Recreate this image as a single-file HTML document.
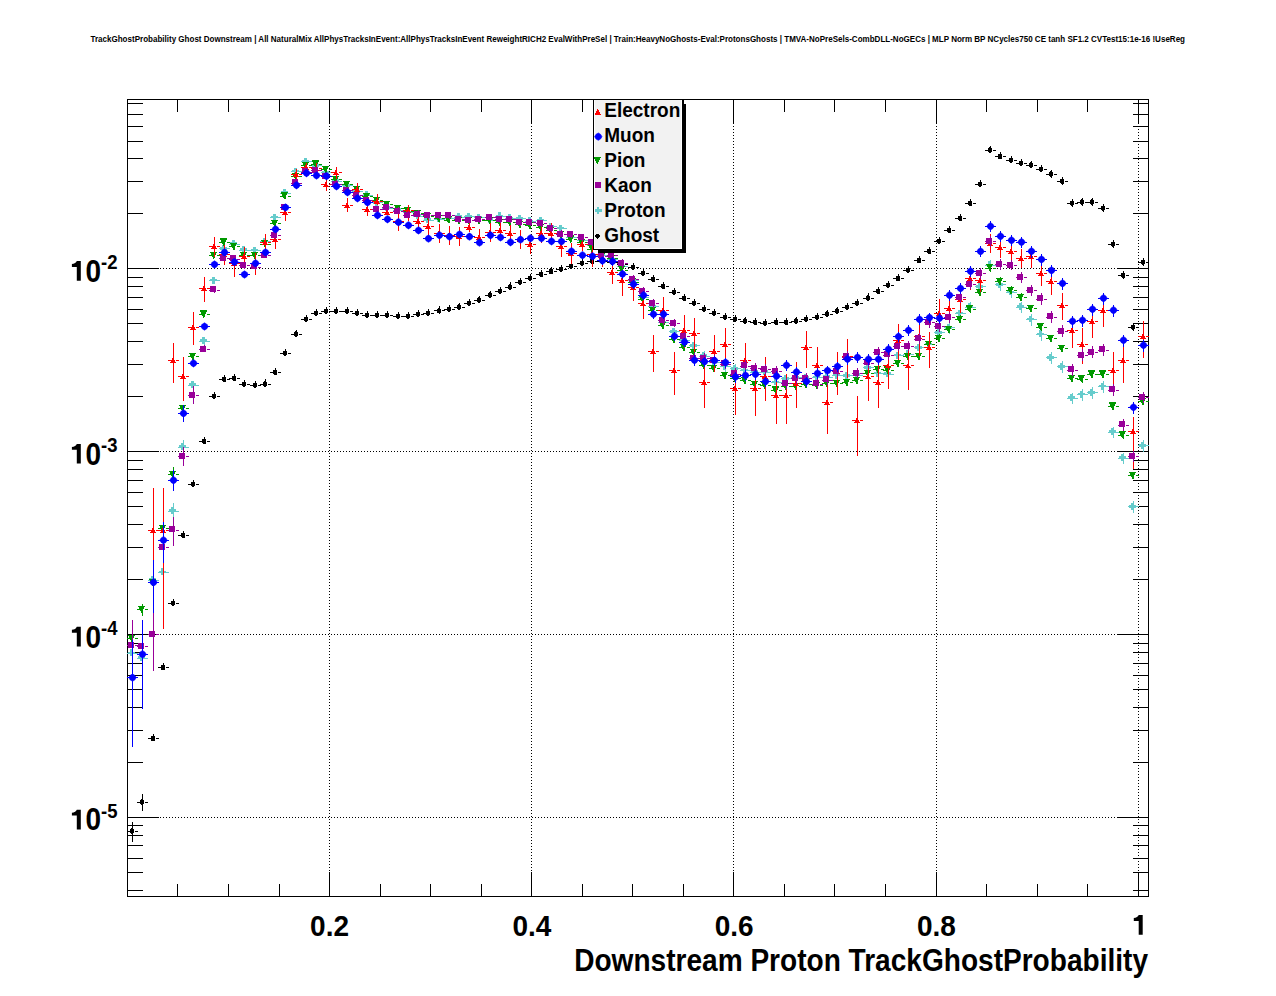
<!DOCTYPE html>
<html><head><meta charset="utf-8"><title>TrackGhostProbability</title>
<style>
html,body{margin:0;padding:0;background:#fff;overflow:hidden;width:1276px;height:996px;}
svg{display:block;}
text{font-family:"Liberation Sans",sans-serif;font-weight:bold;fill:#000;}
.lg{font-size:19px;}
.xl{font-size:28px;}
.yl{font-size:28px;}
.ys{font-size:18.5px;}
.at{font-size:28.5px;}
.tt{font-size:8.6px;}
</style></head>
<body>
<svg width="1276" height="996" viewBox="0 0 1276 996">
<rect x="0" y="0" width="1276" height="996" fill="#fff"/>
<line x1="329.5" y1="99" x2="329.5" y2="896" stroke="#000" stroke-width="1" stroke-dasharray="1,2" shape-rendering="crispEdges"/>
<line x1="531.5" y1="99" x2="531.5" y2="896" stroke="#000" stroke-width="1" stroke-dasharray="1,2" shape-rendering="crispEdges"/>
<line x1="733.5" y1="99" x2="733.5" y2="896" stroke="#000" stroke-width="1" stroke-dasharray="1,2" shape-rendering="crispEdges"/>
<line x1="936.5" y1="99" x2="936.5" y2="896" stroke="#000" stroke-width="1" stroke-dasharray="1,2" shape-rendering="crispEdges"/>
<line x1="1138.5" y1="99" x2="1138.5" y2="896" stroke="#000" stroke-width="1" stroke-dasharray="1,2" shape-rendering="crispEdges"/>
<line x1="127" y1="268.5" x2="1148" y2="268.5" stroke="#000" stroke-width="1" stroke-dasharray="1,2" shape-rendering="crispEdges"/>
<line x1="127" y1="451.5" x2="1148" y2="451.5" stroke="#000" stroke-width="1" stroke-dasharray="1,2" shape-rendering="crispEdges"/>
<line x1="127" y1="634.5" x2="1148" y2="634.5" stroke="#000" stroke-width="1" stroke-dasharray="1,2" shape-rendering="crispEdges"/>
<line x1="127" y1="817.5" x2="1148" y2="817.5" stroke="#000" stroke-width="1" stroke-dasharray="1,2" shape-rendering="crispEdges"/>
<rect x="177" y="884.00" width="1" height="13.00" fill="#000"/>
<rect x="177" y="99.00" width="1" height="13.00" fill="#000"/>
<rect x="228" y="884.00" width="1" height="13.00" fill="#000"/>
<rect x="228" y="99.00" width="1" height="13.00" fill="#000"/>
<rect x="279" y="884.00" width="1" height="13.00" fill="#000"/>
<rect x="279" y="99.00" width="1" height="13.00" fill="#000"/>
<rect x="329" y="872.00" width="1" height="25.00" fill="#000"/>
<rect x="329" y="99.00" width="1" height="25.00" fill="#000"/>
<rect x="380" y="884.00" width="1" height="13.00" fill="#000"/>
<rect x="380" y="99.00" width="1" height="13.00" fill="#000"/>
<rect x="430" y="884.00" width="1" height="13.00" fill="#000"/>
<rect x="430" y="99.00" width="1" height="13.00" fill="#000"/>
<rect x="481" y="884.00" width="1" height="13.00" fill="#000"/>
<rect x="481" y="99.00" width="1" height="13.00" fill="#000"/>
<rect x="531" y="872.00" width="1" height="25.00" fill="#000"/>
<rect x="531" y="99.00" width="1" height="25.00" fill="#000"/>
<rect x="582" y="884.00" width="1" height="13.00" fill="#000"/>
<rect x="582" y="99.00" width="1" height="13.00" fill="#000"/>
<rect x="632" y="884.00" width="1" height="13.00" fill="#000"/>
<rect x="632" y="99.00" width="1" height="13.00" fill="#000"/>
<rect x="683" y="884.00" width="1" height="13.00" fill="#000"/>
<rect x="683" y="99.00" width="1" height="13.00" fill="#000"/>
<rect x="733" y="872.00" width="1" height="25.00" fill="#000"/>
<rect x="733" y="99.00" width="1" height="25.00" fill="#000"/>
<rect x="784" y="884.00" width="1" height="13.00" fill="#000"/>
<rect x="784" y="99.00" width="1" height="13.00" fill="#000"/>
<rect x="834" y="884.00" width="1" height="13.00" fill="#000"/>
<rect x="834" y="99.00" width="1" height="13.00" fill="#000"/>
<rect x="885" y="884.00" width="1" height="13.00" fill="#000"/>
<rect x="885" y="99.00" width="1" height="13.00" fill="#000"/>
<rect x="936" y="872.00" width="1" height="25.00" fill="#000"/>
<rect x="936" y="99.00" width="1" height="25.00" fill="#000"/>
<rect x="986" y="884.00" width="1" height="13.00" fill="#000"/>
<rect x="986" y="99.00" width="1" height="13.00" fill="#000"/>
<rect x="1037" y="884.00" width="1" height="13.00" fill="#000"/>
<rect x="1037" y="99.00" width="1" height="13.00" fill="#000"/>
<rect x="1087" y="884.00" width="1" height="13.00" fill="#000"/>
<rect x="1087" y="99.00" width="1" height="13.00" fill="#000"/>
<rect x="1138" y="872.00" width="1" height="25.00" fill="#000"/>
<rect x="1138" y="99.00" width="1" height="25.00" fill="#000"/>
<rect x="127.00" y="890" width="16.00" height="1" fill="#000"/>
<rect x="1133.00" y="890" width="16.00" height="1" fill="#000"/>
<rect x="127.00" y="872" width="16.00" height="1" fill="#000"/>
<rect x="1133.00" y="872" width="16.00" height="1" fill="#000"/>
<rect x="127.00" y="858" width="16.00" height="1" fill="#000"/>
<rect x="1133.00" y="858" width="16.00" height="1" fill="#000"/>
<rect x="127.00" y="845" width="16.00" height="1" fill="#000"/>
<rect x="1133.00" y="845" width="16.00" height="1" fill="#000"/>
<rect x="127.00" y="835" width="16.00" height="1" fill="#000"/>
<rect x="1133.00" y="835" width="16.00" height="1" fill="#000"/>
<rect x="127.00" y="825" width="16.00" height="1" fill="#000"/>
<rect x="1133.00" y="825" width="16.00" height="1" fill="#000"/>
<rect x="127.00" y="817" width="32.00" height="1" fill="#000"/>
<rect x="1117.00" y="817" width="32.00" height="1" fill="#000"/>
<rect x="127.00" y="762" width="16.00" height="1" fill="#000"/>
<rect x="1133.00" y="762" width="16.00" height="1" fill="#000"/>
<rect x="127.00" y="730" width="16.00" height="1" fill="#000"/>
<rect x="1133.00" y="730" width="16.00" height="1" fill="#000"/>
<rect x="127.00" y="707" width="16.00" height="1" fill="#000"/>
<rect x="1133.00" y="707" width="16.00" height="1" fill="#000"/>
<rect x="127.00" y="689" width="16.00" height="1" fill="#000"/>
<rect x="1133.00" y="689" width="16.00" height="1" fill="#000"/>
<rect x="127.00" y="675" width="16.00" height="1" fill="#000"/>
<rect x="1133.00" y="675" width="16.00" height="1" fill="#000"/>
<rect x="127.00" y="663" width="16.00" height="1" fill="#000"/>
<rect x="1133.00" y="663" width="16.00" height="1" fill="#000"/>
<rect x="127.00" y="652" width="16.00" height="1" fill="#000"/>
<rect x="1133.00" y="652" width="16.00" height="1" fill="#000"/>
<rect x="127.00" y="643" width="16.00" height="1" fill="#000"/>
<rect x="1133.00" y="643" width="16.00" height="1" fill="#000"/>
<rect x="127.00" y="634" width="32.00" height="1" fill="#000"/>
<rect x="1117.00" y="634" width="32.00" height="1" fill="#000"/>
<rect x="127.00" y="579" width="16.00" height="1" fill="#000"/>
<rect x="1133.00" y="579" width="16.00" height="1" fill="#000"/>
<rect x="127.00" y="547" width="16.00" height="1" fill="#000"/>
<rect x="1133.00" y="547" width="16.00" height="1" fill="#000"/>
<rect x="127.00" y="524" width="16.00" height="1" fill="#000"/>
<rect x="1133.00" y="524" width="16.00" height="1" fill="#000"/>
<rect x="127.00" y="506" width="16.00" height="1" fill="#000"/>
<rect x="1133.00" y="506" width="16.00" height="1" fill="#000"/>
<rect x="127.00" y="492" width="16.00" height="1" fill="#000"/>
<rect x="1133.00" y="492" width="16.00" height="1" fill="#000"/>
<rect x="127.00" y="480" width="16.00" height="1" fill="#000"/>
<rect x="1133.00" y="480" width="16.00" height="1" fill="#000"/>
<rect x="127.00" y="469" width="16.00" height="1" fill="#000"/>
<rect x="1133.00" y="469" width="16.00" height="1" fill="#000"/>
<rect x="127.00" y="460" width="16.00" height="1" fill="#000"/>
<rect x="1133.00" y="460" width="16.00" height="1" fill="#000"/>
<rect x="127.00" y="451" width="32.00" height="1" fill="#000"/>
<rect x="1117.00" y="451" width="32.00" height="1" fill="#000"/>
<rect x="127.00" y="396" width="16.00" height="1" fill="#000"/>
<rect x="1133.00" y="396" width="16.00" height="1" fill="#000"/>
<rect x="127.00" y="364" width="16.00" height="1" fill="#000"/>
<rect x="1133.00" y="364" width="16.00" height="1" fill="#000"/>
<rect x="127.00" y="341" width="16.00" height="1" fill="#000"/>
<rect x="1133.00" y="341" width="16.00" height="1" fill="#000"/>
<rect x="127.00" y="323" width="16.00" height="1" fill="#000"/>
<rect x="1133.00" y="323" width="16.00" height="1" fill="#000"/>
<rect x="127.00" y="309" width="16.00" height="1" fill="#000"/>
<rect x="1133.00" y="309" width="16.00" height="1" fill="#000"/>
<rect x="127.00" y="297" width="16.00" height="1" fill="#000"/>
<rect x="1133.00" y="297" width="16.00" height="1" fill="#000"/>
<rect x="127.00" y="286" width="16.00" height="1" fill="#000"/>
<rect x="1133.00" y="286" width="16.00" height="1" fill="#000"/>
<rect x="127.00" y="277" width="16.00" height="1" fill="#000"/>
<rect x="1133.00" y="277" width="16.00" height="1" fill="#000"/>
<rect x="127.00" y="268" width="32.00" height="1" fill="#000"/>
<rect x="1117.00" y="268" width="32.00" height="1" fill="#000"/>
<rect x="127.00" y="213" width="16.00" height="1" fill="#000"/>
<rect x="1133.00" y="213" width="16.00" height="1" fill="#000"/>
<rect x="127.00" y="181" width="16.00" height="1" fill="#000"/>
<rect x="1133.00" y="181" width="16.00" height="1" fill="#000"/>
<rect x="127.00" y="158" width="16.00" height="1" fill="#000"/>
<rect x="1133.00" y="158" width="16.00" height="1" fill="#000"/>
<rect x="127.00" y="141" width="16.00" height="1" fill="#000"/>
<rect x="1133.00" y="141" width="16.00" height="1" fill="#000"/>
<rect x="127.00" y="126" width="16.00" height="1" fill="#000"/>
<rect x="1133.00" y="126" width="16.00" height="1" fill="#000"/>
<rect x="127.00" y="114" width="16.00" height="1" fill="#000"/>
<rect x="1133.00" y="114" width="16.00" height="1" fill="#000"/>
<rect x="127.00" y="103" width="16.00" height="1" fill="#000"/>
<rect x="1133.00" y="103" width="16.00" height="1" fill="#000"/>
<rect x="127.5" y="99.5" width="1021" height="797" fill="none" stroke="#000" stroke-width="1"/>
<g shape-rendering="crispEdges">
<rect x="126.60" y="831" width="3.70" height="1" fill="#000000"/>
<rect x="135.40" y="831" width="3.00" height="1" fill="#000000"/>
<rect x="132" y="822.30" width="1" height="19.50" fill="#000000"/>
<rect x="136.60" y="802" width="3.70" height="1" fill="#000000"/>
<rect x="145.40" y="802" width="3.00" height="1" fill="#000000"/>
<rect x="142" y="794.20" width="1" height="16.50" fill="#000000"/>
<rect x="147.60" y="738" width="3.70" height="1" fill="#000000"/>
<rect x="156.40" y="738" width="3.00" height="1" fill="#000000"/>
<rect x="153" y="736.50" width="1" height="4.30" fill="#000000"/>
<rect x="157.60" y="667" width="3.70" height="1" fill="#000000"/>
<rect x="166.40" y="667" width="3.00" height="1" fill="#000000"/>
<rect x="163" y="665.50" width="1" height="4.30" fill="#000000"/>
<rect x="167.60" y="603" width="3.70" height="1" fill="#000000"/>
<rect x="176.40" y="603" width="3.00" height="1" fill="#000000"/>
<rect x="173" y="601.30" width="1" height="4.30" fill="#000000"/>
<rect x="177.60" y="535" width="3.70" height="1" fill="#000000"/>
<rect x="186.40" y="535" width="3.00" height="1" fill="#000000"/>
<rect x="183" y="533.40" width="1" height="4.30" fill="#000000"/>
<rect x="187.60" y="484" width="3.70" height="1" fill="#000000"/>
<rect x="196.40" y="484" width="3.00" height="1" fill="#000000"/>
<rect x="193" y="482.30" width="1" height="4.30" fill="#000000"/>
<rect x="198.60" y="441" width="3.70" height="1" fill="#000000"/>
<rect x="207.40" y="441" width="3.00" height="1" fill="#000000"/>
<rect x="204" y="439.40" width="1" height="4.30" fill="#000000"/>
<rect x="208.60" y="396" width="3.70" height="1" fill="#000000"/>
<rect x="217.40" y="396" width="3.00" height="1" fill="#000000"/>
<rect x="214" y="394.30" width="1" height="4.30" fill="#000000"/>
<rect x="218.60" y="379" width="3.70" height="1" fill="#000000"/>
<rect x="227.40" y="379" width="3.00" height="1" fill="#000000"/>
<rect x="224" y="377.40" width="1" height="4.30" fill="#000000"/>
<rect x="228.60" y="378" width="3.70" height="1" fill="#000000"/>
<rect x="237.40" y="378" width="3.00" height="1" fill="#000000"/>
<rect x="234" y="376.40" width="1" height="4.30" fill="#000000"/>
<rect x="238.60" y="384" width="3.70" height="1" fill="#000000"/>
<rect x="247.40" y="384" width="3.00" height="1" fill="#000000"/>
<rect x="244" y="382.30" width="1" height="4.30" fill="#000000"/>
<rect x="249.60" y="385" width="3.70" height="1" fill="#000000"/>
<rect x="258.40" y="385" width="3.00" height="1" fill="#000000"/>
<rect x="255" y="383.30" width="1" height="4.30" fill="#000000"/>
<rect x="259.60" y="384" width="3.70" height="1" fill="#000000"/>
<rect x="268.40" y="384" width="3.00" height="1" fill="#000000"/>
<rect x="265" y="382.00" width="1" height="4.30" fill="#000000"/>
<rect x="269.60" y="372" width="3.70" height="1" fill="#000000"/>
<rect x="278.40" y="372" width="3.00" height="1" fill="#000000"/>
<rect x="275" y="370.40" width="1" height="4.30" fill="#000000"/>
<rect x="279.60" y="353" width="3.70" height="1" fill="#000000"/>
<rect x="288.40" y="353" width="3.00" height="1" fill="#000000"/>
<rect x="285" y="351.30" width="1" height="4.30" fill="#000000"/>
<rect x="290.60" y="334" width="3.70" height="1" fill="#000000"/>
<rect x="299.40" y="334" width="3.00" height="1" fill="#000000"/>
<rect x="296" y="332.10" width="1" height="4.30" fill="#000000"/>
<rect x="300.60" y="319" width="3.70" height="1" fill="#000000"/>
<rect x="309.40" y="319" width="3.00" height="1" fill="#000000"/>
<rect x="306" y="317.20" width="1" height="4.30" fill="#000000"/>
<rect x="310.60" y="313" width="3.70" height="1" fill="#000000"/>
<rect x="319.40" y="313" width="3.00" height="1" fill="#000000"/>
<rect x="316" y="311.20" width="1" height="4.30" fill="#000000"/>
<rect x="320.60" y="311" width="3.70" height="1" fill="#000000"/>
<rect x="329.40" y="311" width="3.00" height="1" fill="#000000"/>
<rect x="326" y="309.30" width="1" height="4.30" fill="#000000"/>
<rect x="330.60" y="311" width="3.70" height="1" fill="#000000"/>
<rect x="339.40" y="311" width="3.00" height="1" fill="#000000"/>
<rect x="336" y="309.30" width="1" height="4.30" fill="#000000"/>
<rect x="341.60" y="311" width="3.70" height="1" fill="#000000"/>
<rect x="350.40" y="311" width="3.00" height="1" fill="#000000"/>
<rect x="347" y="309.30" width="1" height="4.30" fill="#000000"/>
<rect x="351.60" y="313" width="3.70" height="1" fill="#000000"/>
<rect x="360.40" y="313" width="3.00" height="1" fill="#000000"/>
<rect x="357" y="311.20" width="1" height="4.30" fill="#000000"/>
<rect x="361.60" y="315" width="3.70" height="1" fill="#000000"/>
<rect x="370.40" y="315" width="3.00" height="1" fill="#000000"/>
<rect x="367" y="313.20" width="1" height="4.30" fill="#000000"/>
<rect x="371.60" y="315" width="3.70" height="1" fill="#000000"/>
<rect x="380.40" y="315" width="3.00" height="1" fill="#000000"/>
<rect x="377" y="313.20" width="1" height="4.30" fill="#000000"/>
<rect x="381.60" y="315" width="3.70" height="1" fill="#000000"/>
<rect x="390.40" y="315" width="3.00" height="1" fill="#000000"/>
<rect x="387" y="313.20" width="1" height="4.30" fill="#000000"/>
<rect x="392.60" y="316" width="3.70" height="1" fill="#000000"/>
<rect x="401.40" y="316" width="3.00" height="1" fill="#000000"/>
<rect x="398" y="314.30" width="1" height="4.30" fill="#000000"/>
<rect x="402.60" y="316" width="3.70" height="1" fill="#000000"/>
<rect x="411.40" y="316" width="3.00" height="1" fill="#000000"/>
<rect x="408" y="314.30" width="1" height="4.30" fill="#000000"/>
<rect x="412.60" y="314" width="3.70" height="1" fill="#000000"/>
<rect x="421.40" y="314" width="3.00" height="1" fill="#000000"/>
<rect x="418" y="312.20" width="1" height="4.30" fill="#000000"/>
<rect x="422.60" y="313" width="3.70" height="1" fill="#000000"/>
<rect x="431.40" y="313" width="3.00" height="1" fill="#000000"/>
<rect x="428" y="311.20" width="1" height="4.30" fill="#000000"/>
<rect x="433.60" y="310" width="3.70" height="1" fill="#000000"/>
<rect x="442.40" y="310" width="3.00" height="1" fill="#000000"/>
<rect x="439" y="308.90" width="1" height="4.30" fill="#000000"/>
<rect x="443.60" y="309" width="3.70" height="1" fill="#000000"/>
<rect x="452.40" y="309" width="3.00" height="1" fill="#000000"/>
<rect x="449" y="307.20" width="1" height="4.30" fill="#000000"/>
<rect x="453.60" y="307" width="3.70" height="1" fill="#000000"/>
<rect x="462.40" y="307" width="3.00" height="1" fill="#000000"/>
<rect x="459" y="305.10" width="1" height="4.30" fill="#000000"/>
<rect x="463.60" y="303" width="3.70" height="1" fill="#000000"/>
<rect x="472.40" y="303" width="3.00" height="1" fill="#000000"/>
<rect x="469" y="301.30" width="1" height="4.30" fill="#000000"/>
<rect x="473.60" y="300" width="3.70" height="1" fill="#000000"/>
<rect x="482.40" y="300" width="3.00" height="1" fill="#000000"/>
<rect x="479" y="298.10" width="1" height="4.30" fill="#000000"/>
<rect x="484.60" y="295" width="3.70" height="1" fill="#000000"/>
<rect x="493.40" y="295" width="3.00" height="1" fill="#000000"/>
<rect x="490" y="293.10" width="1" height="4.30" fill="#000000"/>
<rect x="494.60" y="291" width="3.70" height="1" fill="#000000"/>
<rect x="503.40" y="291" width="3.00" height="1" fill="#000000"/>
<rect x="500" y="289.20" width="1" height="4.30" fill="#000000"/>
<rect x="504.60" y="287" width="3.70" height="1" fill="#000000"/>
<rect x="513.40" y="287" width="3.00" height="1" fill="#000000"/>
<rect x="510" y="285.00" width="1" height="4.30" fill="#000000"/>
<rect x="514.60" y="282" width="3.70" height="1" fill="#000000"/>
<rect x="523.40" y="282" width="3.00" height="1" fill="#000000"/>
<rect x="520" y="280.20" width="1" height="4.30" fill="#000000"/>
<rect x="524.60" y="278" width="3.70" height="1" fill="#000000"/>
<rect x="533.40" y="278" width="3.00" height="1" fill="#000000"/>
<rect x="530" y="276.20" width="1" height="4.30" fill="#000000"/>
<rect x="535.60" y="274" width="3.70" height="1" fill="#000000"/>
<rect x="544.40" y="274" width="3.00" height="1" fill="#000000"/>
<rect x="541" y="272.40" width="1" height="4.30" fill="#000000"/>
<rect x="545.60" y="271" width="3.70" height="1" fill="#000000"/>
<rect x="554.40" y="271" width="3.00" height="1" fill="#000000"/>
<rect x="551" y="269.50" width="1" height="4.30" fill="#000000"/>
<rect x="555.60" y="269" width="3.70" height="1" fill="#000000"/>
<rect x="564.40" y="269" width="3.00" height="1" fill="#000000"/>
<rect x="561" y="267.20" width="1" height="4.30" fill="#000000"/>
<rect x="565.60" y="266" width="3.70" height="1" fill="#000000"/>
<rect x="574.40" y="266" width="3.00" height="1" fill="#000000"/>
<rect x="571" y="264.30" width="1" height="4.30" fill="#000000"/>
<rect x="576.60" y="263" width="3.70" height="1" fill="#000000"/>
<rect x="585.40" y="263" width="3.00" height="1" fill="#000000"/>
<rect x="582" y="261.20" width="1" height="4.30" fill="#000000"/>
<rect x="586.60" y="261" width="3.70" height="1" fill="#000000"/>
<rect x="595.40" y="261" width="3.00" height="1" fill="#000000"/>
<rect x="592" y="259.40" width="1" height="4.30" fill="#000000"/>
<rect x="596.60" y="261" width="3.70" height="1" fill="#000000"/>
<rect x="605.40" y="261" width="3.00" height="1" fill="#000000"/>
<rect x="602" y="259.00" width="1" height="4.30" fill="#000000"/>
<rect x="606.60" y="262" width="3.70" height="1" fill="#000000"/>
<rect x="615.40" y="262" width="3.00" height="1" fill="#000000"/>
<rect x="612" y="260.00" width="1" height="4.30" fill="#000000"/>
<rect x="616.60" y="264" width="3.70" height="1" fill="#000000"/>
<rect x="625.40" y="264" width="3.00" height="1" fill="#000000"/>
<rect x="622" y="262.00" width="1" height="4.30" fill="#000000"/>
<rect x="627.60" y="267" width="3.70" height="1" fill="#000000"/>
<rect x="636.40" y="267" width="3.00" height="1" fill="#000000"/>
<rect x="633" y="265.20" width="1" height="4.30" fill="#000000"/>
<rect x="637.60" y="273" width="3.70" height="1" fill="#000000"/>
<rect x="646.40" y="273" width="3.00" height="1" fill="#000000"/>
<rect x="643" y="271.30" width="1" height="4.30" fill="#000000"/>
<rect x="647.60" y="279" width="3.70" height="1" fill="#000000"/>
<rect x="656.40" y="279" width="3.00" height="1" fill="#000000"/>
<rect x="653" y="277.40" width="1" height="4.30" fill="#000000"/>
<rect x="657.60" y="286" width="3.70" height="1" fill="#000000"/>
<rect x="666.40" y="286" width="3.00" height="1" fill="#000000"/>
<rect x="663" y="284.40" width="1" height="4.30" fill="#000000"/>
<rect x="668.60" y="292" width="3.70" height="1" fill="#000000"/>
<rect x="677.40" y="292" width="3.00" height="1" fill="#000000"/>
<rect x="674" y="290.20" width="1" height="4.30" fill="#000000"/>
<rect x="678.60" y="298" width="3.70" height="1" fill="#000000"/>
<rect x="687.40" y="298" width="3.00" height="1" fill="#000000"/>
<rect x="684" y="296.40" width="1" height="4.30" fill="#000000"/>
<rect x="688.60" y="303" width="3.70" height="1" fill="#000000"/>
<rect x="697.40" y="303" width="3.00" height="1" fill="#000000"/>
<rect x="694" y="301.30" width="1" height="4.30" fill="#000000"/>
<rect x="698.60" y="309" width="3.70" height="1" fill="#000000"/>
<rect x="707.40" y="309" width="3.00" height="1" fill="#000000"/>
<rect x="704" y="307.20" width="1" height="4.30" fill="#000000"/>
<rect x="708.60" y="313" width="3.70" height="1" fill="#000000"/>
<rect x="717.40" y="313" width="3.00" height="1" fill="#000000"/>
<rect x="714" y="311.30" width="1" height="4.30" fill="#000000"/>
<rect x="719.60" y="317" width="3.70" height="1" fill="#000000"/>
<rect x="728.40" y="317" width="3.00" height="1" fill="#000000"/>
<rect x="725" y="315.20" width="1" height="4.30" fill="#000000"/>
<rect x="729.60" y="319" width="3.70" height="1" fill="#000000"/>
<rect x="738.40" y="319" width="3.00" height="1" fill="#000000"/>
<rect x="735" y="317.20" width="1" height="4.30" fill="#000000"/>
<rect x="739.60" y="321" width="3.70" height="1" fill="#000000"/>
<rect x="748.40" y="321" width="3.00" height="1" fill="#000000"/>
<rect x="745" y="319.10" width="1" height="4.30" fill="#000000"/>
<rect x="749.60" y="322" width="3.70" height="1" fill="#000000"/>
<rect x="758.40" y="322" width="3.00" height="1" fill="#000000"/>
<rect x="755" y="320.40" width="1" height="4.30" fill="#000000"/>
<rect x="759.60" y="323" width="3.70" height="1" fill="#000000"/>
<rect x="768.40" y="323" width="3.00" height="1" fill="#000000"/>
<rect x="765" y="321.30" width="1" height="4.30" fill="#000000"/>
<rect x="770.60" y="322" width="3.70" height="1" fill="#000000"/>
<rect x="779.40" y="322" width="3.00" height="1" fill="#000000"/>
<rect x="776" y="320.40" width="1" height="4.30" fill="#000000"/>
<rect x="780.60" y="322" width="3.70" height="1" fill="#000000"/>
<rect x="789.40" y="322" width="3.00" height="1" fill="#000000"/>
<rect x="786" y="320.40" width="1" height="4.30" fill="#000000"/>
<rect x="790.60" y="321" width="3.70" height="1" fill="#000000"/>
<rect x="799.40" y="321" width="3.00" height="1" fill="#000000"/>
<rect x="796" y="319.10" width="1" height="4.30" fill="#000000"/>
<rect x="800.60" y="319" width="3.70" height="1" fill="#000000"/>
<rect x="809.40" y="319" width="3.00" height="1" fill="#000000"/>
<rect x="806" y="317.20" width="1" height="4.30" fill="#000000"/>
<rect x="811.60" y="317" width="3.70" height="1" fill="#000000"/>
<rect x="820.40" y="317" width="3.00" height="1" fill="#000000"/>
<rect x="817" y="315.20" width="1" height="4.30" fill="#000000"/>
<rect x="821.60" y="314" width="3.70" height="1" fill="#000000"/>
<rect x="830.40" y="314" width="3.00" height="1" fill="#000000"/>
<rect x="827" y="312.10" width="1" height="4.30" fill="#000000"/>
<rect x="831.60" y="311" width="3.70" height="1" fill="#000000"/>
<rect x="840.40" y="311" width="3.00" height="1" fill="#000000"/>
<rect x="837" y="309.10" width="1" height="4.30" fill="#000000"/>
<rect x="841.60" y="307" width="3.70" height="1" fill="#000000"/>
<rect x="850.40" y="307" width="3.00" height="1" fill="#000000"/>
<rect x="847" y="305.20" width="1" height="4.30" fill="#000000"/>
<rect x="851.60" y="303" width="3.70" height="1" fill="#000000"/>
<rect x="860.40" y="303" width="3.00" height="1" fill="#000000"/>
<rect x="857" y="301.30" width="1" height="4.30" fill="#000000"/>
<rect x="862.60" y="298" width="3.70" height="1" fill="#000000"/>
<rect x="871.40" y="298" width="3.00" height="1" fill="#000000"/>
<rect x="868" y="296.00" width="1" height="4.30" fill="#000000"/>
<rect x="872.60" y="291" width="3.70" height="1" fill="#000000"/>
<rect x="881.40" y="291" width="3.00" height="1" fill="#000000"/>
<rect x="878" y="289.40" width="1" height="4.30" fill="#000000"/>
<rect x="882.60" y="285" width="3.70" height="1" fill="#000000"/>
<rect x="891.40" y="285" width="3.00" height="1" fill="#000000"/>
<rect x="888" y="283.30" width="1" height="4.30" fill="#000000"/>
<rect x="892.60" y="278" width="3.70" height="1" fill="#000000"/>
<rect x="901.40" y="278" width="3.00" height="1" fill="#000000"/>
<rect x="898" y="276.50" width="1" height="4.30" fill="#000000"/>
<rect x="902.60" y="270" width="3.70" height="1" fill="#000000"/>
<rect x="911.40" y="270" width="3.00" height="1" fill="#000000"/>
<rect x="908" y="268.30" width="1" height="4.30" fill="#000000"/>
<rect x="913.60" y="260" width="3.70" height="1" fill="#000000"/>
<rect x="922.40" y="260" width="3.00" height="1" fill="#000000"/>
<rect x="919" y="258.50" width="1" height="4.30" fill="#000000"/>
<rect x="923.60" y="251" width="3.70" height="1" fill="#000000"/>
<rect x="932.40" y="251" width="3.00" height="1" fill="#000000"/>
<rect x="929" y="249.40" width="1" height="4.30" fill="#000000"/>
<rect x="933.60" y="241" width="3.70" height="1" fill="#000000"/>
<rect x="942.40" y="241" width="3.00" height="1" fill="#000000"/>
<rect x="939" y="239.30" width="1" height="4.30" fill="#000000"/>
<rect x="943.60" y="230" width="3.70" height="1" fill="#000000"/>
<rect x="952.40" y="230" width="3.00" height="1" fill="#000000"/>
<rect x="949" y="228.40" width="1" height="4.30" fill="#000000"/>
<rect x="954.60" y="218" width="3.70" height="1" fill="#000000"/>
<rect x="963.40" y="218" width="3.00" height="1" fill="#000000"/>
<rect x="960" y="216.40" width="1" height="4.30" fill="#000000"/>
<rect x="964.60" y="203" width="3.70" height="1" fill="#000000"/>
<rect x="973.40" y="203" width="3.00" height="1" fill="#000000"/>
<rect x="970" y="201.40" width="1" height="4.30" fill="#000000"/>
<rect x="974.60" y="184" width="3.70" height="1" fill="#000000"/>
<rect x="983.40" y="184" width="3.00" height="1" fill="#000000"/>
<rect x="980" y="182.30" width="1" height="4.30" fill="#000000"/>
<rect x="984.60" y="150" width="3.70" height="1" fill="#000000"/>
<rect x="993.40" y="150" width="3.00" height="1" fill="#000000"/>
<rect x="990" y="148.10" width="1" height="4.30" fill="#000000"/>
<rect x="994.60" y="156" width="3.70" height="1" fill="#000000"/>
<rect x="1003.40" y="156" width="3.00" height="1" fill="#000000"/>
<rect x="1000" y="154.50" width="1" height="4.30" fill="#000000"/>
<rect x="1005.60" y="160" width="3.70" height="1" fill="#000000"/>
<rect x="1014.40" y="160" width="3.00" height="1" fill="#000000"/>
<rect x="1011" y="158.30" width="1" height="4.30" fill="#000000"/>
<rect x="1015.60" y="163" width="3.70" height="1" fill="#000000"/>
<rect x="1024.40" y="163" width="3.00" height="1" fill="#000000"/>
<rect x="1021" y="161.20" width="1" height="4.30" fill="#000000"/>
<rect x="1025.60" y="165" width="3.70" height="1" fill="#000000"/>
<rect x="1034.40" y="165" width="3.00" height="1" fill="#000000"/>
<rect x="1031" y="163.10" width="1" height="4.30" fill="#000000"/>
<rect x="1035.60" y="169" width="3.70" height="1" fill="#000000"/>
<rect x="1044.40" y="169" width="3.00" height="1" fill="#000000"/>
<rect x="1041" y="167.30" width="1" height="4.30" fill="#000000"/>
<rect x="1045.60" y="174" width="3.70" height="1" fill="#000000"/>
<rect x="1054.40" y="174" width="3.00" height="1" fill="#000000"/>
<rect x="1051" y="171.10" width="1" height="6.45" fill="#000000"/>
<rect x="1056.60" y="181" width="3.70" height="1" fill="#000000"/>
<rect x="1065.40" y="181" width="3.00" height="1" fill="#000000"/>
<rect x="1062" y="178.40" width="1" height="6.45" fill="#000000"/>
<rect x="1066.60" y="203" width="3.70" height="1" fill="#000000"/>
<rect x="1075.40" y="203" width="3.00" height="1" fill="#000000"/>
<rect x="1072" y="200.30" width="1" height="6.45" fill="#000000"/>
<rect x="1076.60" y="202" width="3.70" height="1" fill="#000000"/>
<rect x="1085.40" y="202" width="3.00" height="1" fill="#000000"/>
<rect x="1082" y="199.10" width="1" height="6.45" fill="#000000"/>
<rect x="1086.60" y="202" width="3.70" height="1" fill="#000000"/>
<rect x="1095.40" y="202" width="3.00" height="1" fill="#000000"/>
<rect x="1092" y="199.10" width="1" height="6.45" fill="#000000"/>
<rect x="1097.60" y="208" width="3.70" height="1" fill="#000000"/>
<rect x="1106.40" y="208" width="3.00" height="1" fill="#000000"/>
<rect x="1103" y="205.30" width="1" height="6.45" fill="#000000"/>
<rect x="1107.60" y="244" width="3.70" height="1" fill="#000000"/>
<rect x="1116.40" y="244" width="3.00" height="1" fill="#000000"/>
<rect x="1113" y="241.30" width="1" height="6.45" fill="#000000"/>
<rect x="1117.60" y="275" width="3.70" height="1" fill="#000000"/>
<rect x="1126.40" y="275" width="3.00" height="1" fill="#000000"/>
<rect x="1123" y="272.40" width="1" height="6.45" fill="#000000"/>
<rect x="1127.60" y="327" width="3.70" height="1" fill="#000000"/>
<rect x="1136.40" y="327" width="3.00" height="1" fill="#000000"/>
<rect x="1133" y="324.30" width="1" height="6.45" fill="#000000"/>
<rect x="1137.60" y="262" width="3.70" height="1" fill="#000000"/>
<rect x="1146.40" y="262" width="3.00" height="1" fill="#000000"/>
<rect x="1143" y="259.30" width="1" height="6.45" fill="#000000"/>
<ellipse cx="132.10" cy="831.00" rx="2.15" ry="2.7" fill="#000000"/>
<rect x="132" y="826.40" width="1" height="2" fill="#000000"/>
<ellipse cx="142.10" cy="802.00" rx="2.15" ry="2.7" fill="#000000"/>
<rect x="142" y="797.40" width="1" height="2" fill="#000000"/>
<ellipse cx="153.10" cy="738.50" rx="2.15" ry="2.7" fill="#000000"/>
<rect x="153" y="733.90" width="1" height="2" fill="#000000"/>
<ellipse cx="163.10" cy="667.50" rx="2.15" ry="2.7" fill="#000000"/>
<rect x="163" y="662.90" width="1" height="2" fill="#000000"/>
<ellipse cx="173.10" cy="603.30" rx="2.15" ry="2.7" fill="#000000"/>
<rect x="173" y="598.70" width="1" height="2" fill="#000000"/>
<ellipse cx="183.10" cy="535.40" rx="2.15" ry="2.7" fill="#000000"/>
<rect x="183" y="530.80" width="1" height="2" fill="#000000"/>
<ellipse cx="193.10" cy="484.30" rx="2.15" ry="2.7" fill="#000000"/>
<rect x="193" y="479.70" width="1" height="2" fill="#000000"/>
<ellipse cx="204.10" cy="441.40" rx="2.15" ry="2.7" fill="#000000"/>
<rect x="204" y="436.80" width="1" height="2" fill="#000000"/>
<ellipse cx="214.10" cy="396.30" rx="2.15" ry="2.7" fill="#000000"/>
<rect x="214" y="391.70" width="1" height="2" fill="#000000"/>
<ellipse cx="224.10" cy="379.40" rx="2.15" ry="2.7" fill="#000000"/>
<rect x="224" y="374.80" width="1" height="2" fill="#000000"/>
<ellipse cx="234.10" cy="378.40" rx="2.15" ry="2.7" fill="#000000"/>
<rect x="234" y="373.80" width="1" height="2" fill="#000000"/>
<ellipse cx="244.10" cy="384.30" rx="2.15" ry="2.7" fill="#000000"/>
<rect x="244" y="379.70" width="1" height="2" fill="#000000"/>
<ellipse cx="255.10" cy="385.30" rx="2.15" ry="2.7" fill="#000000"/>
<rect x="255" y="380.70" width="1" height="2" fill="#000000"/>
<ellipse cx="265.10" cy="384.00" rx="2.15" ry="2.7" fill="#000000"/>
<rect x="265" y="379.40" width="1" height="2" fill="#000000"/>
<ellipse cx="275.10" cy="372.40" rx="2.15" ry="2.7" fill="#000000"/>
<rect x="275" y="367.80" width="1" height="2" fill="#000000"/>
<ellipse cx="285.10" cy="353.30" rx="2.15" ry="2.7" fill="#000000"/>
<rect x="285" y="348.70" width="1" height="2" fill="#000000"/>
<ellipse cx="296.10" cy="334.10" rx="2.15" ry="2.7" fill="#000000"/>
<rect x="296" y="329.50" width="1" height="2" fill="#000000"/>
<ellipse cx="306.10" cy="319.20" rx="2.15" ry="2.7" fill="#000000"/>
<rect x="306" y="314.60" width="1" height="2" fill="#000000"/>
<ellipse cx="316.10" cy="313.20" rx="2.15" ry="2.7" fill="#000000"/>
<rect x="316" y="308.60" width="1" height="2" fill="#000000"/>
<ellipse cx="326.10" cy="311.30" rx="2.15" ry="2.7" fill="#000000"/>
<rect x="326" y="306.70" width="1" height="2" fill="#000000"/>
<ellipse cx="336.10" cy="311.30" rx="2.15" ry="2.7" fill="#000000"/>
<rect x="336" y="306.70" width="1" height="2" fill="#000000"/>
<ellipse cx="347.10" cy="311.30" rx="2.15" ry="2.7" fill="#000000"/>
<rect x="347" y="306.70" width="1" height="2" fill="#000000"/>
<ellipse cx="357.10" cy="313.20" rx="2.15" ry="2.7" fill="#000000"/>
<rect x="357" y="308.60" width="1" height="2" fill="#000000"/>
<ellipse cx="367.10" cy="315.20" rx="2.15" ry="2.7" fill="#000000"/>
<rect x="367" y="310.60" width="1" height="2" fill="#000000"/>
<ellipse cx="377.10" cy="315.20" rx="2.15" ry="2.7" fill="#000000"/>
<rect x="377" y="310.60" width="1" height="2" fill="#000000"/>
<ellipse cx="387.10" cy="315.20" rx="2.15" ry="2.7" fill="#000000"/>
<rect x="387" y="310.60" width="1" height="2" fill="#000000"/>
<ellipse cx="398.10" cy="316.30" rx="2.15" ry="2.7" fill="#000000"/>
<rect x="398" y="311.70" width="1" height="2" fill="#000000"/>
<ellipse cx="408.10" cy="316.30" rx="2.15" ry="2.7" fill="#000000"/>
<rect x="408" y="311.70" width="1" height="2" fill="#000000"/>
<ellipse cx="418.10" cy="314.20" rx="2.15" ry="2.7" fill="#000000"/>
<rect x="418" y="309.60" width="1" height="2" fill="#000000"/>
<ellipse cx="428.10" cy="313.20" rx="2.15" ry="2.7" fill="#000000"/>
<rect x="428" y="308.60" width="1" height="2" fill="#000000"/>
<ellipse cx="439.10" cy="310.90" rx="2.15" ry="2.7" fill="#000000"/>
<rect x="439" y="306.30" width="1" height="2" fill="#000000"/>
<ellipse cx="449.10" cy="309.20" rx="2.15" ry="2.7" fill="#000000"/>
<rect x="449" y="304.60" width="1" height="2" fill="#000000"/>
<ellipse cx="459.10" cy="307.10" rx="2.15" ry="2.7" fill="#000000"/>
<rect x="459" y="302.50" width="1" height="2" fill="#000000"/>
<ellipse cx="469.10" cy="303.30" rx="2.15" ry="2.7" fill="#000000"/>
<rect x="469" y="298.70" width="1" height="2" fill="#000000"/>
<ellipse cx="479.10" cy="300.10" rx="2.15" ry="2.7" fill="#000000"/>
<rect x="479" y="295.50" width="1" height="2" fill="#000000"/>
<ellipse cx="490.10" cy="295.10" rx="2.15" ry="2.7" fill="#000000"/>
<rect x="490" y="290.50" width="1" height="2" fill="#000000"/>
<ellipse cx="500.10" cy="291.20" rx="2.15" ry="2.7" fill="#000000"/>
<rect x="500" y="286.60" width="1" height="2" fill="#000000"/>
<ellipse cx="510.10" cy="287.00" rx="2.15" ry="2.7" fill="#000000"/>
<rect x="510" y="282.40" width="1" height="2" fill="#000000"/>
<ellipse cx="520.10" cy="282.20" rx="2.15" ry="2.7" fill="#000000"/>
<rect x="520" y="277.60" width="1" height="2" fill="#000000"/>
<ellipse cx="530.10" cy="278.20" rx="2.15" ry="2.7" fill="#000000"/>
<rect x="530" y="273.60" width="1" height="2" fill="#000000"/>
<ellipse cx="541.10" cy="274.40" rx="2.15" ry="2.7" fill="#000000"/>
<rect x="541" y="269.80" width="1" height="2" fill="#000000"/>
<ellipse cx="551.10" cy="271.50" rx="2.15" ry="2.7" fill="#000000"/>
<rect x="551" y="266.90" width="1" height="2" fill="#000000"/>
<ellipse cx="561.10" cy="269.20" rx="2.15" ry="2.7" fill="#000000"/>
<rect x="561" y="264.60" width="1" height="2" fill="#000000"/>
<ellipse cx="571.10" cy="266.30" rx="2.15" ry="2.7" fill="#000000"/>
<rect x="571" y="261.70" width="1" height="2" fill="#000000"/>
<ellipse cx="582.10" cy="263.20" rx="2.15" ry="2.7" fill="#000000"/>
<rect x="582" y="258.60" width="1" height="2" fill="#000000"/>
<ellipse cx="592.10" cy="261.40" rx="2.15" ry="2.7" fill="#000000"/>
<rect x="592" y="256.80" width="1" height="2" fill="#000000"/>
<ellipse cx="602.10" cy="261.00" rx="2.15" ry="2.7" fill="#000000"/>
<rect x="602" y="256.40" width="1" height="2" fill="#000000"/>
<ellipse cx="612.10" cy="262.00" rx="2.15" ry="2.7" fill="#000000"/>
<rect x="612" y="257.40" width="1" height="2" fill="#000000"/>
<ellipse cx="622.10" cy="264.00" rx="2.15" ry="2.7" fill="#000000"/>
<rect x="622" y="259.40" width="1" height="2" fill="#000000"/>
<ellipse cx="633.10" cy="267.20" rx="2.15" ry="2.7" fill="#000000"/>
<rect x="633" y="262.60" width="1" height="2" fill="#000000"/>
<ellipse cx="643.10" cy="273.30" rx="2.15" ry="2.7" fill="#000000"/>
<rect x="643" y="268.70" width="1" height="2" fill="#000000"/>
<ellipse cx="653.10" cy="279.40" rx="2.15" ry="2.7" fill="#000000"/>
<rect x="653" y="274.80" width="1" height="2" fill="#000000"/>
<ellipse cx="663.10" cy="286.40" rx="2.15" ry="2.7" fill="#000000"/>
<rect x="663" y="281.80" width="1" height="2" fill="#000000"/>
<ellipse cx="674.10" cy="292.20" rx="2.15" ry="2.7" fill="#000000"/>
<rect x="674" y="287.60" width="1" height="2" fill="#000000"/>
<ellipse cx="684.10" cy="298.40" rx="2.15" ry="2.7" fill="#000000"/>
<rect x="684" y="293.80" width="1" height="2" fill="#000000"/>
<ellipse cx="694.10" cy="303.30" rx="2.15" ry="2.7" fill="#000000"/>
<rect x="694" y="298.70" width="1" height="2" fill="#000000"/>
<ellipse cx="704.10" cy="309.20" rx="2.15" ry="2.7" fill="#000000"/>
<rect x="704" y="304.60" width="1" height="2" fill="#000000"/>
<ellipse cx="714.10" cy="313.30" rx="2.15" ry="2.7" fill="#000000"/>
<rect x="714" y="308.70" width="1" height="2" fill="#000000"/>
<ellipse cx="725.10" cy="317.20" rx="2.15" ry="2.7" fill="#000000"/>
<rect x="725" y="312.60" width="1" height="2" fill="#000000"/>
<ellipse cx="735.10" cy="319.20" rx="2.15" ry="2.7" fill="#000000"/>
<rect x="735" y="314.60" width="1" height="2" fill="#000000"/>
<ellipse cx="745.10" cy="321.10" rx="2.15" ry="2.7" fill="#000000"/>
<rect x="745" y="316.50" width="1" height="2" fill="#000000"/>
<ellipse cx="755.10" cy="322.40" rx="2.15" ry="2.7" fill="#000000"/>
<rect x="755" y="317.80" width="1" height="2" fill="#000000"/>
<ellipse cx="765.10" cy="323.30" rx="2.15" ry="2.7" fill="#000000"/>
<rect x="765" y="318.70" width="1" height="2" fill="#000000"/>
<ellipse cx="776.10" cy="322.40" rx="2.15" ry="2.7" fill="#000000"/>
<rect x="776" y="317.80" width="1" height="2" fill="#000000"/>
<ellipse cx="786.10" cy="322.40" rx="2.15" ry="2.7" fill="#000000"/>
<rect x="786" y="317.80" width="1" height="2" fill="#000000"/>
<ellipse cx="796.10" cy="321.10" rx="2.15" ry="2.7" fill="#000000"/>
<rect x="796" y="316.50" width="1" height="2" fill="#000000"/>
<ellipse cx="806.10" cy="319.20" rx="2.15" ry="2.7" fill="#000000"/>
<rect x="806" y="314.60" width="1" height="2" fill="#000000"/>
<ellipse cx="817.10" cy="317.20" rx="2.15" ry="2.7" fill="#000000"/>
<rect x="817" y="312.60" width="1" height="2" fill="#000000"/>
<ellipse cx="827.10" cy="314.10" rx="2.15" ry="2.7" fill="#000000"/>
<rect x="827" y="309.50" width="1" height="2" fill="#000000"/>
<ellipse cx="837.10" cy="311.10" rx="2.15" ry="2.7" fill="#000000"/>
<rect x="837" y="306.50" width="1" height="2" fill="#000000"/>
<ellipse cx="847.10" cy="307.20" rx="2.15" ry="2.7" fill="#000000"/>
<rect x="847" y="302.60" width="1" height="2" fill="#000000"/>
<ellipse cx="857.10" cy="303.30" rx="2.15" ry="2.7" fill="#000000"/>
<rect x="857" y="298.70" width="1" height="2" fill="#000000"/>
<ellipse cx="868.10" cy="298.00" rx="2.15" ry="2.7" fill="#000000"/>
<rect x="868" y="293.40" width="1" height="2" fill="#000000"/>
<ellipse cx="878.10" cy="291.40" rx="2.15" ry="2.7" fill="#000000"/>
<rect x="878" y="286.80" width="1" height="2" fill="#000000"/>
<ellipse cx="888.10" cy="285.30" rx="2.15" ry="2.7" fill="#000000"/>
<rect x="888" y="280.70" width="1" height="2" fill="#000000"/>
<ellipse cx="898.10" cy="278.50" rx="2.15" ry="2.7" fill="#000000"/>
<rect x="898" y="273.90" width="1" height="2" fill="#000000"/>
<ellipse cx="908.10" cy="270.30" rx="2.15" ry="2.7" fill="#000000"/>
<rect x="908" y="265.70" width="1" height="2" fill="#000000"/>
<ellipse cx="919.10" cy="260.50" rx="2.15" ry="2.7" fill="#000000"/>
<rect x="919" y="255.90" width="1" height="2" fill="#000000"/>
<ellipse cx="929.10" cy="251.40" rx="2.15" ry="2.7" fill="#000000"/>
<rect x="929" y="246.80" width="1" height="2" fill="#000000"/>
<ellipse cx="939.10" cy="241.30" rx="2.15" ry="2.7" fill="#000000"/>
<rect x="939" y="236.70" width="1" height="2" fill="#000000"/>
<ellipse cx="949.10" cy="230.40" rx="2.15" ry="2.7" fill="#000000"/>
<rect x="949" y="225.80" width="1" height="2" fill="#000000"/>
<ellipse cx="960.10" cy="218.40" rx="2.15" ry="2.7" fill="#000000"/>
<rect x="960" y="213.80" width="1" height="2" fill="#000000"/>
<ellipse cx="970.10" cy="203.40" rx="2.15" ry="2.7" fill="#000000"/>
<rect x="970" y="198.80" width="1" height="2" fill="#000000"/>
<ellipse cx="980.10" cy="184.30" rx="2.15" ry="2.7" fill="#000000"/>
<rect x="980" y="179.70" width="1" height="2" fill="#000000"/>
<ellipse cx="990.10" cy="150.10" rx="2.15" ry="2.7" fill="#000000"/>
<rect x="990" y="145.50" width="1" height="2" fill="#000000"/>
<ellipse cx="1000.10" cy="156.50" rx="2.15" ry="2.7" fill="#000000"/>
<rect x="1000" y="151.90" width="1" height="2" fill="#000000"/>
<ellipse cx="1011.10" cy="160.30" rx="2.15" ry="2.7" fill="#000000"/>
<rect x="1011" y="155.70" width="1" height="2" fill="#000000"/>
<ellipse cx="1021.10" cy="163.20" rx="2.15" ry="2.7" fill="#000000"/>
<rect x="1021" y="158.60" width="1" height="2" fill="#000000"/>
<ellipse cx="1031.10" cy="165.10" rx="2.15" ry="2.7" fill="#000000"/>
<rect x="1031" y="160.50" width="1" height="2" fill="#000000"/>
<ellipse cx="1041.10" cy="169.30" rx="2.15" ry="2.7" fill="#000000"/>
<rect x="1041" y="164.70" width="1" height="2" fill="#000000"/>
<ellipse cx="1051.10" cy="174.10" rx="2.15" ry="2.7" fill="#000000"/>
<rect x="1051" y="169.50" width="1" height="2" fill="#000000"/>
<ellipse cx="1062.10" cy="181.40" rx="2.15" ry="2.7" fill="#000000"/>
<rect x="1062" y="176.80" width="1" height="2" fill="#000000"/>
<ellipse cx="1072.10" cy="203.30" rx="2.15" ry="2.7" fill="#000000"/>
<rect x="1072" y="198.70" width="1" height="2" fill="#000000"/>
<ellipse cx="1082.10" cy="202.10" rx="2.15" ry="2.7" fill="#000000"/>
<rect x="1082" y="197.50" width="1" height="2" fill="#000000"/>
<ellipse cx="1092.10" cy="202.10" rx="2.15" ry="2.7" fill="#000000"/>
<rect x="1092" y="197.50" width="1" height="2" fill="#000000"/>
<ellipse cx="1103.10" cy="208.30" rx="2.15" ry="2.7" fill="#000000"/>
<rect x="1103" y="203.70" width="1" height="2" fill="#000000"/>
<ellipse cx="1113.10" cy="244.30" rx="2.15" ry="2.7" fill="#000000"/>
<rect x="1113" y="239.70" width="1" height="2" fill="#000000"/>
<ellipse cx="1123.10" cy="275.40" rx="2.15" ry="2.7" fill="#000000"/>
<rect x="1123" y="270.80" width="1" height="2" fill="#000000"/>
<ellipse cx="1133.10" cy="327.30" rx="2.15" ry="2.7" fill="#000000"/>
<rect x="1133" y="322.70" width="1" height="2" fill="#000000"/>
<ellipse cx="1143.10" cy="262.30" rx="2.15" ry="2.7" fill="#000000"/>
<rect x="1143" y="257.70" width="1" height="2" fill="#000000"/>
<rect x="126.60" y="653" width="3.90" height="1" fill="#66cccc"/>
<rect x="135.30" y="653" width="3.10" height="1" fill="#66cccc"/>
<rect x="132" y="640.00" width="1" height="28.00" fill="#66cccc"/>
<rect x="136.60" y="658" width="3.90" height="1" fill="#66cccc"/>
<rect x="145.30" y="658" width="3.10" height="1" fill="#66cccc"/>
<rect x="142" y="645.00" width="1" height="27.00" fill="#66cccc"/>
<rect x="147.60" y="580" width="3.90" height="1" fill="#66cccc"/>
<rect x="156.30" y="580" width="3.10" height="1" fill="#66cccc"/>
<rect x="153" y="570.00" width="1" height="22.00" fill="#66cccc"/>
<rect x="157.60" y="572" width="3.90" height="1" fill="#66cccc"/>
<rect x="166.30" y="572" width="3.10" height="1" fill="#66cccc"/>
<rect x="163" y="562.00" width="1" height="22.00" fill="#66cccc"/>
<rect x="167.60" y="511" width="3.90" height="1" fill="#66cccc"/>
<rect x="176.30" y="511" width="3.10" height="1" fill="#66cccc"/>
<rect x="173" y="503.00" width="1" height="14.00" fill="#66cccc"/>
<rect x="177.60" y="447" width="3.90" height="1" fill="#66cccc"/>
<rect x="186.30" y="447" width="3.10" height="1" fill="#66cccc"/>
<rect x="183" y="440.00" width="1" height="15.00" fill="#66cccc"/>
<rect x="187.60" y="385" width="3.90" height="1" fill="#66cccc"/>
<rect x="196.30" y="385" width="3.10" height="1" fill="#66cccc"/>
<rect x="193" y="381.90" width="1" height="6.88" fill="#66cccc"/>
<rect x="198.60" y="341" width="3.90" height="1" fill="#66cccc"/>
<rect x="207.30" y="341" width="3.10" height="1" fill="#66cccc"/>
<rect x="204" y="337.80" width="1" height="6.88" fill="#66cccc"/>
<rect x="208.60" y="280" width="3.90" height="1" fill="#66cccc"/>
<rect x="217.30" y="280" width="3.10" height="1" fill="#66cccc"/>
<rect x="214" y="277.40" width="1" height="6.88" fill="#66cccc"/>
<rect x="218.60" y="248" width="3.90" height="1" fill="#66cccc"/>
<rect x="227.30" y="248" width="3.10" height="1" fill="#66cccc"/>
<rect x="224" y="245.60" width="1" height="6.88" fill="#66cccc"/>
<rect x="228.60" y="244" width="3.90" height="1" fill="#66cccc"/>
<rect x="237.30" y="244" width="3.10" height="1" fill="#66cccc"/>
<rect x="234" y="240.80" width="1" height="6.88" fill="#66cccc"/>
<rect x="238.60" y="250" width="3.90" height="1" fill="#66cccc"/>
<rect x="247.30" y="250" width="3.10" height="1" fill="#66cccc"/>
<rect x="244" y="246.80" width="1" height="6.88" fill="#66cccc"/>
<rect x="249.60" y="250" width="3.90" height="1" fill="#66cccc"/>
<rect x="258.30" y="250" width="3.10" height="1" fill="#66cccc"/>
<rect x="255" y="247.40" width="1" height="6.88" fill="#66cccc"/>
<rect x="259.60" y="241" width="3.90" height="1" fill="#66cccc"/>
<rect x="268.30" y="241" width="3.10" height="1" fill="#66cccc"/>
<rect x="265" y="238.40" width="1" height="6.88" fill="#66cccc"/>
<rect x="269.60" y="217" width="3.90" height="1" fill="#66cccc"/>
<rect x="278.30" y="217" width="3.10" height="1" fill="#66cccc"/>
<rect x="275" y="214.30" width="1" height="6.88" fill="#66cccc"/>
<rect x="279.60" y="193" width="3.90" height="1" fill="#66cccc"/>
<rect x="288.30" y="193" width="3.10" height="1" fill="#66cccc"/>
<rect x="285" y="189.80" width="1" height="6.88" fill="#66cccc"/>
<rect x="290.60" y="171" width="3.90" height="1" fill="#66cccc"/>
<rect x="299.30" y="171" width="3.10" height="1" fill="#66cccc"/>
<rect x="296" y="168.40" width="1" height="6.88" fill="#66cccc"/>
<rect x="300.60" y="161" width="3.90" height="1" fill="#66cccc"/>
<rect x="309.30" y="161" width="3.10" height="1" fill="#66cccc"/>
<rect x="306" y="158.50" width="1" height="6.88" fill="#66cccc"/>
<rect x="310.60" y="165" width="3.90" height="1" fill="#66cccc"/>
<rect x="319.30" y="165" width="3.10" height="1" fill="#66cccc"/>
<rect x="316" y="162.70" width="1" height="6.88" fill="#66cccc"/>
<rect x="320.60" y="172" width="3.90" height="1" fill="#66cccc"/>
<rect x="329.30" y="172" width="3.10" height="1" fill="#66cccc"/>
<rect x="326" y="169.30" width="1" height="6.88" fill="#66cccc"/>
<rect x="330.60" y="181" width="3.90" height="1" fill="#66cccc"/>
<rect x="339.30" y="181" width="3.10" height="1" fill="#66cccc"/>
<rect x="336" y="177.80" width="1" height="6.88" fill="#66cccc"/>
<rect x="341.60" y="185" width="3.90" height="1" fill="#66cccc"/>
<rect x="350.30" y="185" width="3.10" height="1" fill="#66cccc"/>
<rect x="347" y="182.60" width="1" height="6.88" fill="#66cccc"/>
<rect x="351.60" y="191" width="3.90" height="1" fill="#66cccc"/>
<rect x="360.30" y="191" width="3.10" height="1" fill="#66cccc"/>
<rect x="357" y="188.60" width="1" height="6.88" fill="#66cccc"/>
<rect x="361.60" y="195" width="3.90" height="1" fill="#66cccc"/>
<rect x="370.30" y="195" width="3.10" height="1" fill="#66cccc"/>
<rect x="367" y="191.80" width="1" height="6.88" fill="#66cccc"/>
<rect x="371.60" y="202" width="3.90" height="1" fill="#66cccc"/>
<rect x="380.30" y="202" width="3.10" height="1" fill="#66cccc"/>
<rect x="377" y="199.60" width="1" height="6.88" fill="#66cccc"/>
<rect x="381.60" y="208" width="3.90" height="1" fill="#66cccc"/>
<rect x="390.30" y="208" width="3.10" height="1" fill="#66cccc"/>
<rect x="387" y="204.80" width="1" height="6.88" fill="#66cccc"/>
<rect x="392.60" y="210" width="3.90" height="1" fill="#66cccc"/>
<rect x="401.30" y="210" width="3.10" height="1" fill="#66cccc"/>
<rect x="398" y="206.80" width="1" height="6.88" fill="#66cccc"/>
<rect x="402.60" y="212" width="3.90" height="1" fill="#66cccc"/>
<rect x="411.30" y="212" width="3.10" height="1" fill="#66cccc"/>
<rect x="408" y="209.10" width="1" height="6.88" fill="#66cccc"/>
<rect x="412.60" y="216" width="3.90" height="1" fill="#66cccc"/>
<rect x="421.30" y="216" width="3.10" height="1" fill="#66cccc"/>
<rect x="418" y="212.80" width="1" height="6.88" fill="#66cccc"/>
<rect x="422.60" y="220" width="3.90" height="1" fill="#66cccc"/>
<rect x="431.30" y="220" width="3.10" height="1" fill="#66cccc"/>
<rect x="428" y="216.80" width="1" height="6.88" fill="#66cccc"/>
<rect x="433.60" y="219" width="3.90" height="1" fill="#66cccc"/>
<rect x="442.30" y="219" width="3.10" height="1" fill="#66cccc"/>
<rect x="439" y="216.00" width="1" height="6.88" fill="#66cccc"/>
<rect x="443.60" y="218" width="3.90" height="1" fill="#66cccc"/>
<rect x="452.30" y="218" width="3.10" height="1" fill="#66cccc"/>
<rect x="449" y="215.00" width="1" height="6.88" fill="#66cccc"/>
<rect x="453.60" y="217" width="3.90" height="1" fill="#66cccc"/>
<rect x="462.30" y="217" width="3.10" height="1" fill="#66cccc"/>
<rect x="459" y="213.90" width="1" height="6.88" fill="#66cccc"/>
<rect x="463.60" y="216" width="3.90" height="1" fill="#66cccc"/>
<rect x="472.30" y="216" width="3.10" height="1" fill="#66cccc"/>
<rect x="469" y="213.40" width="1" height="6.88" fill="#66cccc"/>
<rect x="473.60" y="217" width="3.90" height="1" fill="#66cccc"/>
<rect x="482.30" y="217" width="3.10" height="1" fill="#66cccc"/>
<rect x="479" y="214.30" width="1" height="6.88" fill="#66cccc"/>
<rect x="484.60" y="220" width="3.90" height="1" fill="#66cccc"/>
<rect x="493.30" y="220" width="3.10" height="1" fill="#66cccc"/>
<rect x="490" y="216.90" width="1" height="6.88" fill="#66cccc"/>
<rect x="494.60" y="216" width="3.90" height="1" fill="#66cccc"/>
<rect x="503.30" y="216" width="3.10" height="1" fill="#66cccc"/>
<rect x="500" y="213.00" width="1" height="6.88" fill="#66cccc"/>
<rect x="504.60" y="218" width="3.90" height="1" fill="#66cccc"/>
<rect x="513.30" y="218" width="3.10" height="1" fill="#66cccc"/>
<rect x="510" y="215.00" width="1" height="6.88" fill="#66cccc"/>
<rect x="514.60" y="218" width="3.90" height="1" fill="#66cccc"/>
<rect x="523.30" y="218" width="3.10" height="1" fill="#66cccc"/>
<rect x="520" y="215.60" width="1" height="6.88" fill="#66cccc"/>
<rect x="524.60" y="221" width="3.90" height="1" fill="#66cccc"/>
<rect x="533.30" y="221" width="3.10" height="1" fill="#66cccc"/>
<rect x="530" y="218.00" width="1" height="6.88" fill="#66cccc"/>
<rect x="535.60" y="220" width="3.90" height="1" fill="#66cccc"/>
<rect x="544.30" y="220" width="3.10" height="1" fill="#66cccc"/>
<rect x="541" y="217.30" width="1" height="6.88" fill="#66cccc"/>
<rect x="545.60" y="226" width="3.90" height="1" fill="#66cccc"/>
<rect x="554.30" y="226" width="3.10" height="1" fill="#66cccc"/>
<rect x="551" y="223.30" width="1" height="6.88" fill="#66cccc"/>
<rect x="555.60" y="228" width="3.90" height="1" fill="#66cccc"/>
<rect x="564.30" y="228" width="3.10" height="1" fill="#66cccc"/>
<rect x="561" y="225.40" width="1" height="6.88" fill="#66cccc"/>
<rect x="565.60" y="237" width="3.90" height="1" fill="#66cccc"/>
<rect x="574.30" y="237" width="3.10" height="1" fill="#66cccc"/>
<rect x="571" y="234.10" width="1" height="6.88" fill="#66cccc"/>
<rect x="576.60" y="240" width="3.90" height="1" fill="#66cccc"/>
<rect x="585.30" y="240" width="3.10" height="1" fill="#66cccc"/>
<rect x="582" y="237.00" width="1" height="6.88" fill="#66cccc"/>
<rect x="586.60" y="245" width="3.90" height="1" fill="#66cccc"/>
<rect x="595.30" y="245" width="3.10" height="1" fill="#66cccc"/>
<rect x="592" y="242.30" width="1" height="6.88" fill="#66cccc"/>
<rect x="596.60" y="255" width="3.90" height="1" fill="#66cccc"/>
<rect x="605.30" y="255" width="3.10" height="1" fill="#66cccc"/>
<rect x="602" y="251.00" width="1" height="8.60" fill="#66cccc"/>
<rect x="606.60" y="259" width="3.90" height="1" fill="#66cccc"/>
<rect x="615.30" y="259" width="3.10" height="1" fill="#66cccc"/>
<rect x="612" y="255.60" width="1" height="8.60" fill="#66cccc"/>
<rect x="616.60" y="266" width="3.90" height="1" fill="#66cccc"/>
<rect x="625.30" y="266" width="3.10" height="1" fill="#66cccc"/>
<rect x="622" y="262.60" width="1" height="8.60" fill="#66cccc"/>
<rect x="627.60" y="280" width="3.90" height="1" fill="#66cccc"/>
<rect x="636.30" y="280" width="3.10" height="1" fill="#66cccc"/>
<rect x="633" y="276.70" width="1" height="8.60" fill="#66cccc"/>
<rect x="637.60" y="297" width="3.90" height="1" fill="#66cccc"/>
<rect x="646.30" y="297" width="3.10" height="1" fill="#66cccc"/>
<rect x="643" y="293.00" width="1" height="8.60" fill="#66cccc"/>
<rect x="647.60" y="306" width="3.90" height="1" fill="#66cccc"/>
<rect x="656.30" y="306" width="3.10" height="1" fill="#66cccc"/>
<rect x="653" y="302.50" width="1" height="8.60" fill="#66cccc"/>
<rect x="657.60" y="322" width="3.90" height="1" fill="#66cccc"/>
<rect x="666.30" y="322" width="3.10" height="1" fill="#66cccc"/>
<rect x="663" y="318.30" width="1" height="8.60" fill="#66cccc"/>
<rect x="668.60" y="331" width="3.90" height="1" fill="#66cccc"/>
<rect x="677.30" y="331" width="3.10" height="1" fill="#66cccc"/>
<rect x="674" y="327.80" width="1" height="8.60" fill="#66cccc"/>
<rect x="678.60" y="340" width="3.90" height="1" fill="#66cccc"/>
<rect x="687.30" y="340" width="3.10" height="1" fill="#66cccc"/>
<rect x="684" y="336.00" width="1" height="8.60" fill="#66cccc"/>
<rect x="688.60" y="345" width="3.90" height="1" fill="#66cccc"/>
<rect x="697.30" y="345" width="3.10" height="1" fill="#66cccc"/>
<rect x="694" y="340.70" width="1" height="10.75" fill="#66cccc"/>
<rect x="698.60" y="356" width="3.90" height="1" fill="#66cccc"/>
<rect x="707.30" y="356" width="3.10" height="1" fill="#66cccc"/>
<rect x="704" y="351.00" width="1" height="10.75" fill="#66cccc"/>
<rect x="708.60" y="362" width="3.90" height="1" fill="#66cccc"/>
<rect x="717.30" y="362" width="3.10" height="1" fill="#66cccc"/>
<rect x="714" y="357.00" width="1" height="10.75" fill="#66cccc"/>
<rect x="719.60" y="366" width="3.90" height="1" fill="#66cccc"/>
<rect x="728.30" y="366" width="3.10" height="1" fill="#66cccc"/>
<rect x="725" y="361.50" width="1" height="10.75" fill="#66cccc"/>
<rect x="729.60" y="368" width="3.90" height="1" fill="#66cccc"/>
<rect x="738.30" y="368" width="3.10" height="1" fill="#66cccc"/>
<rect x="735" y="363.80" width="1" height="10.75" fill="#66cccc"/>
<rect x="739.60" y="370" width="3.90" height="1" fill="#66cccc"/>
<rect x="748.30" y="370" width="3.10" height="1" fill="#66cccc"/>
<rect x="745" y="365.60" width="1" height="10.75" fill="#66cccc"/>
<rect x="749.60" y="372" width="3.90" height="1" fill="#66cccc"/>
<rect x="758.30" y="372" width="3.10" height="1" fill="#66cccc"/>
<rect x="755" y="367.00" width="1" height="10.75" fill="#66cccc"/>
<rect x="759.60" y="372" width="3.90" height="1" fill="#66cccc"/>
<rect x="768.30" y="372" width="3.10" height="1" fill="#66cccc"/>
<rect x="765" y="367.00" width="1" height="10.75" fill="#66cccc"/>
<rect x="770.60" y="382" width="3.90" height="1" fill="#66cccc"/>
<rect x="779.30" y="382" width="3.10" height="1" fill="#66cccc"/>
<rect x="776" y="377.40" width="1" height="10.75" fill="#66cccc"/>
<rect x="780.60" y="378" width="3.90" height="1" fill="#66cccc"/>
<rect x="789.30" y="378" width="3.10" height="1" fill="#66cccc"/>
<rect x="786" y="373.80" width="1" height="10.75" fill="#66cccc"/>
<rect x="790.60" y="377" width="3.90" height="1" fill="#66cccc"/>
<rect x="799.30" y="377" width="3.10" height="1" fill="#66cccc"/>
<rect x="796" y="372.90" width="1" height="10.75" fill="#66cccc"/>
<rect x="800.60" y="378" width="3.90" height="1" fill="#66cccc"/>
<rect x="809.30" y="378" width="3.10" height="1" fill="#66cccc"/>
<rect x="806" y="373.00" width="1" height="10.75" fill="#66cccc"/>
<rect x="811.60" y="377" width="3.90" height="1" fill="#66cccc"/>
<rect x="820.30" y="377" width="3.10" height="1" fill="#66cccc"/>
<rect x="817" y="372.40" width="1" height="10.75" fill="#66cccc"/>
<rect x="821.60" y="377" width="3.90" height="1" fill="#66cccc"/>
<rect x="830.30" y="377" width="3.10" height="1" fill="#66cccc"/>
<rect x="827" y="372.00" width="1" height="10.75" fill="#66cccc"/>
<rect x="831.60" y="375" width="3.90" height="1" fill="#66cccc"/>
<rect x="840.30" y="375" width="3.10" height="1" fill="#66cccc"/>
<rect x="837" y="370.60" width="1" height="10.75" fill="#66cccc"/>
<rect x="841.60" y="375" width="3.90" height="1" fill="#66cccc"/>
<rect x="850.30" y="375" width="3.10" height="1" fill="#66cccc"/>
<rect x="847" y="370.90" width="1" height="10.75" fill="#66cccc"/>
<rect x="851.60" y="375" width="3.90" height="1" fill="#66cccc"/>
<rect x="860.30" y="375" width="3.10" height="1" fill="#66cccc"/>
<rect x="857" y="370.00" width="1" height="10.75" fill="#66cccc"/>
<rect x="862.60" y="367" width="3.90" height="1" fill="#66cccc"/>
<rect x="871.30" y="367" width="3.10" height="1" fill="#66cccc"/>
<rect x="868" y="362.80" width="1" height="10.75" fill="#66cccc"/>
<rect x="872.60" y="373" width="3.90" height="1" fill="#66cccc"/>
<rect x="881.30" y="373" width="3.10" height="1" fill="#66cccc"/>
<rect x="878" y="368.60" width="1" height="10.75" fill="#66cccc"/>
<rect x="882.60" y="374" width="3.90" height="1" fill="#66cccc"/>
<rect x="891.30" y="374" width="3.10" height="1" fill="#66cccc"/>
<rect x="888" y="369.10" width="1" height="10.75" fill="#66cccc"/>
<rect x="892.60" y="355" width="3.90" height="1" fill="#66cccc"/>
<rect x="901.30" y="355" width="3.10" height="1" fill="#66cccc"/>
<rect x="898" y="350.60" width="1" height="10.75" fill="#66cccc"/>
<rect x="902.60" y="354" width="3.90" height="1" fill="#66cccc"/>
<rect x="911.30" y="354" width="3.10" height="1" fill="#66cccc"/>
<rect x="908" y="349.20" width="1" height="10.75" fill="#66cccc"/>
<rect x="913.60" y="347" width="3.90" height="1" fill="#66cccc"/>
<rect x="922.30" y="347" width="3.10" height="1" fill="#66cccc"/>
<rect x="919" y="342.90" width="1" height="10.75" fill="#66cccc"/>
<rect x="923.60" y="344" width="3.90" height="1" fill="#66cccc"/>
<rect x="932.30" y="344" width="3.10" height="1" fill="#66cccc"/>
<rect x="929" y="339.50" width="1" height="10.75" fill="#66cccc"/>
<rect x="933.60" y="332" width="3.90" height="1" fill="#66cccc"/>
<rect x="942.30" y="332" width="3.10" height="1" fill="#66cccc"/>
<rect x="939" y="327.70" width="1" height="10.75" fill="#66cccc"/>
<rect x="943.60" y="327" width="3.90" height="1" fill="#66cccc"/>
<rect x="952.30" y="327" width="3.10" height="1" fill="#66cccc"/>
<rect x="949" y="322.90" width="1" height="10.75" fill="#66cccc"/>
<rect x="954.60" y="313" width="3.90" height="1" fill="#66cccc"/>
<rect x="963.30" y="313" width="3.10" height="1" fill="#66cccc"/>
<rect x="960" y="308.40" width="1" height="10.75" fill="#66cccc"/>
<rect x="964.60" y="307" width="3.90" height="1" fill="#66cccc"/>
<rect x="973.30" y="307" width="3.10" height="1" fill="#66cccc"/>
<rect x="970" y="302.10" width="1" height="10.75" fill="#66cccc"/>
<rect x="974.60" y="286" width="3.90" height="1" fill="#66cccc"/>
<rect x="983.30" y="286" width="3.10" height="1" fill="#66cccc"/>
<rect x="980" y="281.80" width="1" height="10.75" fill="#66cccc"/>
<rect x="984.60" y="265" width="3.90" height="1" fill="#66cccc"/>
<rect x="993.30" y="265" width="3.10" height="1" fill="#66cccc"/>
<rect x="990" y="260.20" width="1" height="10.75" fill="#66cccc"/>
<rect x="994.60" y="284" width="3.90" height="1" fill="#66cccc"/>
<rect x="1003.30" y="284" width="3.10" height="1" fill="#66cccc"/>
<rect x="1000" y="279.80" width="1" height="10.75" fill="#66cccc"/>
<rect x="1005.60" y="292" width="3.90" height="1" fill="#66cccc"/>
<rect x="1014.30" y="292" width="3.10" height="1" fill="#66cccc"/>
<rect x="1011" y="287.40" width="1" height="10.75" fill="#66cccc"/>
<rect x="1015.60" y="307" width="3.90" height="1" fill="#66cccc"/>
<rect x="1024.30" y="307" width="3.10" height="1" fill="#66cccc"/>
<rect x="1021" y="302.10" width="1" height="10.75" fill="#66cccc"/>
<rect x="1025.60" y="319" width="3.90" height="1" fill="#66cccc"/>
<rect x="1034.30" y="319" width="3.10" height="1" fill="#66cccc"/>
<rect x="1031" y="313.90" width="1" height="11.82" fill="#66cccc"/>
<rect x="1035.60" y="334" width="3.90" height="1" fill="#66cccc"/>
<rect x="1044.30" y="334" width="3.10" height="1" fill="#66cccc"/>
<rect x="1041" y="328.70" width="1" height="11.82" fill="#66cccc"/>
<rect x="1045.60" y="357" width="3.90" height="1" fill="#66cccc"/>
<rect x="1054.30" y="357" width="3.10" height="1" fill="#66cccc"/>
<rect x="1051" y="352.30" width="1" height="11.82" fill="#66cccc"/>
<rect x="1056.60" y="366" width="3.90" height="1" fill="#66cccc"/>
<rect x="1065.30" y="366" width="3.10" height="1" fill="#66cccc"/>
<rect x="1062" y="361.30" width="1" height="11.82" fill="#66cccc"/>
<rect x="1066.60" y="398" width="3.90" height="1" fill="#66cccc"/>
<rect x="1075.30" y="398" width="3.10" height="1" fill="#66cccc"/>
<rect x="1072" y="392.60" width="1" height="11.82" fill="#66cccc"/>
<rect x="1076.60" y="394" width="3.90" height="1" fill="#66cccc"/>
<rect x="1085.30" y="394" width="3.10" height="1" fill="#66cccc"/>
<rect x="1082" y="389.10" width="1" height="11.82" fill="#66cccc"/>
<rect x="1086.60" y="392" width="3.90" height="1" fill="#66cccc"/>
<rect x="1095.30" y="392" width="3.10" height="1" fill="#66cccc"/>
<rect x="1092" y="387.40" width="1" height="11.82" fill="#66cccc"/>
<rect x="1097.60" y="386" width="3.90" height="1" fill="#66cccc"/>
<rect x="1106.30" y="386" width="3.10" height="1" fill="#66cccc"/>
<rect x="1103" y="381.10" width="1" height="11.82" fill="#66cccc"/>
<rect x="1107.60" y="432" width="3.90" height="1" fill="#66cccc"/>
<rect x="1116.30" y="432" width="3.10" height="1" fill="#66cccc"/>
<rect x="1113" y="426.60" width="1" height="11.82" fill="#66cccc"/>
<rect x="1117.60" y="458" width="3.90" height="1" fill="#66cccc"/>
<rect x="1126.30" y="458" width="3.10" height="1" fill="#66cccc"/>
<rect x="1123" y="452.50" width="1" height="11.82" fill="#66cccc"/>
<rect x="1127.60" y="506" width="3.90" height="1" fill="#66cccc"/>
<rect x="1136.30" y="506" width="3.10" height="1" fill="#66cccc"/>
<rect x="1133" y="501.30" width="1" height="11.82" fill="#66cccc"/>
<rect x="1137.60" y="445" width="3.90" height="1" fill="#66cccc"/>
<rect x="1146.30" y="445" width="3.10" height="1" fill="#66cccc"/>
<rect x="1143" y="440.20" width="1" height="11.82" fill="#66cccc"/>
<path d="M130.15,649.40h2.5v2.15h2.15v2.5h-2.15v2.15h-2.5v-2.15h-2.15v-2.5h2.15z" fill="#66cccc"/>
<path d="M140.15,654.20h2.5v2.15h2.15v2.5h-2.15v2.15h-2.5v-2.15h-2.15v-2.5h2.15z" fill="#66cccc"/>
<path d="M151.15,576.20h2.5v2.15h2.15v2.5h-2.15v2.15h-2.5v-2.15h-2.15v-2.5h2.15z" fill="#66cccc"/>
<path d="M161.15,568.40h2.5v2.15h2.15v2.5h-2.15v2.15h-2.5v-2.15h-2.15v-2.5h2.15z" fill="#66cccc"/>
<path d="M171.15,507.20h2.5v2.15h2.15v2.5h-2.15v2.15h-2.5v-2.15h-2.15v-2.5h2.15z" fill="#66cccc"/>
<path d="M181.15,443.30h2.5v2.15h2.15v2.5h-2.15v2.15h-2.5v-2.15h-2.15v-2.5h2.15z" fill="#66cccc"/>
<path d="M191.15,381.30h2.5v2.15h2.15v2.5h-2.15v2.15h-2.5v-2.15h-2.15v-2.5h2.15z" fill="#66cccc"/>
<path d="M202.15,337.20h2.5v2.15h2.15v2.5h-2.15v2.15h-2.5v-2.15h-2.15v-2.5h2.15z" fill="#66cccc"/>
<path d="M212.15,276.80h2.5v2.15h2.15v2.5h-2.15v2.15h-2.5v-2.15h-2.15v-2.5h2.15z" fill="#66cccc"/>
<path d="M222.15,245.00h2.5v2.15h2.15v2.5h-2.15v2.15h-2.5v-2.15h-2.15v-2.5h2.15z" fill="#66cccc"/>
<path d="M232.15,240.20h2.5v2.15h2.15v2.5h-2.15v2.15h-2.5v-2.15h-2.15v-2.5h2.15z" fill="#66cccc"/>
<path d="M242.15,246.20h2.5v2.15h2.15v2.5h-2.15v2.15h-2.5v-2.15h-2.15v-2.5h2.15z" fill="#66cccc"/>
<path d="M253.15,246.80h2.5v2.15h2.15v2.5h-2.15v2.15h-2.5v-2.15h-2.15v-2.5h2.15z" fill="#66cccc"/>
<path d="M263.15,237.80h2.5v2.15h2.15v2.5h-2.15v2.15h-2.5v-2.15h-2.15v-2.5h2.15z" fill="#66cccc"/>
<path d="M273.15,213.70h2.5v2.15h2.15v2.5h-2.15v2.15h-2.5v-2.15h-2.15v-2.5h2.15z" fill="#66cccc"/>
<path d="M283.15,189.20h2.5v2.15h2.15v2.5h-2.15v2.15h-2.5v-2.15h-2.15v-2.5h2.15z" fill="#66cccc"/>
<path d="M294.15,167.80h2.5v2.15h2.15v2.5h-2.15v2.15h-2.5v-2.15h-2.15v-2.5h2.15z" fill="#66cccc"/>
<path d="M304.15,157.90h2.5v2.15h2.15v2.5h-2.15v2.15h-2.5v-2.15h-2.15v-2.5h2.15z" fill="#66cccc"/>
<path d="M314.15,162.10h2.5v2.15h2.15v2.5h-2.15v2.15h-2.5v-2.15h-2.15v-2.5h2.15z" fill="#66cccc"/>
<path d="M324.15,168.70h2.5v2.15h2.15v2.5h-2.15v2.15h-2.5v-2.15h-2.15v-2.5h2.15z" fill="#66cccc"/>
<path d="M334.15,177.20h2.5v2.15h2.15v2.5h-2.15v2.15h-2.5v-2.15h-2.15v-2.5h2.15z" fill="#66cccc"/>
<path d="M345.15,182.00h2.5v2.15h2.15v2.5h-2.15v2.15h-2.5v-2.15h-2.15v-2.5h2.15z" fill="#66cccc"/>
<path d="M355.15,188.00h2.5v2.15h2.15v2.5h-2.15v2.15h-2.5v-2.15h-2.15v-2.5h2.15z" fill="#66cccc"/>
<path d="M365.15,191.20h2.5v2.15h2.15v2.5h-2.15v2.15h-2.5v-2.15h-2.15v-2.5h2.15z" fill="#66cccc"/>
<path d="M375.15,199.00h2.5v2.15h2.15v2.5h-2.15v2.15h-2.5v-2.15h-2.15v-2.5h2.15z" fill="#66cccc"/>
<path d="M385.15,204.20h2.5v2.15h2.15v2.5h-2.15v2.15h-2.5v-2.15h-2.15v-2.5h2.15z" fill="#66cccc"/>
<path d="M396.15,206.20h2.5v2.15h2.15v2.5h-2.15v2.15h-2.5v-2.15h-2.15v-2.5h2.15z" fill="#66cccc"/>
<path d="M406.15,208.50h2.5v2.15h2.15v2.5h-2.15v2.15h-2.5v-2.15h-2.15v-2.5h2.15z" fill="#66cccc"/>
<path d="M416.15,212.20h2.5v2.15h2.15v2.5h-2.15v2.15h-2.5v-2.15h-2.15v-2.5h2.15z" fill="#66cccc"/>
<path d="M426.15,216.20h2.5v2.15h2.15v2.5h-2.15v2.15h-2.5v-2.15h-2.15v-2.5h2.15z" fill="#66cccc"/>
<path d="M437.15,215.40h2.5v2.15h2.15v2.5h-2.15v2.15h-2.5v-2.15h-2.15v-2.5h2.15z" fill="#66cccc"/>
<path d="M447.15,214.40h2.5v2.15h2.15v2.5h-2.15v2.15h-2.5v-2.15h-2.15v-2.5h2.15z" fill="#66cccc"/>
<path d="M457.15,213.30h2.5v2.15h2.15v2.5h-2.15v2.15h-2.5v-2.15h-2.15v-2.5h2.15z" fill="#66cccc"/>
<path d="M467.15,212.80h2.5v2.15h2.15v2.5h-2.15v2.15h-2.5v-2.15h-2.15v-2.5h2.15z" fill="#66cccc"/>
<path d="M477.15,213.70h2.5v2.15h2.15v2.5h-2.15v2.15h-2.5v-2.15h-2.15v-2.5h2.15z" fill="#66cccc"/>
<path d="M488.15,216.30h2.5v2.15h2.15v2.5h-2.15v2.15h-2.5v-2.15h-2.15v-2.5h2.15z" fill="#66cccc"/>
<path d="M498.15,212.40h2.5v2.15h2.15v2.5h-2.15v2.15h-2.5v-2.15h-2.15v-2.5h2.15z" fill="#66cccc"/>
<path d="M508.15,214.40h2.5v2.15h2.15v2.5h-2.15v2.15h-2.5v-2.15h-2.15v-2.5h2.15z" fill="#66cccc"/>
<path d="M518.15,215.00h2.5v2.15h2.15v2.5h-2.15v2.15h-2.5v-2.15h-2.15v-2.5h2.15z" fill="#66cccc"/>
<path d="M528.15,217.40h2.5v2.15h2.15v2.5h-2.15v2.15h-2.5v-2.15h-2.15v-2.5h2.15z" fill="#66cccc"/>
<path d="M539.15,216.70h2.5v2.15h2.15v2.5h-2.15v2.15h-2.5v-2.15h-2.15v-2.5h2.15z" fill="#66cccc"/>
<path d="M549.15,222.70h2.5v2.15h2.15v2.5h-2.15v2.15h-2.5v-2.15h-2.15v-2.5h2.15z" fill="#66cccc"/>
<path d="M559.15,224.80h2.5v2.15h2.15v2.5h-2.15v2.15h-2.5v-2.15h-2.15v-2.5h2.15z" fill="#66cccc"/>
<path d="M569.15,233.50h2.5v2.15h2.15v2.5h-2.15v2.15h-2.5v-2.15h-2.15v-2.5h2.15z" fill="#66cccc"/>
<path d="M580.15,236.40h2.5v2.15h2.15v2.5h-2.15v2.15h-2.5v-2.15h-2.15v-2.5h2.15z" fill="#66cccc"/>
<path d="M590.15,241.70h2.5v2.15h2.15v2.5h-2.15v2.15h-2.5v-2.15h-2.15v-2.5h2.15z" fill="#66cccc"/>
<path d="M600.15,251.20h2.5v2.15h2.15v2.5h-2.15v2.15h-2.5v-2.15h-2.15v-2.5h2.15z" fill="#66cccc"/>
<path d="M610.15,255.80h2.5v2.15h2.15v2.5h-2.15v2.15h-2.5v-2.15h-2.15v-2.5h2.15z" fill="#66cccc"/>
<path d="M620.15,262.80h2.5v2.15h2.15v2.5h-2.15v2.15h-2.5v-2.15h-2.15v-2.5h2.15z" fill="#66cccc"/>
<path d="M631.15,276.90h2.5v2.15h2.15v2.5h-2.15v2.15h-2.5v-2.15h-2.15v-2.5h2.15z" fill="#66cccc"/>
<path d="M641.15,293.20h2.5v2.15h2.15v2.5h-2.15v2.15h-2.5v-2.15h-2.15v-2.5h2.15z" fill="#66cccc"/>
<path d="M651.15,302.70h2.5v2.15h2.15v2.5h-2.15v2.15h-2.5v-2.15h-2.15v-2.5h2.15z" fill="#66cccc"/>
<path d="M661.15,318.50h2.5v2.15h2.15v2.5h-2.15v2.15h-2.5v-2.15h-2.15v-2.5h2.15z" fill="#66cccc"/>
<path d="M672.15,328.00h2.5v2.15h2.15v2.5h-2.15v2.15h-2.5v-2.15h-2.15v-2.5h2.15z" fill="#66cccc"/>
<path d="M682.15,336.20h2.5v2.15h2.15v2.5h-2.15v2.15h-2.5v-2.15h-2.15v-2.5h2.15z" fill="#66cccc"/>
<path d="M692.15,341.90h2.5v2.15h2.15v2.5h-2.15v2.15h-2.5v-2.15h-2.15v-2.5h2.15z" fill="#66cccc"/>
<path d="M702.15,352.20h2.5v2.15h2.15v2.5h-2.15v2.15h-2.5v-2.15h-2.15v-2.5h2.15z" fill="#66cccc"/>
<path d="M712.15,358.20h2.5v2.15h2.15v2.5h-2.15v2.15h-2.5v-2.15h-2.15v-2.5h2.15z" fill="#66cccc"/>
<path d="M723.15,362.70h2.5v2.15h2.15v2.5h-2.15v2.15h-2.5v-2.15h-2.15v-2.5h2.15z" fill="#66cccc"/>
<path d="M733.15,365.00h2.5v2.15h2.15v2.5h-2.15v2.15h-2.5v-2.15h-2.15v-2.5h2.15z" fill="#66cccc"/>
<path d="M743.15,366.80h2.5v2.15h2.15v2.5h-2.15v2.15h-2.5v-2.15h-2.15v-2.5h2.15z" fill="#66cccc"/>
<path d="M753.15,368.20h2.5v2.15h2.15v2.5h-2.15v2.15h-2.5v-2.15h-2.15v-2.5h2.15z" fill="#66cccc"/>
<path d="M763.15,368.20h2.5v2.15h2.15v2.5h-2.15v2.15h-2.5v-2.15h-2.15v-2.5h2.15z" fill="#66cccc"/>
<path d="M774.15,378.60h2.5v2.15h2.15v2.5h-2.15v2.15h-2.5v-2.15h-2.15v-2.5h2.15z" fill="#66cccc"/>
<path d="M784.15,375.00h2.5v2.15h2.15v2.5h-2.15v2.15h-2.5v-2.15h-2.15v-2.5h2.15z" fill="#66cccc"/>
<path d="M794.15,374.10h2.5v2.15h2.15v2.5h-2.15v2.15h-2.5v-2.15h-2.15v-2.5h2.15z" fill="#66cccc"/>
<path d="M804.15,374.20h2.5v2.15h2.15v2.5h-2.15v2.15h-2.5v-2.15h-2.15v-2.5h2.15z" fill="#66cccc"/>
<path d="M815.15,373.60h2.5v2.15h2.15v2.5h-2.15v2.15h-2.5v-2.15h-2.15v-2.5h2.15z" fill="#66cccc"/>
<path d="M825.15,373.20h2.5v2.15h2.15v2.5h-2.15v2.15h-2.5v-2.15h-2.15v-2.5h2.15z" fill="#66cccc"/>
<path d="M835.15,371.80h2.5v2.15h2.15v2.5h-2.15v2.15h-2.5v-2.15h-2.15v-2.5h2.15z" fill="#66cccc"/>
<path d="M845.15,372.10h2.5v2.15h2.15v2.5h-2.15v2.15h-2.5v-2.15h-2.15v-2.5h2.15z" fill="#66cccc"/>
<path d="M855.15,371.20h2.5v2.15h2.15v2.5h-2.15v2.15h-2.5v-2.15h-2.15v-2.5h2.15z" fill="#66cccc"/>
<path d="M866.15,364.00h2.5v2.15h2.15v2.5h-2.15v2.15h-2.5v-2.15h-2.15v-2.5h2.15z" fill="#66cccc"/>
<path d="M876.15,369.80h2.5v2.15h2.15v2.5h-2.15v2.15h-2.5v-2.15h-2.15v-2.5h2.15z" fill="#66cccc"/>
<path d="M886.15,370.30h2.5v2.15h2.15v2.5h-2.15v2.15h-2.5v-2.15h-2.15v-2.5h2.15z" fill="#66cccc"/>
<path d="M896.15,351.80h2.5v2.15h2.15v2.5h-2.15v2.15h-2.5v-2.15h-2.15v-2.5h2.15z" fill="#66cccc"/>
<path d="M906.15,350.40h2.5v2.15h2.15v2.5h-2.15v2.15h-2.5v-2.15h-2.15v-2.5h2.15z" fill="#66cccc"/>
<path d="M917.15,344.10h2.5v2.15h2.15v2.5h-2.15v2.15h-2.5v-2.15h-2.15v-2.5h2.15z" fill="#66cccc"/>
<path d="M927.15,340.70h2.5v2.15h2.15v2.5h-2.15v2.15h-2.5v-2.15h-2.15v-2.5h2.15z" fill="#66cccc"/>
<path d="M937.15,328.90h2.5v2.15h2.15v2.5h-2.15v2.15h-2.5v-2.15h-2.15v-2.5h2.15z" fill="#66cccc"/>
<path d="M947.15,324.10h2.5v2.15h2.15v2.5h-2.15v2.15h-2.5v-2.15h-2.15v-2.5h2.15z" fill="#66cccc"/>
<path d="M958.15,309.60h2.5v2.15h2.15v2.5h-2.15v2.15h-2.5v-2.15h-2.15v-2.5h2.15z" fill="#66cccc"/>
<path d="M968.15,303.30h2.5v2.15h2.15v2.5h-2.15v2.15h-2.5v-2.15h-2.15v-2.5h2.15z" fill="#66cccc"/>
<path d="M978.15,283.00h2.5v2.15h2.15v2.5h-2.15v2.15h-2.5v-2.15h-2.15v-2.5h2.15z" fill="#66cccc"/>
<path d="M988.15,261.40h2.5v2.15h2.15v2.5h-2.15v2.15h-2.5v-2.15h-2.15v-2.5h2.15z" fill="#66cccc"/>
<path d="M998.15,281.00h2.5v2.15h2.15v2.5h-2.15v2.15h-2.5v-2.15h-2.15v-2.5h2.15z" fill="#66cccc"/>
<path d="M1009.15,288.60h2.5v2.15h2.15v2.5h-2.15v2.15h-2.5v-2.15h-2.15v-2.5h2.15z" fill="#66cccc"/>
<path d="M1019.15,303.30h2.5v2.15h2.15v2.5h-2.15v2.15h-2.5v-2.15h-2.15v-2.5h2.15z" fill="#66cccc"/>
<path d="M1029.15,315.60h2.5v2.15h2.15v2.5h-2.15v2.15h-2.5v-2.15h-2.15v-2.5h2.15z" fill="#66cccc"/>
<path d="M1039.15,330.40h2.5v2.15h2.15v2.5h-2.15v2.15h-2.5v-2.15h-2.15v-2.5h2.15z" fill="#66cccc"/>
<path d="M1049.15,354.00h2.5v2.15h2.15v2.5h-2.15v2.15h-2.5v-2.15h-2.15v-2.5h2.15z" fill="#66cccc"/>
<path d="M1060.15,363.00h2.5v2.15h2.15v2.5h-2.15v2.15h-2.5v-2.15h-2.15v-2.5h2.15z" fill="#66cccc"/>
<path d="M1070.15,394.30h2.5v2.15h2.15v2.5h-2.15v2.15h-2.5v-2.15h-2.15v-2.5h2.15z" fill="#66cccc"/>
<path d="M1080.15,390.80h2.5v2.15h2.15v2.5h-2.15v2.15h-2.5v-2.15h-2.15v-2.5h2.15z" fill="#66cccc"/>
<path d="M1090.15,389.10h2.5v2.15h2.15v2.5h-2.15v2.15h-2.5v-2.15h-2.15v-2.5h2.15z" fill="#66cccc"/>
<path d="M1101.15,382.80h2.5v2.15h2.15v2.5h-2.15v2.15h-2.5v-2.15h-2.15v-2.5h2.15z" fill="#66cccc"/>
<path d="M1111.15,428.30h2.5v2.15h2.15v2.5h-2.15v2.15h-2.5v-2.15h-2.15v-2.5h2.15z" fill="#66cccc"/>
<path d="M1121.15,454.20h2.5v2.15h2.15v2.5h-2.15v2.15h-2.5v-2.15h-2.15v-2.5h2.15z" fill="#66cccc"/>
<path d="M1131.15,503.00h2.5v2.15h2.15v2.5h-2.15v2.15h-2.5v-2.15h-2.15v-2.5h2.15z" fill="#66cccc"/>
<path d="M1141.15,441.90h2.5v2.15h2.15v2.5h-2.15v2.15h-2.5v-2.15h-2.15v-2.5h2.15z" fill="#66cccc"/>
<rect x="126.60" y="638" width="3.90" height="1" fill="#009900"/>
<rect x="135.30" y="638" width="3.10" height="1" fill="#009900"/>
<rect x="132" y="628.00" width="1" height="20.00" fill="#009900"/>
<rect x="136.60" y="609" width="3.90" height="1" fill="#009900"/>
<rect x="145.30" y="609" width="3.10" height="1" fill="#009900"/>
<rect x="142" y="603.60" width="1" height="12.70" fill="#009900"/>
<rect x="147.60" y="582" width="3.90" height="1" fill="#009900"/>
<rect x="156.30" y="582" width="3.10" height="1" fill="#009900"/>
<rect x="153" y="574.00" width="1" height="18.00" fill="#009900"/>
<rect x="157.60" y="528" width="3.90" height="1" fill="#009900"/>
<rect x="166.30" y="528" width="3.10" height="1" fill="#009900"/>
<rect x="163" y="520.00" width="1" height="17.00" fill="#009900"/>
<rect x="167.60" y="474" width="3.90" height="1" fill="#009900"/>
<rect x="176.30" y="474" width="3.10" height="1" fill="#009900"/>
<rect x="173" y="467.00" width="1" height="15.00" fill="#009900"/>
<rect x="177.60" y="408" width="3.90" height="1" fill="#009900"/>
<rect x="186.30" y="408" width="3.10" height="1" fill="#009900"/>
<rect x="183" y="405.10" width="1" height="6.88" fill="#009900"/>
<rect x="187.60" y="356" width="3.90" height="1" fill="#009900"/>
<rect x="196.30" y="356" width="3.10" height="1" fill="#009900"/>
<rect x="193" y="352.80" width="1" height="6.88" fill="#009900"/>
<rect x="198.60" y="314" width="3.90" height="1" fill="#009900"/>
<rect x="207.30" y="314" width="3.10" height="1" fill="#009900"/>
<rect x="204" y="310.40" width="1" height="6.88" fill="#009900"/>
<rect x="208.60" y="255" width="3.90" height="1" fill="#009900"/>
<rect x="217.30" y="255" width="3.10" height="1" fill="#009900"/>
<rect x="214" y="251.60" width="1" height="6.88" fill="#009900"/>
<rect x="218.60" y="242" width="3.90" height="1" fill="#009900"/>
<rect x="227.30" y="242" width="3.10" height="1" fill="#009900"/>
<rect x="224" y="238.40" width="1" height="6.88" fill="#009900"/>
<rect x="228.60" y="246" width="3.90" height="1" fill="#009900"/>
<rect x="237.30" y="246" width="3.10" height="1" fill="#009900"/>
<rect x="234" y="242.80" width="1" height="6.88" fill="#009900"/>
<rect x="238.60" y="255" width="3.90" height="1" fill="#009900"/>
<rect x="247.30" y="255" width="3.10" height="1" fill="#009900"/>
<rect x="244" y="251.60" width="1" height="6.88" fill="#009900"/>
<rect x="249.60" y="255" width="3.90" height="1" fill="#009900"/>
<rect x="258.30" y="255" width="3.10" height="1" fill="#009900"/>
<rect x="255" y="251.60" width="1" height="6.88" fill="#009900"/>
<rect x="259.60" y="244" width="3.90" height="1" fill="#009900"/>
<rect x="268.30" y="244" width="3.10" height="1" fill="#009900"/>
<rect x="265" y="240.20" width="1" height="6.88" fill="#009900"/>
<rect x="269.60" y="223" width="3.90" height="1" fill="#009900"/>
<rect x="278.30" y="223" width="3.10" height="1" fill="#009900"/>
<rect x="275" y="219.50" width="1" height="6.88" fill="#009900"/>
<rect x="279.60" y="196" width="3.90" height="1" fill="#009900"/>
<rect x="288.30" y="196" width="3.10" height="1" fill="#009900"/>
<rect x="285" y="192.30" width="1" height="6.88" fill="#009900"/>
<rect x="290.60" y="176" width="3.90" height="1" fill="#009900"/>
<rect x="299.30" y="176" width="3.10" height="1" fill="#009900"/>
<rect x="296" y="172.70" width="1" height="6.88" fill="#009900"/>
<rect x="300.60" y="165" width="3.90" height="1" fill="#009900"/>
<rect x="309.30" y="165" width="3.10" height="1" fill="#009900"/>
<rect x="306" y="162.10" width="1" height="6.88" fill="#009900"/>
<rect x="310.60" y="164" width="3.90" height="1" fill="#009900"/>
<rect x="319.30" y="164" width="3.10" height="1" fill="#009900"/>
<rect x="316" y="160.40" width="1" height="6.88" fill="#009900"/>
<rect x="320.60" y="169" width="3.90" height="1" fill="#009900"/>
<rect x="329.30" y="169" width="3.10" height="1" fill="#009900"/>
<rect x="326" y="165.70" width="1" height="6.88" fill="#009900"/>
<rect x="330.60" y="179" width="3.90" height="1" fill="#009900"/>
<rect x="339.30" y="179" width="3.10" height="1" fill="#009900"/>
<rect x="336" y="175.60" width="1" height="6.88" fill="#009900"/>
<rect x="341.60" y="184" width="3.90" height="1" fill="#009900"/>
<rect x="350.30" y="184" width="3.10" height="1" fill="#009900"/>
<rect x="347" y="180.50" width="1" height="6.88" fill="#009900"/>
<rect x="351.60" y="189" width="3.90" height="1" fill="#009900"/>
<rect x="360.30" y="189" width="3.10" height="1" fill="#009900"/>
<rect x="357" y="185.80" width="1" height="6.88" fill="#009900"/>
<rect x="361.60" y="196" width="3.90" height="1" fill="#009900"/>
<rect x="370.30" y="196" width="3.10" height="1" fill="#009900"/>
<rect x="367" y="192.50" width="1" height="6.88" fill="#009900"/>
<rect x="371.60" y="200" width="3.90" height="1" fill="#009900"/>
<rect x="380.30" y="200" width="3.10" height="1" fill="#009900"/>
<rect x="377" y="196.50" width="1" height="6.88" fill="#009900"/>
<rect x="381.60" y="204" width="3.90" height="1" fill="#009900"/>
<rect x="390.30" y="204" width="3.10" height="1" fill="#009900"/>
<rect x="387" y="200.50" width="1" height="6.88" fill="#009900"/>
<rect x="392.60" y="208" width="3.90" height="1" fill="#009900"/>
<rect x="401.30" y="208" width="3.10" height="1" fill="#009900"/>
<rect x="398" y="205.20" width="1" height="6.88" fill="#009900"/>
<rect x="402.60" y="211" width="3.90" height="1" fill="#009900"/>
<rect x="411.30" y="211" width="3.10" height="1" fill="#009900"/>
<rect x="408" y="207.30" width="1" height="6.88" fill="#009900"/>
<rect x="412.60" y="213" width="3.90" height="1" fill="#009900"/>
<rect x="421.30" y="213" width="3.10" height="1" fill="#009900"/>
<rect x="418" y="209.60" width="1" height="6.88" fill="#009900"/>
<rect x="422.60" y="216" width="3.90" height="1" fill="#009900"/>
<rect x="431.30" y="216" width="3.10" height="1" fill="#009900"/>
<rect x="428" y="213.00" width="1" height="6.88" fill="#009900"/>
<rect x="433.60" y="218" width="3.90" height="1" fill="#009900"/>
<rect x="442.30" y="218" width="3.10" height="1" fill="#009900"/>
<rect x="439" y="214.80" width="1" height="6.88" fill="#009900"/>
<rect x="443.60" y="220" width="3.90" height="1" fill="#009900"/>
<rect x="452.30" y="220" width="3.10" height="1" fill="#009900"/>
<rect x="449" y="216.30" width="1" height="6.88" fill="#009900"/>
<rect x="453.60" y="220" width="3.90" height="1" fill="#009900"/>
<rect x="462.30" y="220" width="3.10" height="1" fill="#009900"/>
<rect x="459" y="216.90" width="1" height="6.88" fill="#009900"/>
<rect x="463.60" y="220" width="3.90" height="1" fill="#009900"/>
<rect x="472.30" y="220" width="3.10" height="1" fill="#009900"/>
<rect x="469" y="216.50" width="1" height="6.88" fill="#009900"/>
<rect x="473.60" y="220" width="3.90" height="1" fill="#009900"/>
<rect x="482.30" y="220" width="3.10" height="1" fill="#009900"/>
<rect x="479" y="217.00" width="1" height="6.88" fill="#009900"/>
<rect x="484.60" y="220" width="3.90" height="1" fill="#009900"/>
<rect x="493.30" y="220" width="3.10" height="1" fill="#009900"/>
<rect x="490" y="217.00" width="1" height="6.88" fill="#009900"/>
<rect x="494.60" y="222" width="3.90" height="1" fill="#009900"/>
<rect x="503.30" y="222" width="3.10" height="1" fill="#009900"/>
<rect x="500" y="218.70" width="1" height="6.88" fill="#009900"/>
<rect x="504.60" y="222" width="3.90" height="1" fill="#009900"/>
<rect x="513.30" y="222" width="3.10" height="1" fill="#009900"/>
<rect x="510" y="219.10" width="1" height="6.88" fill="#009900"/>
<rect x="514.60" y="224" width="3.90" height="1" fill="#009900"/>
<rect x="523.30" y="224" width="3.10" height="1" fill="#009900"/>
<rect x="520" y="220.90" width="1" height="6.88" fill="#009900"/>
<rect x="524.60" y="225" width="3.90" height="1" fill="#009900"/>
<rect x="533.30" y="225" width="3.10" height="1" fill="#009900"/>
<rect x="530" y="221.70" width="1" height="6.88" fill="#009900"/>
<rect x="535.60" y="227" width="3.90" height="1" fill="#009900"/>
<rect x="544.30" y="227" width="3.10" height="1" fill="#009900"/>
<rect x="541" y="223.90" width="1" height="6.88" fill="#009900"/>
<rect x="545.60" y="230" width="3.90" height="1" fill="#009900"/>
<rect x="554.30" y="230" width="3.10" height="1" fill="#009900"/>
<rect x="551" y="226.50" width="1" height="6.88" fill="#009900"/>
<rect x="555.60" y="234" width="3.90" height="1" fill="#009900"/>
<rect x="564.30" y="234" width="3.10" height="1" fill="#009900"/>
<rect x="561" y="230.80" width="1" height="6.88" fill="#009900"/>
<rect x="565.60" y="239" width="3.90" height="1" fill="#009900"/>
<rect x="574.30" y="239" width="3.10" height="1" fill="#009900"/>
<rect x="571" y="235.40" width="1" height="6.88" fill="#009900"/>
<rect x="576.60" y="242" width="3.90" height="1" fill="#009900"/>
<rect x="585.30" y="242" width="3.10" height="1" fill="#009900"/>
<rect x="582" y="238.90" width="1" height="6.88" fill="#009900"/>
<rect x="586.60" y="249" width="3.90" height="1" fill="#009900"/>
<rect x="595.30" y="249" width="3.10" height="1" fill="#009900"/>
<rect x="592" y="245.20" width="1" height="6.88" fill="#009900"/>
<rect x="596.60" y="256" width="3.90" height="1" fill="#009900"/>
<rect x="605.30" y="256" width="3.10" height="1" fill="#009900"/>
<rect x="602" y="252.40" width="1" height="7.74" fill="#009900"/>
<rect x="606.60" y="258" width="3.90" height="1" fill="#009900"/>
<rect x="615.30" y="258" width="3.10" height="1" fill="#009900"/>
<rect x="612" y="254.10" width="1" height="7.74" fill="#009900"/>
<rect x="616.60" y="270" width="3.90" height="1" fill="#009900"/>
<rect x="625.30" y="270" width="3.10" height="1" fill="#009900"/>
<rect x="622" y="265.80" width="1" height="7.74" fill="#009900"/>
<rect x="627.60" y="282" width="3.90" height="1" fill="#009900"/>
<rect x="636.30" y="282" width="3.10" height="1" fill="#009900"/>
<rect x="633" y="277.80" width="1" height="7.74" fill="#009900"/>
<rect x="637.60" y="299" width="3.90" height="1" fill="#009900"/>
<rect x="646.30" y="299" width="3.10" height="1" fill="#009900"/>
<rect x="643" y="295.70" width="1" height="7.74" fill="#009900"/>
<rect x="647.60" y="310" width="3.90" height="1" fill="#009900"/>
<rect x="656.30" y="310" width="3.10" height="1" fill="#009900"/>
<rect x="653" y="306.50" width="1" height="7.74" fill="#009900"/>
<rect x="657.60" y="325" width="3.90" height="1" fill="#009900"/>
<rect x="666.30" y="325" width="3.10" height="1" fill="#009900"/>
<rect x="663" y="321.40" width="1" height="7.74" fill="#009900"/>
<rect x="668.60" y="339" width="3.90" height="1" fill="#009900"/>
<rect x="677.30" y="339" width="3.10" height="1" fill="#009900"/>
<rect x="674" y="335.70" width="1" height="7.74" fill="#009900"/>
<rect x="678.60" y="347" width="3.90" height="1" fill="#009900"/>
<rect x="687.30" y="347" width="3.10" height="1" fill="#009900"/>
<rect x="684" y="343.50" width="1" height="7.74" fill="#009900"/>
<rect x="688.60" y="352" width="3.90" height="1" fill="#009900"/>
<rect x="697.30" y="352" width="3.10" height="1" fill="#009900"/>
<rect x="694" y="348.50" width="1" height="7.74" fill="#009900"/>
<rect x="698.60" y="365" width="3.90" height="1" fill="#009900"/>
<rect x="707.30" y="365" width="3.10" height="1" fill="#009900"/>
<rect x="704" y="361.60" width="1" height="7.74" fill="#009900"/>
<rect x="708.60" y="368" width="3.90" height="1" fill="#009900"/>
<rect x="717.30" y="368" width="3.10" height="1" fill="#009900"/>
<rect x="714" y="364.70" width="1" height="7.74" fill="#009900"/>
<rect x="719.60" y="375" width="3.90" height="1" fill="#009900"/>
<rect x="728.30" y="375" width="3.10" height="1" fill="#009900"/>
<rect x="725" y="371.50" width="1" height="7.74" fill="#009900"/>
<rect x="729.60" y="378" width="3.90" height="1" fill="#009900"/>
<rect x="738.30" y="378" width="3.10" height="1" fill="#009900"/>
<rect x="735" y="374.40" width="1" height="7.74" fill="#009900"/>
<rect x="739.60" y="380" width="3.90" height="1" fill="#009900"/>
<rect x="748.30" y="380" width="3.10" height="1" fill="#009900"/>
<rect x="745" y="376.30" width="1" height="7.74" fill="#009900"/>
<rect x="749.60" y="384" width="3.90" height="1" fill="#009900"/>
<rect x="758.30" y="384" width="3.10" height="1" fill="#009900"/>
<rect x="755" y="380.60" width="1" height="7.74" fill="#009900"/>
<rect x="759.60" y="385" width="3.90" height="1" fill="#009900"/>
<rect x="768.30" y="385" width="3.10" height="1" fill="#009900"/>
<rect x="765" y="381.50" width="1" height="7.74" fill="#009900"/>
<rect x="770.60" y="390" width="3.90" height="1" fill="#009900"/>
<rect x="779.30" y="390" width="3.10" height="1" fill="#009900"/>
<rect x="776" y="386.00" width="1" height="7.74" fill="#009900"/>
<rect x="780.60" y="386" width="3.90" height="1" fill="#009900"/>
<rect x="789.30" y="386" width="3.10" height="1" fill="#009900"/>
<rect x="786" y="382.40" width="1" height="7.74" fill="#009900"/>
<rect x="790.60" y="386" width="3.90" height="1" fill="#009900"/>
<rect x="799.30" y="386" width="3.10" height="1" fill="#009900"/>
<rect x="796" y="382.40" width="1" height="7.74" fill="#009900"/>
<rect x="800.60" y="384" width="3.90" height="1" fill="#009900"/>
<rect x="809.30" y="384" width="3.10" height="1" fill="#009900"/>
<rect x="806" y="380.60" width="1" height="7.74" fill="#009900"/>
<rect x="811.60" y="385" width="3.90" height="1" fill="#009900"/>
<rect x="820.30" y="385" width="3.10" height="1" fill="#009900"/>
<rect x="817" y="381.50" width="1" height="7.74" fill="#009900"/>
<rect x="821.60" y="383" width="3.90" height="1" fill="#009900"/>
<rect x="830.30" y="383" width="3.10" height="1" fill="#009900"/>
<rect x="827" y="379.70" width="1" height="7.74" fill="#009900"/>
<rect x="831.60" y="383" width="3.90" height="1" fill="#009900"/>
<rect x="840.30" y="383" width="3.10" height="1" fill="#009900"/>
<rect x="837" y="379.70" width="1" height="7.74" fill="#009900"/>
<rect x="841.60" y="382" width="3.90" height="1" fill="#009900"/>
<rect x="850.30" y="382" width="3.10" height="1" fill="#009900"/>
<rect x="847" y="378.60" width="1" height="7.74" fill="#009900"/>
<rect x="851.60" y="380" width="3.90" height="1" fill="#009900"/>
<rect x="860.30" y="380" width="3.10" height="1" fill="#009900"/>
<rect x="857" y="376.30" width="1" height="7.74" fill="#009900"/>
<rect x="862.60" y="373" width="3.90" height="1" fill="#009900"/>
<rect x="871.30" y="373" width="3.10" height="1" fill="#009900"/>
<rect x="868" y="369.60" width="1" height="7.74" fill="#009900"/>
<rect x="872.60" y="369" width="3.90" height="1" fill="#009900"/>
<rect x="881.30" y="369" width="3.10" height="1" fill="#009900"/>
<rect x="878" y="365.10" width="1" height="7.74" fill="#009900"/>
<rect x="882.60" y="370" width="3.90" height="1" fill="#009900"/>
<rect x="891.30" y="370" width="3.10" height="1" fill="#009900"/>
<rect x="888" y="366.00" width="1" height="7.74" fill="#009900"/>
<rect x="892.60" y="363" width="3.90" height="1" fill="#009900"/>
<rect x="901.30" y="363" width="3.10" height="1" fill="#009900"/>
<rect x="898" y="359.60" width="1" height="7.74" fill="#009900"/>
<rect x="902.60" y="356" width="3.90" height="1" fill="#009900"/>
<rect x="911.30" y="356" width="3.10" height="1" fill="#009900"/>
<rect x="908" y="352.40" width="1" height="7.74" fill="#009900"/>
<rect x="913.60" y="356" width="3.90" height="1" fill="#009900"/>
<rect x="922.30" y="356" width="3.10" height="1" fill="#009900"/>
<rect x="919" y="352.30" width="1" height="7.74" fill="#009900"/>
<rect x="923.60" y="344" width="3.90" height="1" fill="#009900"/>
<rect x="932.30" y="344" width="3.10" height="1" fill="#009900"/>
<rect x="929" y="340.60" width="1" height="7.74" fill="#009900"/>
<rect x="933.60" y="338" width="3.90" height="1" fill="#009900"/>
<rect x="942.30" y="338" width="3.10" height="1" fill="#009900"/>
<rect x="939" y="334.30" width="1" height="7.74" fill="#009900"/>
<rect x="943.60" y="329" width="3.90" height="1" fill="#009900"/>
<rect x="952.30" y="329" width="3.10" height="1" fill="#009900"/>
<rect x="949" y="325.60" width="1" height="7.74" fill="#009900"/>
<rect x="954.60" y="319" width="3.90" height="1" fill="#009900"/>
<rect x="963.30" y="319" width="3.10" height="1" fill="#009900"/>
<rect x="960" y="315.20" width="1" height="7.74" fill="#009900"/>
<rect x="964.60" y="309" width="3.90" height="1" fill="#009900"/>
<rect x="973.30" y="309" width="3.10" height="1" fill="#009900"/>
<rect x="970" y="304.90" width="1" height="7.74" fill="#009900"/>
<rect x="974.60" y="292" width="3.90" height="1" fill="#009900"/>
<rect x="983.30" y="292" width="3.10" height="1" fill="#009900"/>
<rect x="980" y="288.20" width="1" height="7.74" fill="#009900"/>
<rect x="984.60" y="268" width="3.90" height="1" fill="#009900"/>
<rect x="993.30" y="268" width="3.10" height="1" fill="#009900"/>
<rect x="990" y="263.80" width="1" height="7.74" fill="#009900"/>
<rect x="994.60" y="281" width="3.90" height="1" fill="#009900"/>
<rect x="1003.30" y="281" width="3.10" height="1" fill="#009900"/>
<rect x="1000" y="277.20" width="1" height="7.74" fill="#009900"/>
<rect x="1005.60" y="290" width="3.90" height="1" fill="#009900"/>
<rect x="1014.30" y="290" width="3.10" height="1" fill="#009900"/>
<rect x="1011" y="286.40" width="1" height="7.74" fill="#009900"/>
<rect x="1015.60" y="297" width="3.90" height="1" fill="#009900"/>
<rect x="1024.30" y="297" width="3.10" height="1" fill="#009900"/>
<rect x="1021" y="293.20" width="1" height="7.74" fill="#009900"/>
<rect x="1025.60" y="308" width="3.90" height="1" fill="#009900"/>
<rect x="1034.30" y="308" width="3.10" height="1" fill="#009900"/>
<rect x="1031" y="304.60" width="1" height="7.74" fill="#009900"/>
<rect x="1035.60" y="327" width="3.90" height="1" fill="#009900"/>
<rect x="1044.30" y="327" width="3.10" height="1" fill="#009900"/>
<rect x="1041" y="322.90" width="1" height="7.74" fill="#009900"/>
<rect x="1045.60" y="338" width="3.90" height="1" fill="#009900"/>
<rect x="1054.30" y="338" width="3.10" height="1" fill="#009900"/>
<rect x="1051" y="334.60" width="1" height="7.74" fill="#009900"/>
<rect x="1056.60" y="348" width="3.90" height="1" fill="#009900"/>
<rect x="1065.30" y="348" width="3.10" height="1" fill="#009900"/>
<rect x="1062" y="344.60" width="1" height="7.74" fill="#009900"/>
<rect x="1066.60" y="378" width="3.90" height="1" fill="#009900"/>
<rect x="1075.30" y="378" width="3.10" height="1" fill="#009900"/>
<rect x="1072" y="374.60" width="1" height="7.74" fill="#009900"/>
<rect x="1076.60" y="379" width="3.90" height="1" fill="#009900"/>
<rect x="1085.30" y="379" width="3.10" height="1" fill="#009900"/>
<rect x="1082" y="374.90" width="1" height="7.74" fill="#009900"/>
<rect x="1086.60" y="374" width="3.90" height="1" fill="#009900"/>
<rect x="1095.30" y="374" width="3.10" height="1" fill="#009900"/>
<rect x="1092" y="370.00" width="1" height="7.74" fill="#009900"/>
<rect x="1097.60" y="374" width="3.90" height="1" fill="#009900"/>
<rect x="1106.30" y="374" width="3.10" height="1" fill="#009900"/>
<rect x="1103" y="370.00" width="1" height="7.74" fill="#009900"/>
<rect x="1107.60" y="406" width="3.90" height="1" fill="#009900"/>
<rect x="1116.30" y="406" width="3.10" height="1" fill="#009900"/>
<rect x="1113" y="402.00" width="1" height="7.74" fill="#009900"/>
<rect x="1117.60" y="435" width="3.90" height="1" fill="#009900"/>
<rect x="1126.30" y="435" width="3.10" height="1" fill="#009900"/>
<rect x="1123" y="430.90" width="1" height="7.74" fill="#009900"/>
<rect x="1127.60" y="475" width="3.90" height="1" fill="#009900"/>
<rect x="1136.30" y="475" width="3.10" height="1" fill="#009900"/>
<rect x="1133" y="471.70" width="1" height="7.74" fill="#009900"/>
<rect x="1137.60" y="401" width="3.90" height="1" fill="#009900"/>
<rect x="1146.30" y="401" width="3.10" height="1" fill="#009900"/>
<rect x="1143" y="397.50" width="1" height="7.74" fill="#009900"/>
<polygon points="127.90,634.60 135.10,634.60 131.50,641.80" fill="#009900"/>
<polygon points="137.90,605.50 145.10,605.50 141.50,612.70" fill="#009900"/>
<polygon points="148.90,578.80 156.10,578.80 152.50,586.00" fill="#009900"/>
<polygon points="158.90,525.00 166.10,525.00 162.50,532.20" fill="#009900"/>
<polygon points="168.90,471.00 176.10,471.00 172.50,478.20" fill="#009900"/>
<polygon points="178.90,405.10 186.10,405.10 182.50,412.30" fill="#009900"/>
<polygon points="188.90,352.80 196.10,352.80 192.50,360.00" fill="#009900"/>
<polygon points="199.90,310.40 207.10,310.40 203.50,317.60" fill="#009900"/>
<polygon points="209.90,251.60 217.10,251.60 213.50,258.80" fill="#009900"/>
<polygon points="219.90,238.40 227.10,238.40 223.50,245.60" fill="#009900"/>
<polygon points="229.90,242.80 237.10,242.80 233.50,250.00" fill="#009900"/>
<polygon points="239.90,251.60 247.10,251.60 243.50,258.80" fill="#009900"/>
<polygon points="250.90,251.60 258.10,251.60 254.50,258.80" fill="#009900"/>
<polygon points="260.90,240.20 268.10,240.20 264.50,247.40" fill="#009900"/>
<polygon points="270.90,219.50 278.10,219.50 274.50,226.70" fill="#009900"/>
<polygon points="280.90,192.30 288.10,192.30 284.50,199.50" fill="#009900"/>
<polygon points="291.90,172.70 299.10,172.70 295.50,179.90" fill="#009900"/>
<polygon points="301.90,162.10 309.10,162.10 305.50,169.30" fill="#009900"/>
<polygon points="311.90,160.40 319.10,160.40 315.50,167.60" fill="#009900"/>
<polygon points="321.90,165.70 329.10,165.70 325.50,172.90" fill="#009900"/>
<polygon points="331.90,175.60 339.10,175.60 335.50,182.80" fill="#009900"/>
<polygon points="342.90,180.50 350.10,180.50 346.50,187.70" fill="#009900"/>
<polygon points="352.90,185.80 360.10,185.80 356.50,193.00" fill="#009900"/>
<polygon points="362.90,192.50 370.10,192.50 366.50,199.70" fill="#009900"/>
<polygon points="372.90,196.50 380.10,196.50 376.50,203.70" fill="#009900"/>
<polygon points="382.90,200.50 390.10,200.50 386.50,207.70" fill="#009900"/>
<polygon points="393.90,205.20 401.10,205.20 397.50,212.40" fill="#009900"/>
<polygon points="403.90,207.30 411.10,207.30 407.50,214.50" fill="#009900"/>
<polygon points="413.90,209.60 421.10,209.60 417.50,216.80" fill="#009900"/>
<polygon points="423.90,213.00 431.10,213.00 427.50,220.20" fill="#009900"/>
<polygon points="434.90,214.80 442.10,214.80 438.50,222.00" fill="#009900"/>
<polygon points="444.90,216.30 452.10,216.30 448.50,223.50" fill="#009900"/>
<polygon points="454.90,216.90 462.10,216.90 458.50,224.10" fill="#009900"/>
<polygon points="464.90,216.50 472.10,216.50 468.50,223.70" fill="#009900"/>
<polygon points="474.90,217.00 482.10,217.00 478.50,224.20" fill="#009900"/>
<polygon points="485.90,217.00 493.10,217.00 489.50,224.20" fill="#009900"/>
<polygon points="495.90,218.70 503.10,218.70 499.50,225.90" fill="#009900"/>
<polygon points="505.90,219.10 513.10,219.10 509.50,226.30" fill="#009900"/>
<polygon points="515.90,220.90 523.10,220.90 519.50,228.10" fill="#009900"/>
<polygon points="525.90,221.70 533.10,221.70 529.50,228.90" fill="#009900"/>
<polygon points="536.90,223.90 544.10,223.90 540.50,231.10" fill="#009900"/>
<polygon points="546.90,226.50 554.10,226.50 550.50,233.70" fill="#009900"/>
<polygon points="556.90,230.80 564.10,230.80 560.50,238.00" fill="#009900"/>
<polygon points="566.90,235.40 574.10,235.40 570.50,242.60" fill="#009900"/>
<polygon points="577.90,238.90 585.10,238.90 581.50,246.10" fill="#009900"/>
<polygon points="587.90,245.20 595.10,245.20 591.50,252.40" fill="#009900"/>
<polygon points="597.90,252.80 605.10,252.80 601.50,260.00" fill="#009900"/>
<polygon points="607.90,254.50 615.10,254.50 611.50,261.70" fill="#009900"/>
<polygon points="617.90,266.20 625.10,266.20 621.50,273.40" fill="#009900"/>
<polygon points="628.90,278.20 636.10,278.20 632.50,285.40" fill="#009900"/>
<polygon points="638.90,296.10 646.10,296.10 642.50,303.30" fill="#009900"/>
<polygon points="648.90,306.90 656.10,306.90 652.50,314.10" fill="#009900"/>
<polygon points="658.90,321.80 666.10,321.80 662.50,329.00" fill="#009900"/>
<polygon points="669.90,336.10 677.10,336.10 673.50,343.30" fill="#009900"/>
<polygon points="679.90,343.90 687.10,343.90 683.50,351.10" fill="#009900"/>
<polygon points="689.90,348.90 697.10,348.90 693.50,356.10" fill="#009900"/>
<polygon points="699.90,362.00 707.10,362.00 703.50,369.20" fill="#009900"/>
<polygon points="709.90,365.10 717.10,365.10 713.50,372.30" fill="#009900"/>
<polygon points="720.90,371.90 728.10,371.90 724.50,379.10" fill="#009900"/>
<polygon points="730.90,374.80 738.10,374.80 734.50,382.00" fill="#009900"/>
<polygon points="740.90,376.70 748.10,376.70 744.50,383.90" fill="#009900"/>
<polygon points="750.90,381.00 758.10,381.00 754.50,388.20" fill="#009900"/>
<polygon points="760.90,381.90 768.10,381.90 764.50,389.10" fill="#009900"/>
<polygon points="771.90,386.40 779.10,386.40 775.50,393.60" fill="#009900"/>
<polygon points="781.90,382.80 789.10,382.80 785.50,390.00" fill="#009900"/>
<polygon points="791.90,382.80 799.10,382.80 795.50,390.00" fill="#009900"/>
<polygon points="801.90,381.00 809.10,381.00 805.50,388.20" fill="#009900"/>
<polygon points="812.90,381.90 820.10,381.90 816.50,389.10" fill="#009900"/>
<polygon points="822.90,380.10 830.10,380.10 826.50,387.30" fill="#009900"/>
<polygon points="832.90,380.10 840.10,380.10 836.50,387.30" fill="#009900"/>
<polygon points="842.90,379.00 850.10,379.00 846.50,386.20" fill="#009900"/>
<polygon points="852.90,376.70 860.10,376.70 856.50,383.90" fill="#009900"/>
<polygon points="863.90,370.00 871.10,370.00 867.50,377.20" fill="#009900"/>
<polygon points="873.90,365.50 881.10,365.50 877.50,372.70" fill="#009900"/>
<polygon points="883.90,366.40 891.10,366.40 887.50,373.60" fill="#009900"/>
<polygon points="893.90,360.00 901.10,360.00 897.50,367.20" fill="#009900"/>
<polygon points="903.90,352.80 911.10,352.80 907.50,360.00" fill="#009900"/>
<polygon points="914.90,352.70 922.10,352.70 918.50,359.90" fill="#009900"/>
<polygon points="924.90,341.00 932.10,341.00 928.50,348.20" fill="#009900"/>
<polygon points="934.90,334.70 942.10,334.70 938.50,341.90" fill="#009900"/>
<polygon points="944.90,326.00 952.10,326.00 948.50,333.20" fill="#009900"/>
<polygon points="955.90,315.60 963.10,315.60 959.50,322.80" fill="#009900"/>
<polygon points="965.90,305.30 973.10,305.30 969.50,312.50" fill="#009900"/>
<polygon points="975.90,288.60 983.10,288.60 979.50,295.80" fill="#009900"/>
<polygon points="985.90,264.20 993.10,264.20 989.50,271.40" fill="#009900"/>
<polygon points="995.90,277.60 1003.10,277.60 999.50,284.80" fill="#009900"/>
<polygon points="1006.90,286.80 1014.10,286.80 1010.50,294.00" fill="#009900"/>
<polygon points="1016.90,293.60 1024.10,293.60 1020.50,300.80" fill="#009900"/>
<polygon points="1026.90,305.00 1034.10,305.00 1030.50,312.20" fill="#009900"/>
<polygon points="1036.90,323.30 1044.10,323.30 1040.50,330.50" fill="#009900"/>
<polygon points="1046.90,335.00 1054.10,335.00 1050.50,342.20" fill="#009900"/>
<polygon points="1057.90,345.00 1065.10,345.00 1061.50,352.20" fill="#009900"/>
<polygon points="1067.90,375.00 1075.10,375.00 1071.50,382.20" fill="#009900"/>
<polygon points="1077.90,375.30 1085.10,375.30 1081.50,382.50" fill="#009900"/>
<polygon points="1087.90,370.40 1095.10,370.40 1091.50,377.60" fill="#009900"/>
<polygon points="1098.90,370.40 1106.10,370.40 1102.50,377.60" fill="#009900"/>
<polygon points="1108.90,402.40 1116.10,402.40 1112.50,409.60" fill="#009900"/>
<polygon points="1118.90,431.30 1126.10,431.30 1122.50,438.50" fill="#009900"/>
<polygon points="1128.90,472.10 1136.10,472.10 1132.50,479.30" fill="#009900"/>
<polygon points="1138.90,397.90 1146.10,397.90 1142.50,405.10" fill="#009900"/>
<rect x="147.60" y="530" width="3.90" height="1" fill="#ff0000"/>
<rect x="156.30" y="530" width="3.10" height="1" fill="#ff0000"/>
<rect x="153" y="488.00" width="1" height="112.00" fill="#ff0000"/>
<rect x="157.60" y="530" width="3.90" height="1" fill="#ff0000"/>
<rect x="166.30" y="530" width="3.10" height="1" fill="#ff0000"/>
<rect x="163" y="488.00" width="1" height="140.50" fill="#ff0000"/>
<rect x="167.60" y="360" width="3.90" height="1" fill="#ff0000"/>
<rect x="176.30" y="360" width="3.10" height="1" fill="#ff0000"/>
<rect x="173" y="343.00" width="1" height="39.70" fill="#ff0000"/>
<rect x="177.60" y="376" width="3.90" height="1" fill="#ff0000"/>
<rect x="186.30" y="376" width="3.10" height="1" fill="#ff0000"/>
<rect x="183" y="357.00" width="1" height="43.70" fill="#ff0000"/>
<rect x="187.60" y="327" width="3.90" height="1" fill="#ff0000"/>
<rect x="196.30" y="327" width="3.10" height="1" fill="#ff0000"/>
<rect x="193" y="312.00" width="1" height="32.60" fill="#ff0000"/>
<rect x="198.60" y="288" width="3.90" height="1" fill="#ff0000"/>
<rect x="207.30" y="288" width="3.10" height="1" fill="#ff0000"/>
<rect x="204" y="277.00" width="1" height="25.00" fill="#ff0000"/>
<rect x="208.60" y="246" width="3.90" height="1" fill="#ff0000"/>
<rect x="217.30" y="246" width="3.10" height="1" fill="#ff0000"/>
<rect x="214" y="237.00" width="1" height="19.60" fill="#ff0000"/>
<rect x="218.60" y="254" width="3.90" height="1" fill="#ff0000"/>
<rect x="227.30" y="254" width="3.10" height="1" fill="#ff0000"/>
<rect x="224" y="245.00" width="1" height="19.50" fill="#ff0000"/>
<rect x="228.60" y="263" width="3.90" height="1" fill="#ff0000"/>
<rect x="237.30" y="263" width="3.10" height="1" fill="#ff0000"/>
<rect x="234" y="254.80" width="1" height="21.70" fill="#ff0000"/>
<rect x="238.60" y="256" width="3.90" height="1" fill="#ff0000"/>
<rect x="247.30" y="256" width="3.10" height="1" fill="#ff0000"/>
<rect x="244" y="247.00" width="1" height="20.00" fill="#ff0000"/>
<rect x="249.60" y="263" width="3.90" height="1" fill="#ff0000"/>
<rect x="258.30" y="263" width="3.10" height="1" fill="#ff0000"/>
<rect x="255" y="253.00" width="1" height="21.70" fill="#ff0000"/>
<rect x="259.60" y="242" width="3.90" height="1" fill="#ff0000"/>
<rect x="268.30" y="242" width="3.10" height="1" fill="#ff0000"/>
<rect x="265" y="234.30" width="1" height="15.10" fill="#ff0000"/>
<rect x="269.60" y="239" width="3.90" height="1" fill="#ff0000"/>
<rect x="278.30" y="239" width="3.10" height="1" fill="#ff0000"/>
<rect x="275" y="231.30" width="1" height="18.10" fill="#ff0000"/>
<rect x="279.60" y="212" width="3.90" height="1" fill="#ff0000"/>
<rect x="288.30" y="212" width="3.10" height="1" fill="#ff0000"/>
<rect x="285" y="207.20" width="1" height="13.30" fill="#ff0000"/>
<rect x="290.60" y="174" width="3.90" height="1" fill="#ff0000"/>
<rect x="299.30" y="174" width="3.10" height="1" fill="#ff0000"/>
<rect x="296" y="169.00" width="1" height="11.00" fill="#ff0000"/>
<rect x="300.60" y="167" width="3.90" height="1" fill="#ff0000"/>
<rect x="309.30" y="167" width="3.10" height="1" fill="#ff0000"/>
<rect x="306" y="163.00" width="1" height="8.30" fill="#ff0000"/>
<rect x="310.60" y="168" width="3.90" height="1" fill="#ff0000"/>
<rect x="319.30" y="168" width="3.10" height="1" fill="#ff0000"/>
<rect x="316" y="163.00" width="1" height="10.70" fill="#ff0000"/>
<rect x="320.60" y="184" width="3.90" height="1" fill="#ff0000"/>
<rect x="329.30" y="184" width="3.10" height="1" fill="#ff0000"/>
<rect x="326" y="179.80" width="1" height="11.40" fill="#ff0000"/>
<rect x="330.60" y="172" width="3.90" height="1" fill="#ff0000"/>
<rect x="339.30" y="172" width="3.10" height="1" fill="#ff0000"/>
<rect x="336" y="166.50" width="1" height="12.10" fill="#ff0000"/>
<rect x="341.60" y="205" width="3.90" height="1" fill="#ff0000"/>
<rect x="350.30" y="205" width="3.10" height="1" fill="#ff0000"/>
<rect x="347" y="198.40" width="1" height="14.00" fill="#ff0000"/>
<rect x="351.60" y="189" width="3.90" height="1" fill="#ff0000"/>
<rect x="360.30" y="189" width="3.10" height="1" fill="#ff0000"/>
<rect x="357" y="183.40" width="1" height="12.00" fill="#ff0000"/>
<rect x="361.60" y="209" width="3.90" height="1" fill="#ff0000"/>
<rect x="370.30" y="209" width="3.10" height="1" fill="#ff0000"/>
<rect x="367" y="202.40" width="1" height="13.80" fill="#ff0000"/>
<rect x="371.60" y="201" width="3.90" height="1" fill="#ff0000"/>
<rect x="380.30" y="201" width="3.10" height="1" fill="#ff0000"/>
<rect x="377" y="194.20" width="1" height="10.80" fill="#ff0000"/>
<rect x="381.60" y="212" width="3.90" height="1" fill="#ff0000"/>
<rect x="390.30" y="212" width="3.10" height="1" fill="#ff0000"/>
<rect x="387" y="208.40" width="1" height="6.90" fill="#ff0000"/>
<rect x="392.60" y="221" width="3.90" height="1" fill="#ff0000"/>
<rect x="401.30" y="221" width="3.10" height="1" fill="#ff0000"/>
<rect x="398" y="212.80" width="1" height="18.10" fill="#ff0000"/>
<rect x="402.60" y="210" width="3.90" height="1" fill="#ff0000"/>
<rect x="411.30" y="210" width="3.10" height="1" fill="#ff0000"/>
<rect x="408" y="205.00" width="1" height="15.50" fill="#ff0000"/>
<rect x="412.60" y="221" width="3.90" height="1" fill="#ff0000"/>
<rect x="421.30" y="221" width="3.10" height="1" fill="#ff0000"/>
<rect x="418" y="216.20" width="1" height="10.40" fill="#ff0000"/>
<rect x="422.60" y="226" width="3.90" height="1" fill="#ff0000"/>
<rect x="431.30" y="226" width="3.10" height="1" fill="#ff0000"/>
<rect x="428" y="217.90" width="1" height="17.30" fill="#ff0000"/>
<rect x="433.60" y="233" width="3.90" height="1" fill="#ff0000"/>
<rect x="442.30" y="233" width="3.10" height="1" fill="#ff0000"/>
<rect x="439" y="224.00" width="1" height="18.90" fill="#ff0000"/>
<rect x="443.60" y="235" width="3.90" height="1" fill="#ff0000"/>
<rect x="452.30" y="235" width="3.10" height="1" fill="#ff0000"/>
<rect x="449" y="226.10" width="1" height="18.60" fill="#ff0000"/>
<rect x="453.60" y="236" width="3.90" height="1" fill="#ff0000"/>
<rect x="462.30" y="236" width="3.10" height="1" fill="#ff0000"/>
<rect x="459" y="226.90" width="1" height="18.90" fill="#ff0000"/>
<rect x="463.60" y="227" width="3.90" height="1" fill="#ff0000"/>
<rect x="472.30" y="227" width="3.10" height="1" fill="#ff0000"/>
<rect x="469" y="223.20" width="1" height="9.00" fill="#ff0000"/>
<rect x="473.60" y="237" width="3.90" height="1" fill="#ff0000"/>
<rect x="482.30" y="237" width="3.10" height="1" fill="#ff0000"/>
<rect x="479" y="229.20" width="1" height="16.80" fill="#ff0000"/>
<rect x="484.60" y="232" width="3.90" height="1" fill="#ff0000"/>
<rect x="493.30" y="232" width="3.10" height="1" fill="#ff0000"/>
<rect x="490" y="222.80" width="1" height="18.90" fill="#ff0000"/>
<rect x="494.60" y="230" width="3.90" height="1" fill="#ff0000"/>
<rect x="503.30" y="230" width="3.10" height="1" fill="#ff0000"/>
<rect x="500" y="222.30" width="1" height="15.50" fill="#ff0000"/>
<rect x="504.60" y="233" width="3.90" height="1" fill="#ff0000"/>
<rect x="513.30" y="233" width="3.10" height="1" fill="#ff0000"/>
<rect x="510" y="224.50" width="1" height="17.20" fill="#ff0000"/>
<rect x="514.60" y="239" width="3.90" height="1" fill="#ff0000"/>
<rect x="523.30" y="239" width="3.10" height="1" fill="#ff0000"/>
<rect x="520" y="230.00" width="1" height="18.60" fill="#ff0000"/>
<rect x="524.60" y="244" width="3.90" height="1" fill="#ff0000"/>
<rect x="533.30" y="244" width="3.10" height="1" fill="#ff0000"/>
<rect x="530" y="235.70" width="1" height="18.10" fill="#ff0000"/>
<rect x="535.60" y="233" width="3.90" height="1" fill="#ff0000"/>
<rect x="544.30" y="233" width="3.10" height="1" fill="#ff0000"/>
<rect x="541" y="223.20" width="1" height="19.40" fill="#ff0000"/>
<rect x="545.60" y="233" width="3.90" height="1" fill="#ff0000"/>
<rect x="554.30" y="233" width="3.10" height="1" fill="#ff0000"/>
<rect x="551" y="223.00" width="1" height="20.00" fill="#ff0000"/>
<rect x="555.60" y="246" width="3.90" height="1" fill="#ff0000"/>
<rect x="564.30" y="246" width="3.10" height="1" fill="#ff0000"/>
<rect x="561" y="239.60" width="1" height="16.90" fill="#ff0000"/>
<rect x="565.60" y="253" width="3.90" height="1" fill="#ff0000"/>
<rect x="574.30" y="253" width="3.10" height="1" fill="#ff0000"/>
<rect x="571" y="243.30" width="1" height="20.70" fill="#ff0000"/>
<rect x="576.60" y="244" width="3.90" height="1" fill="#ff0000"/>
<rect x="585.30" y="244" width="3.10" height="1" fill="#ff0000"/>
<rect x="582" y="240.00" width="1" height="11.20" fill="#ff0000"/>
<rect x="586.60" y="254" width="3.90" height="1" fill="#ff0000"/>
<rect x="595.30" y="254" width="3.10" height="1" fill="#ff0000"/>
<rect x="592" y="246.20" width="1" height="20.40" fill="#ff0000"/>
<rect x="596.60" y="256" width="3.90" height="1" fill="#ff0000"/>
<rect x="605.30" y="256" width="3.10" height="1" fill="#ff0000"/>
<rect x="602" y="248.00" width="1" height="19.00" fill="#ff0000"/>
<rect x="606.60" y="272" width="3.90" height="1" fill="#ff0000"/>
<rect x="615.30" y="272" width="3.10" height="1" fill="#ff0000"/>
<rect x="612" y="265.00" width="1" height="18.50" fill="#ff0000"/>
<rect x="616.60" y="280" width="3.90" height="1" fill="#ff0000"/>
<rect x="625.30" y="280" width="3.10" height="1" fill="#ff0000"/>
<rect x="622" y="272.00" width="1" height="23.50" fill="#ff0000"/>
<rect x="627.60" y="287" width="3.90" height="1" fill="#ff0000"/>
<rect x="636.30" y="287" width="3.10" height="1" fill="#ff0000"/>
<rect x="633" y="275.80" width="1" height="24.70" fill="#ff0000"/>
<rect x="637.60" y="303" width="3.90" height="1" fill="#ff0000"/>
<rect x="646.30" y="303" width="3.10" height="1" fill="#ff0000"/>
<rect x="643" y="296.00" width="1" height="22.70" fill="#ff0000"/>
<rect x="647.60" y="351" width="3.90" height="1" fill="#ff0000"/>
<rect x="656.30" y="351" width="3.10" height="1" fill="#ff0000"/>
<rect x="653" y="335.40" width="1" height="37.00" fill="#ff0000"/>
<rect x="657.60" y="310" width="3.90" height="1" fill="#ff0000"/>
<rect x="666.30" y="310" width="3.10" height="1" fill="#ff0000"/>
<rect x="663" y="297.00" width="1" height="28.00" fill="#ff0000"/>
<rect x="668.60" y="370" width="3.90" height="1" fill="#ff0000"/>
<rect x="677.30" y="370" width="3.10" height="1" fill="#ff0000"/>
<rect x="674" y="352.00" width="1" height="42.50" fill="#ff0000"/>
<rect x="678.60" y="330" width="3.90" height="1" fill="#ff0000"/>
<rect x="687.30" y="330" width="3.10" height="1" fill="#ff0000"/>
<rect x="684" y="315.00" width="1" height="33.00" fill="#ff0000"/>
<rect x="688.60" y="333" width="3.90" height="1" fill="#ff0000"/>
<rect x="697.30" y="333" width="3.10" height="1" fill="#ff0000"/>
<rect x="694" y="318.00" width="1" height="33.60" fill="#ff0000"/>
<rect x="698.60" y="382" width="3.90" height="1" fill="#ff0000"/>
<rect x="707.30" y="382" width="3.10" height="1" fill="#ff0000"/>
<rect x="704" y="354.00" width="1" height="53.60" fill="#ff0000"/>
<rect x="708.60" y="351" width="3.90" height="1" fill="#ff0000"/>
<rect x="717.30" y="351" width="3.10" height="1" fill="#ff0000"/>
<rect x="714" y="334.90" width="1" height="37.50" fill="#ff0000"/>
<rect x="719.60" y="344" width="3.90" height="1" fill="#ff0000"/>
<rect x="728.30" y="344" width="3.10" height="1" fill="#ff0000"/>
<rect x="725" y="328.20" width="1" height="37.80" fill="#ff0000"/>
<rect x="729.60" y="388" width="3.90" height="1" fill="#ff0000"/>
<rect x="738.30" y="388" width="3.10" height="1" fill="#ff0000"/>
<rect x="735" y="367.90" width="1" height="47.40" fill="#ff0000"/>
<rect x="739.60" y="360" width="3.90" height="1" fill="#ff0000"/>
<rect x="748.30" y="360" width="3.10" height="1" fill="#ff0000"/>
<rect x="745" y="343.00" width="1" height="37.00" fill="#ff0000"/>
<rect x="749.60" y="388" width="3.90" height="1" fill="#ff0000"/>
<rect x="758.30" y="388" width="3.10" height="1" fill="#ff0000"/>
<rect x="755" y="374.00" width="1" height="42.00" fill="#ff0000"/>
<rect x="759.60" y="376" width="3.90" height="1" fill="#ff0000"/>
<rect x="768.30" y="376" width="3.10" height="1" fill="#ff0000"/>
<rect x="765" y="357.00" width="1" height="43.50" fill="#ff0000"/>
<rect x="770.60" y="395" width="3.90" height="1" fill="#ff0000"/>
<rect x="779.30" y="395" width="3.10" height="1" fill="#ff0000"/>
<rect x="776" y="380.00" width="1" height="43.70" fill="#ff0000"/>
<rect x="780.60" y="395" width="3.90" height="1" fill="#ff0000"/>
<rect x="789.30" y="395" width="3.10" height="1" fill="#ff0000"/>
<rect x="786" y="374.30" width="1" height="49.40" fill="#ff0000"/>
<rect x="790.60" y="383" width="3.90" height="1" fill="#ff0000"/>
<rect x="799.30" y="383" width="3.10" height="1" fill="#ff0000"/>
<rect x="796" y="362.00" width="1" height="45.50" fill="#ff0000"/>
<rect x="800.60" y="347" width="3.90" height="1" fill="#ff0000"/>
<rect x="809.30" y="347" width="3.10" height="1" fill="#ff0000"/>
<rect x="806" y="331.40" width="1" height="36.10" fill="#ff0000"/>
<rect x="811.60" y="365" width="3.90" height="1" fill="#ff0000"/>
<rect x="820.30" y="365" width="3.10" height="1" fill="#ff0000"/>
<rect x="817" y="347.20" width="1" height="41.80" fill="#ff0000"/>
<rect x="821.60" y="402" width="3.90" height="1" fill="#ff0000"/>
<rect x="830.30" y="402" width="3.10" height="1" fill="#ff0000"/>
<rect x="827" y="382.00" width="1" height="51.60" fill="#ff0000"/>
<rect x="831.60" y="371" width="3.90" height="1" fill="#ff0000"/>
<rect x="840.30" y="371" width="3.10" height="1" fill="#ff0000"/>
<rect x="837" y="352.10" width="1" height="42.70" fill="#ff0000"/>
<rect x="841.60" y="356" width="3.90" height="1" fill="#ff0000"/>
<rect x="850.30" y="356" width="3.10" height="1" fill="#ff0000"/>
<rect x="847" y="339.30" width="1" height="38.40" fill="#ff0000"/>
<rect x="851.60" y="420" width="3.90" height="1" fill="#ff0000"/>
<rect x="860.30" y="420" width="3.10" height="1" fill="#ff0000"/>
<rect x="857" y="396.20" width="1" height="60.00" fill="#ff0000"/>
<rect x="862.60" y="376" width="3.90" height="1" fill="#ff0000"/>
<rect x="871.30" y="376" width="3.10" height="1" fill="#ff0000"/>
<rect x="868" y="358.00" width="1" height="43.20" fill="#ff0000"/>
<rect x="872.60" y="382" width="3.90" height="1" fill="#ff0000"/>
<rect x="881.30" y="382" width="3.10" height="1" fill="#ff0000"/>
<rect x="878" y="365.00" width="1" height="42.50" fill="#ff0000"/>
<rect x="882.60" y="365" width="3.90" height="1" fill="#ff0000"/>
<rect x="891.30" y="365" width="3.10" height="1" fill="#ff0000"/>
<rect x="888" y="350.00" width="1" height="38.50" fill="#ff0000"/>
<rect x="892.60" y="340" width="3.90" height="1" fill="#ff0000"/>
<rect x="901.30" y="340" width="3.10" height="1" fill="#ff0000"/>
<rect x="898" y="324.40" width="1" height="35.20" fill="#ff0000"/>
<rect x="902.60" y="365" width="3.90" height="1" fill="#ff0000"/>
<rect x="911.30" y="365" width="3.10" height="1" fill="#ff0000"/>
<rect x="908" y="348.00" width="1" height="42.00" fill="#ff0000"/>
<rect x="913.60" y="336" width="3.90" height="1" fill="#ff0000"/>
<rect x="922.30" y="336" width="3.10" height="1" fill="#ff0000"/>
<rect x="919" y="324.40" width="1" height="31.60" fill="#ff0000"/>
<rect x="923.60" y="347" width="3.90" height="1" fill="#ff0000"/>
<rect x="932.30" y="347" width="3.10" height="1" fill="#ff0000"/>
<rect x="929" y="331.50" width="1" height="36.20" fill="#ff0000"/>
<rect x="933.60" y="313" width="3.90" height="1" fill="#ff0000"/>
<rect x="942.30" y="313" width="3.10" height="1" fill="#ff0000"/>
<rect x="939" y="299.00" width="1" height="31.00" fill="#ff0000"/>
<rect x="943.60" y="308" width="3.90" height="1" fill="#ff0000"/>
<rect x="952.30" y="308" width="3.10" height="1" fill="#ff0000"/>
<rect x="949" y="298.00" width="1" height="22.00" fill="#ff0000"/>
<rect x="954.60" y="299" width="3.90" height="1" fill="#ff0000"/>
<rect x="963.30" y="299" width="3.10" height="1" fill="#ff0000"/>
<rect x="960" y="289.50" width="1" height="23.90" fill="#ff0000"/>
<rect x="964.60" y="278" width="3.90" height="1" fill="#ff0000"/>
<rect x="973.30" y="278" width="3.10" height="1" fill="#ff0000"/>
<rect x="970" y="270.00" width="1" height="20.00" fill="#ff0000"/>
<rect x="974.60" y="280" width="3.90" height="1" fill="#ff0000"/>
<rect x="983.30" y="280" width="3.10" height="1" fill="#ff0000"/>
<rect x="980" y="268.80" width="1" height="23.50" fill="#ff0000"/>
<rect x="984.60" y="243" width="3.90" height="1" fill="#ff0000"/>
<rect x="993.30" y="243" width="3.10" height="1" fill="#ff0000"/>
<rect x="990" y="234.00" width="1" height="18.50" fill="#ff0000"/>
<rect x="994.60" y="247" width="3.90" height="1" fill="#ff0000"/>
<rect x="1003.30" y="247" width="3.10" height="1" fill="#ff0000"/>
<rect x="1000" y="239.90" width="1" height="17.60" fill="#ff0000"/>
<rect x="1005.60" y="251" width="3.90" height="1" fill="#ff0000"/>
<rect x="1014.30" y="251" width="3.10" height="1" fill="#ff0000"/>
<rect x="1011" y="241.70" width="1" height="19.90" fill="#ff0000"/>
<rect x="1015.60" y="258" width="3.90" height="1" fill="#ff0000"/>
<rect x="1024.30" y="258" width="3.10" height="1" fill="#ff0000"/>
<rect x="1021" y="248.50" width="1" height="19.80" fill="#ff0000"/>
<rect x="1025.60" y="256" width="3.90" height="1" fill="#ff0000"/>
<rect x="1034.30" y="256" width="3.10" height="1" fill="#ff0000"/>
<rect x="1031" y="247.60" width="1" height="20.10" fill="#ff0000"/>
<rect x="1035.60" y="273" width="3.90" height="1" fill="#ff0000"/>
<rect x="1044.30" y="273" width="3.10" height="1" fill="#ff0000"/>
<rect x="1041" y="263.10" width="1" height="22.60" fill="#ff0000"/>
<rect x="1045.60" y="281" width="3.90" height="1" fill="#ff0000"/>
<rect x="1054.30" y="281" width="3.10" height="1" fill="#ff0000"/>
<rect x="1051" y="274.20" width="1" height="20.60" fill="#ff0000"/>
<rect x="1056.60" y="305" width="3.90" height="1" fill="#ff0000"/>
<rect x="1065.30" y="305" width="3.10" height="1" fill="#ff0000"/>
<rect x="1062" y="293.20" width="1" height="26.90" fill="#ff0000"/>
<rect x="1066.60" y="330" width="3.90" height="1" fill="#ff0000"/>
<rect x="1075.30" y="330" width="3.10" height="1" fill="#ff0000"/>
<rect x="1072" y="315.60" width="1" height="32.10" fill="#ff0000"/>
<rect x="1076.60" y="344" width="3.90" height="1" fill="#ff0000"/>
<rect x="1085.30" y="344" width="3.10" height="1" fill="#ff0000"/>
<rect x="1082" y="328.20" width="1" height="35.60" fill="#ff0000"/>
<rect x="1086.60" y="321" width="3.90" height="1" fill="#ff0000"/>
<rect x="1095.30" y="321" width="3.10" height="1" fill="#ff0000"/>
<rect x="1092" y="314.10" width="1" height="23.60" fill="#ff0000"/>
<rect x="1097.60" y="310" width="3.90" height="1" fill="#ff0000"/>
<rect x="1106.30" y="310" width="3.10" height="1" fill="#ff0000"/>
<rect x="1103" y="302.50" width="1" height="24.10" fill="#ff0000"/>
<rect x="1107.60" y="370" width="3.90" height="1" fill="#ff0000"/>
<rect x="1116.30" y="370" width="3.10" height="1" fill="#ff0000"/>
<rect x="1113" y="352.20" width="1" height="37.20" fill="#ff0000"/>
<rect x="1117.60" y="360" width="3.90" height="1" fill="#ff0000"/>
<rect x="1126.30" y="360" width="3.10" height="1" fill="#ff0000"/>
<rect x="1123" y="335.20" width="1" height="47.40" fill="#ff0000"/>
<rect x="1127.60" y="431" width="3.90" height="1" fill="#ff0000"/>
<rect x="1136.30" y="431" width="3.10" height="1" fill="#ff0000"/>
<rect x="1133" y="417.00" width="1" height="52.00" fill="#ff0000"/>
<rect x="1137.60" y="336" width="3.90" height="1" fill="#ff0000"/>
<rect x="1146.30" y="336" width="3.10" height="1" fill="#ff0000"/>
<rect x="1143" y="321.10" width="1" height="36.90" fill="#ff0000"/>
<polygon points="149.90,533.10 156.00,533.10 152.95,527.50" fill="#ff0000"/>
<polygon points="159.90,533.10 166.00,533.10 162.95,527.50" fill="#ff0000"/>
<polygon points="169.90,362.70 176.00,362.70 172.95,357.10" fill="#ff0000"/>
<polygon points="179.90,379.10 186.00,379.10 182.95,373.50" fill="#ff0000"/>
<polygon points="189.90,330.20 196.00,330.20 192.95,324.60" fill="#ff0000"/>
<polygon points="200.90,291.10 207.00,291.10 203.95,285.50" fill="#ff0000"/>
<polygon points="210.90,248.90 217.00,248.90 213.95,243.30" fill="#ff0000"/>
<polygon points="220.90,257.10 227.00,257.10 223.95,251.50" fill="#ff0000"/>
<polygon points="230.90,266.40 237.00,266.40 233.95,260.80" fill="#ff0000"/>
<polygon points="240.90,259.10 247.00,259.10 243.95,253.50" fill="#ff0000"/>
<polygon points="251.90,266.00 258.00,266.00 254.95,260.40" fill="#ff0000"/>
<polygon points="261.90,244.90 268.00,244.90 264.95,239.30" fill="#ff0000"/>
<polygon points="271.90,242.10 278.00,242.10 274.95,236.50" fill="#ff0000"/>
<polygon points="281.90,215.00 288.00,215.00 284.95,209.40" fill="#ff0000"/>
<polygon points="292.90,177.20 299.00,177.20 295.95,171.60" fill="#ff0000"/>
<polygon points="302.90,169.60 309.00,169.60 305.95,164.00" fill="#ff0000"/>
<polygon points="312.90,171.40 319.00,171.40 315.95,165.80" fill="#ff0000"/>
<polygon points="322.90,187.30 329.00,187.30 325.95,181.70" fill="#ff0000"/>
<polygon points="332.90,175.30 339.00,175.30 335.95,169.70" fill="#ff0000"/>
<polygon points="343.90,208.20 350.00,208.20 346.95,202.60" fill="#ff0000"/>
<polygon points="353.90,192.00 360.00,192.00 356.95,186.40" fill="#ff0000"/>
<polygon points="363.90,211.90 370.00,211.90 366.95,206.30" fill="#ff0000"/>
<polygon points="373.90,203.60 380.00,203.60 376.95,198.00" fill="#ff0000"/>
<polygon points="383.90,214.80 390.00,214.80 386.95,209.20" fill="#ff0000"/>
<polygon points="394.90,224.30 401.00,224.30 397.95,218.70" fill="#ff0000"/>
<polygon points="404.90,213.10 411.00,213.10 407.95,207.50" fill="#ff0000"/>
<polygon points="414.90,223.90 421.00,223.90 417.95,218.30" fill="#ff0000"/>
<polygon points="424.90,229.10 431.00,229.10 427.95,223.50" fill="#ff0000"/>
<polygon points="435.90,235.90 442.00,235.90 438.95,230.30" fill="#ff0000"/>
<polygon points="445.90,237.80 452.00,237.80 448.95,232.20" fill="#ff0000"/>
<polygon points="455.90,238.50 462.00,238.50 458.95,232.90" fill="#ff0000"/>
<polygon points="465.90,230.00 472.00,230.00 468.95,224.40" fill="#ff0000"/>
<polygon points="475.90,239.90 482.00,239.90 478.95,234.30" fill="#ff0000"/>
<polygon points="486.90,234.70 493.00,234.70 489.95,229.10" fill="#ff0000"/>
<polygon points="496.90,233.00 503.00,233.00 499.95,227.40" fill="#ff0000"/>
<polygon points="506.90,236.00 513.00,236.00 509.95,230.40" fill="#ff0000"/>
<polygon points="516.90,241.60 523.00,241.60 519.95,236.00" fill="#ff0000"/>
<polygon points="526.90,246.80 533.00,246.80 529.95,241.20" fill="#ff0000"/>
<polygon points="537.90,235.70 544.00,235.70 540.95,230.10" fill="#ff0000"/>
<polygon points="547.90,235.50 554.00,235.50 550.95,229.90" fill="#ff0000"/>
<polygon points="557.90,249.20 564.00,249.20 560.95,243.60" fill="#ff0000"/>
<polygon points="567.90,255.50 574.00,255.50 570.95,249.90" fill="#ff0000"/>
<polygon points="578.90,247.00 585.00,247.00 581.95,241.40" fill="#ff0000"/>
<polygon points="588.90,256.50 595.00,256.50 591.95,250.90" fill="#ff0000"/>
<polygon points="598.90,258.50 605.00,258.50 601.95,252.90" fill="#ff0000"/>
<polygon points="608.90,275.20 615.00,275.20 611.95,269.60" fill="#ff0000"/>
<polygon points="618.90,283.00 625.00,283.00 621.95,277.40" fill="#ff0000"/>
<polygon points="629.90,289.90 636.00,289.90 632.95,284.30" fill="#ff0000"/>
<polygon points="639.90,306.30 646.00,306.30 642.95,300.70" fill="#ff0000"/>
<polygon points="649.90,354.10 656.00,354.10 652.95,348.50" fill="#ff0000"/>
<polygon points="659.90,312.60 666.00,312.60 662.95,307.00" fill="#ff0000"/>
<polygon points="670.90,373.10 677.00,373.10 673.95,367.50" fill="#ff0000"/>
<polygon points="680.90,333.10 687.00,333.10 683.95,327.50" fill="#ff0000"/>
<polygon points="690.90,336.10 697.00,336.10 693.95,330.50" fill="#ff0000"/>
<polygon points="700.90,384.80 707.00,384.80 703.95,379.20" fill="#ff0000"/>
<polygon points="710.90,354.10 717.00,354.10 713.95,348.50" fill="#ff0000"/>
<polygon points="721.90,346.70 728.00,346.70 724.95,341.10" fill="#ff0000"/>
<polygon points="731.90,391.10 738.00,391.10 734.95,385.50" fill="#ff0000"/>
<polygon points="741.90,363.10 748.00,363.10 744.95,357.50" fill="#ff0000"/>
<polygon points="751.90,391.10 758.00,391.10 754.95,385.50" fill="#ff0000"/>
<polygon points="761.90,378.60 768.00,378.60 764.95,373.00" fill="#ff0000"/>
<polygon points="772.90,398.20 779.00,398.20 775.95,392.60" fill="#ff0000"/>
<polygon points="782.90,398.20 789.00,398.20 785.95,392.60" fill="#ff0000"/>
<polygon points="792.90,385.80 799.00,385.80 795.95,380.20" fill="#ff0000"/>
<polygon points="802.90,350.10 809.00,350.10 805.95,344.50" fill="#ff0000"/>
<polygon points="813.90,368.20 820.00,368.20 816.95,362.60" fill="#ff0000"/>
<polygon points="823.90,404.90 830.00,404.90 826.95,399.30" fill="#ff0000"/>
<polygon points="833.90,373.50 840.00,373.50 836.95,367.90" fill="#ff0000"/>
<polygon points="843.90,358.50 850.00,358.50 846.95,352.90" fill="#ff0000"/>
<polygon points="853.90,423.10 860.00,423.10 856.95,417.50" fill="#ff0000"/>
<polygon points="864.90,379.30 871.00,379.30 867.95,373.70" fill="#ff0000"/>
<polygon points="874.90,385.00 881.00,385.00 877.95,379.40" fill="#ff0000"/>
<polygon points="884.90,368.40 891.00,368.40 887.95,362.80" fill="#ff0000"/>
<polygon points="894.90,343.20 901.00,343.20 897.95,337.60" fill="#ff0000"/>
<polygon points="904.90,368.40 911.00,368.40 907.95,362.80" fill="#ff0000"/>
<polygon points="915.90,339.10 922.00,339.10 918.95,333.50" fill="#ff0000"/>
<polygon points="925.90,350.00 932.00,350.00 928.95,344.40" fill="#ff0000"/>
<polygon points="935.90,316.00 942.00,316.00 938.95,310.40" fill="#ff0000"/>
<polygon points="945.90,310.80 952.00,310.80 948.95,305.20" fill="#ff0000"/>
<polygon points="956.90,302.10 963.00,302.10 959.95,296.50" fill="#ff0000"/>
<polygon points="966.90,281.00 973.00,281.00 969.95,275.40" fill="#ff0000"/>
<polygon points="976.90,283.00 983.00,283.00 979.95,277.40" fill="#ff0000"/>
<polygon points="986.90,246.00 993.00,246.00 989.95,240.40" fill="#ff0000"/>
<polygon points="996.90,250.10 1003.00,250.10 999.95,244.50" fill="#ff0000"/>
<polygon points="1007.90,254.10 1014.00,254.10 1010.95,248.50" fill="#ff0000"/>
<polygon points="1017.90,260.90 1024.00,260.90 1020.95,255.30" fill="#ff0000"/>
<polygon points="1027.90,259.10 1034.00,259.10 1030.95,253.50" fill="#ff0000"/>
<polygon points="1037.90,276.20 1044.00,276.20 1040.95,270.60" fill="#ff0000"/>
<polygon points="1047.90,284.20 1054.00,284.20 1050.95,278.60" fill="#ff0000"/>
<polygon points="1058.90,308.20 1065.00,308.20 1061.95,302.60" fill="#ff0000"/>
<polygon points="1068.90,333.20 1075.00,333.20 1071.95,327.60" fill="#ff0000"/>
<polygon points="1078.90,347.20 1085.00,347.20 1081.95,341.60" fill="#ff0000"/>
<polygon points="1088.90,324.10 1095.00,324.10 1091.95,318.50" fill="#ff0000"/>
<polygon points="1099.90,313.20 1106.00,313.20 1102.95,307.60" fill="#ff0000"/>
<polygon points="1109.90,372.80 1116.00,372.80 1112.95,367.20" fill="#ff0000"/>
<polygon points="1119.90,362.80 1126.00,362.80 1122.95,357.20" fill="#ff0000"/>
<polygon points="1129.90,434.10 1136.00,434.10 1132.95,428.50" fill="#ff0000"/>
<polygon points="1139.90,339.20 1146.00,339.20 1142.95,333.60" fill="#ff0000"/>
<rect x="126.60" y="645" width="3.90" height="1" fill="#990099"/>
<rect x="135.30" y="645" width="3.10" height="1" fill="#990099"/>
<rect x="132" y="620.00" width="1" height="40.00" fill="#990099"/>
<rect x="136.60" y="646" width="3.90" height="1" fill="#990099"/>
<rect x="145.30" y="646" width="3.10" height="1" fill="#990099"/>
<rect x="142" y="636.00" width="1" height="24.00" fill="#990099"/>
<rect x="147.60" y="634" width="3.90" height="1" fill="#990099"/>
<rect x="156.30" y="634" width="3.10" height="1" fill="#990099"/>
<rect x="153" y="612.70" width="1" height="57.80" fill="#990099"/>
<rect x="157.60" y="547" width="3.90" height="1" fill="#990099"/>
<rect x="166.30" y="547" width="3.10" height="1" fill="#990099"/>
<rect x="163" y="535.00" width="1" height="25.00" fill="#990099"/>
<rect x="167.60" y="530" width="3.90" height="1" fill="#990099"/>
<rect x="176.30" y="530" width="3.10" height="1" fill="#990099"/>
<rect x="173" y="517.00" width="1" height="29.00" fill="#990099"/>
<rect x="177.60" y="456" width="3.90" height="1" fill="#990099"/>
<rect x="186.30" y="456" width="3.10" height="1" fill="#990099"/>
<rect x="183" y="447.00" width="1" height="19.40" fill="#990099"/>
<rect x="187.60" y="395" width="3.90" height="1" fill="#990099"/>
<rect x="196.30" y="395" width="3.10" height="1" fill="#990099"/>
<rect x="193" y="386.00" width="1" height="18.00" fill="#990099"/>
<rect x="198.60" y="349" width="3.90" height="1" fill="#990099"/>
<rect x="207.30" y="349" width="3.10" height="1" fill="#990099"/>
<rect x="204" y="345.30" width="1" height="6.88" fill="#990099"/>
<rect x="208.60" y="290" width="3.90" height="1" fill="#990099"/>
<rect x="217.30" y="290" width="3.10" height="1" fill="#990099"/>
<rect x="214" y="286.00" width="1" height="6.88" fill="#990099"/>
<rect x="218.60" y="258" width="3.90" height="1" fill="#990099"/>
<rect x="227.30" y="258" width="3.10" height="1" fill="#990099"/>
<rect x="224" y="254.60" width="1" height="6.88" fill="#990099"/>
<rect x="228.60" y="259" width="3.90" height="1" fill="#990099"/>
<rect x="237.30" y="259" width="3.10" height="1" fill="#990099"/>
<rect x="234" y="255.20" width="1" height="6.88" fill="#990099"/>
<rect x="238.60" y="265" width="3.90" height="1" fill="#990099"/>
<rect x="247.30" y="265" width="3.10" height="1" fill="#990099"/>
<rect x="244" y="261.80" width="1" height="6.88" fill="#990099"/>
<rect x="249.60" y="267" width="3.90" height="1" fill="#990099"/>
<rect x="258.30" y="267" width="3.10" height="1" fill="#990099"/>
<rect x="255" y="263.10" width="1" height="6.88" fill="#990099"/>
<rect x="259.60" y="255" width="3.90" height="1" fill="#990099"/>
<rect x="268.30" y="255" width="3.10" height="1" fill="#990099"/>
<rect x="265" y="251.60" width="1" height="6.88" fill="#990099"/>
<rect x="269.60" y="235" width="3.90" height="1" fill="#990099"/>
<rect x="278.30" y="235" width="3.10" height="1" fill="#990099"/>
<rect x="275" y="231.90" width="1" height="6.88" fill="#990099"/>
<rect x="279.60" y="207" width="3.90" height="1" fill="#990099"/>
<rect x="288.30" y="207" width="3.10" height="1" fill="#990099"/>
<rect x="285" y="203.60" width="1" height="6.88" fill="#990099"/>
<rect x="290.60" y="183" width="3.90" height="1" fill="#990099"/>
<rect x="299.30" y="183" width="3.10" height="1" fill="#990099"/>
<rect x="296" y="179.00" width="1" height="6.88" fill="#990099"/>
<rect x="300.60" y="172" width="3.90" height="1" fill="#990099"/>
<rect x="309.30" y="172" width="3.10" height="1" fill="#990099"/>
<rect x="306" y="168.10" width="1" height="6.88" fill="#990099"/>
<rect x="310.60" y="170" width="3.90" height="1" fill="#990099"/>
<rect x="319.30" y="170" width="3.10" height="1" fill="#990099"/>
<rect x="316" y="166.90" width="1" height="6.88" fill="#990099"/>
<rect x="320.60" y="176" width="3.90" height="1" fill="#990099"/>
<rect x="329.30" y="176" width="3.10" height="1" fill="#990099"/>
<rect x="326" y="172.30" width="1" height="6.88" fill="#990099"/>
<rect x="330.60" y="184" width="3.90" height="1" fill="#990099"/>
<rect x="339.30" y="184" width="3.10" height="1" fill="#990099"/>
<rect x="336" y="180.40" width="1" height="6.88" fill="#990099"/>
<rect x="341.60" y="190" width="3.90" height="1" fill="#990099"/>
<rect x="350.30" y="190" width="3.10" height="1" fill="#990099"/>
<rect x="347" y="186.50" width="1" height="6.88" fill="#990099"/>
<rect x="351.60" y="195" width="3.90" height="1" fill="#990099"/>
<rect x="360.30" y="195" width="3.10" height="1" fill="#990099"/>
<rect x="357" y="191.60" width="1" height="6.88" fill="#990099"/>
<rect x="361.60" y="200" width="3.90" height="1" fill="#990099"/>
<rect x="370.30" y="200" width="3.10" height="1" fill="#990099"/>
<rect x="367" y="196.80" width="1" height="6.88" fill="#990099"/>
<rect x="371.60" y="209" width="3.90" height="1" fill="#990099"/>
<rect x="380.30" y="209" width="3.10" height="1" fill="#990099"/>
<rect x="377" y="205.60" width="1" height="6.88" fill="#990099"/>
<rect x="381.60" y="207" width="3.90" height="1" fill="#990099"/>
<rect x="390.30" y="207" width="3.10" height="1" fill="#990099"/>
<rect x="387" y="203.80" width="1" height="6.88" fill="#990099"/>
<rect x="392.60" y="211" width="3.90" height="1" fill="#990099"/>
<rect x="401.30" y="211" width="3.10" height="1" fill="#990099"/>
<rect x="398" y="207.40" width="1" height="6.88" fill="#990099"/>
<rect x="402.60" y="215" width="3.90" height="1" fill="#990099"/>
<rect x="411.30" y="215" width="3.10" height="1" fill="#990099"/>
<rect x="408" y="211.30" width="1" height="6.88" fill="#990099"/>
<rect x="412.60" y="214" width="3.90" height="1" fill="#990099"/>
<rect x="421.30" y="214" width="3.10" height="1" fill="#990099"/>
<rect x="418" y="210.40" width="1" height="6.88" fill="#990099"/>
<rect x="422.60" y="215" width="3.90" height="1" fill="#990099"/>
<rect x="431.30" y="215" width="3.10" height="1" fill="#990099"/>
<rect x="428" y="211.70" width="1" height="6.88" fill="#990099"/>
<rect x="433.60" y="215" width="3.90" height="1" fill="#990099"/>
<rect x="442.30" y="215" width="3.10" height="1" fill="#990099"/>
<rect x="439" y="211.70" width="1" height="6.88" fill="#990099"/>
<rect x="443.60" y="215" width="3.90" height="1" fill="#990099"/>
<rect x="452.30" y="215" width="3.10" height="1" fill="#990099"/>
<rect x="449" y="211.80" width="1" height="6.88" fill="#990099"/>
<rect x="453.60" y="219" width="3.90" height="1" fill="#990099"/>
<rect x="462.30" y="219" width="3.10" height="1" fill="#990099"/>
<rect x="459" y="215.70" width="1" height="6.88" fill="#990099"/>
<rect x="463.60" y="220" width="3.90" height="1" fill="#990099"/>
<rect x="472.30" y="220" width="3.10" height="1" fill="#990099"/>
<rect x="469" y="216.50" width="1" height="6.88" fill="#990099"/>
<rect x="473.60" y="219" width="3.90" height="1" fill="#990099"/>
<rect x="482.30" y="219" width="3.10" height="1" fill="#990099"/>
<rect x="479" y="215.70" width="1" height="6.88" fill="#990099"/>
<rect x="484.60" y="217" width="3.90" height="1" fill="#990099"/>
<rect x="493.30" y="217" width="3.10" height="1" fill="#990099"/>
<rect x="490" y="213.50" width="1" height="6.88" fill="#990099"/>
<rect x="494.60" y="219" width="3.90" height="1" fill="#990099"/>
<rect x="503.30" y="219" width="3.10" height="1" fill="#990099"/>
<rect x="500" y="215.70" width="1" height="6.88" fill="#990099"/>
<rect x="504.60" y="219" width="3.90" height="1" fill="#990099"/>
<rect x="513.30" y="219" width="3.10" height="1" fill="#990099"/>
<rect x="510" y="215.70" width="1" height="6.88" fill="#990099"/>
<rect x="514.60" y="222" width="3.90" height="1" fill="#990099"/>
<rect x="523.30" y="222" width="3.10" height="1" fill="#990099"/>
<rect x="520" y="218.70" width="1" height="6.88" fill="#990099"/>
<rect x="524.60" y="222" width="3.90" height="1" fill="#990099"/>
<rect x="533.30" y="222" width="3.10" height="1" fill="#990099"/>
<rect x="530" y="218.70" width="1" height="6.88" fill="#990099"/>
<rect x="535.60" y="223" width="3.90" height="1" fill="#990099"/>
<rect x="544.30" y="223" width="3.10" height="1" fill="#990099"/>
<rect x="541" y="219.80" width="1" height="6.88" fill="#990099"/>
<rect x="545.60" y="228" width="3.90" height="1" fill="#990099"/>
<rect x="554.30" y="228" width="3.10" height="1" fill="#990099"/>
<rect x="551" y="224.70" width="1" height="6.88" fill="#990099"/>
<rect x="555.60" y="234" width="3.90" height="1" fill="#990099"/>
<rect x="564.30" y="234" width="3.10" height="1" fill="#990099"/>
<rect x="561" y="230.40" width="1" height="6.88" fill="#990099"/>
<rect x="565.60" y="234" width="3.90" height="1" fill="#990099"/>
<rect x="574.30" y="234" width="3.10" height="1" fill="#990099"/>
<rect x="571" y="230.80" width="1" height="6.88" fill="#990099"/>
<rect x="576.60" y="237" width="3.90" height="1" fill="#990099"/>
<rect x="585.30" y="237" width="3.10" height="1" fill="#990099"/>
<rect x="582" y="233.80" width="1" height="6.88" fill="#990099"/>
<rect x="586.60" y="242" width="3.90" height="1" fill="#990099"/>
<rect x="595.30" y="242" width="3.10" height="1" fill="#990099"/>
<rect x="592" y="238.80" width="1" height="6.88" fill="#990099"/>
<rect x="596.60" y="256" width="3.90" height="1" fill="#990099"/>
<rect x="605.30" y="256" width="3.10" height="1" fill="#990099"/>
<rect x="602" y="251.40" width="1" height="8.60" fill="#990099"/>
<rect x="606.60" y="255" width="3.90" height="1" fill="#990099"/>
<rect x="615.30" y="255" width="3.10" height="1" fill="#990099"/>
<rect x="612" y="251.10" width="1" height="8.60" fill="#990099"/>
<rect x="616.60" y="263" width="3.90" height="1" fill="#990099"/>
<rect x="625.30" y="263" width="3.10" height="1" fill="#990099"/>
<rect x="622" y="259.10" width="1" height="8.60" fill="#990099"/>
<rect x="627.60" y="279" width="3.90" height="1" fill="#990099"/>
<rect x="636.30" y="279" width="3.10" height="1" fill="#990099"/>
<rect x="633" y="274.70" width="1" height="8.60" fill="#990099"/>
<rect x="637.60" y="291" width="3.90" height="1" fill="#990099"/>
<rect x="646.30" y="291" width="3.10" height="1" fill="#990099"/>
<rect x="643" y="287.00" width="1" height="8.60" fill="#990099"/>
<rect x="647.60" y="303" width="3.90" height="1" fill="#990099"/>
<rect x="656.30" y="303" width="3.10" height="1" fill="#990099"/>
<rect x="653" y="298.90" width="1" height="8.60" fill="#990099"/>
<rect x="657.60" y="320" width="3.90" height="1" fill="#990099"/>
<rect x="666.30" y="320" width="3.10" height="1" fill="#990099"/>
<rect x="663" y="316.00" width="1" height="8.60" fill="#990099"/>
<rect x="668.60" y="323" width="3.90" height="1" fill="#990099"/>
<rect x="677.30" y="323" width="3.10" height="1" fill="#990099"/>
<rect x="674" y="318.50" width="1" height="8.60" fill="#990099"/>
<rect x="678.60" y="336" width="3.90" height="1" fill="#990099"/>
<rect x="687.30" y="336" width="3.10" height="1" fill="#990099"/>
<rect x="684" y="331.60" width="1" height="8.60" fill="#990099"/>
<rect x="688.60" y="358" width="3.90" height="1" fill="#990099"/>
<rect x="697.30" y="358" width="3.10" height="1" fill="#990099"/>
<rect x="694" y="352.90" width="1" height="10.75" fill="#990099"/>
<rect x="698.60" y="358" width="3.90" height="1" fill="#990099"/>
<rect x="707.30" y="358" width="3.10" height="1" fill="#990099"/>
<rect x="704" y="352.50" width="1" height="10.75" fill="#990099"/>
<rect x="708.60" y="360" width="3.90" height="1" fill="#990099"/>
<rect x="717.30" y="360" width="3.10" height="1" fill="#990099"/>
<rect x="714" y="355.00" width="1" height="10.75" fill="#990099"/>
<rect x="719.60" y="364" width="3.90" height="1" fill="#990099"/>
<rect x="728.30" y="364" width="3.10" height="1" fill="#990099"/>
<rect x="725" y="358.40" width="1" height="10.75" fill="#990099"/>
<rect x="729.60" y="374" width="3.90" height="1" fill="#990099"/>
<rect x="738.30" y="374" width="3.10" height="1" fill="#990099"/>
<rect x="735" y="368.30" width="1" height="10.75" fill="#990099"/>
<rect x="739.60" y="366" width="3.90" height="1" fill="#990099"/>
<rect x="748.30" y="366" width="3.10" height="1" fill="#990099"/>
<rect x="745" y="360.40" width="1" height="10.75" fill="#990099"/>
<rect x="749.60" y="368" width="3.90" height="1" fill="#990099"/>
<rect x="758.30" y="368" width="3.10" height="1" fill="#990099"/>
<rect x="755" y="362.50" width="1" height="10.75" fill="#990099"/>
<rect x="759.60" y="369" width="3.90" height="1" fill="#990099"/>
<rect x="768.30" y="369" width="3.10" height="1" fill="#990099"/>
<rect x="765" y="363.80" width="1" height="10.75" fill="#990099"/>
<rect x="770.60" y="371" width="3.90" height="1" fill="#990099"/>
<rect x="779.30" y="371" width="3.10" height="1" fill="#990099"/>
<rect x="776" y="365.60" width="1" height="10.75" fill="#990099"/>
<rect x="780.60" y="383" width="3.90" height="1" fill="#990099"/>
<rect x="789.30" y="383" width="3.10" height="1" fill="#990099"/>
<rect x="786" y="377.80" width="1" height="10.75" fill="#990099"/>
<rect x="790.60" y="378" width="3.90" height="1" fill="#990099"/>
<rect x="799.30" y="378" width="3.10" height="1" fill="#990099"/>
<rect x="796" y="372.90" width="1" height="10.75" fill="#990099"/>
<rect x="800.60" y="378" width="3.90" height="1" fill="#990099"/>
<rect x="809.30" y="378" width="3.10" height="1" fill="#990099"/>
<rect x="806" y="372.90" width="1" height="10.75" fill="#990099"/>
<rect x="811.60" y="384" width="3.90" height="1" fill="#990099"/>
<rect x="820.30" y="384" width="3.10" height="1" fill="#990099"/>
<rect x="817" y="378.30" width="1" height="10.75" fill="#990099"/>
<rect x="821.60" y="380" width="3.90" height="1" fill="#990099"/>
<rect x="830.30" y="380" width="3.10" height="1" fill="#990099"/>
<rect x="827" y="374.20" width="1" height="10.75" fill="#990099"/>
<rect x="831.60" y="371" width="3.90" height="1" fill="#990099"/>
<rect x="840.30" y="371" width="3.10" height="1" fill="#990099"/>
<rect x="837" y="366.10" width="1" height="10.75" fill="#990099"/>
<rect x="841.60" y="357" width="3.90" height="1" fill="#990099"/>
<rect x="850.30" y="357" width="3.10" height="1" fill="#990099"/>
<rect x="847" y="351.40" width="1" height="10.75" fill="#990099"/>
<rect x="851.60" y="373" width="3.90" height="1" fill="#990099"/>
<rect x="860.30" y="373" width="3.10" height="1" fill="#990099"/>
<rect x="857" y="367.70" width="1" height="10.75" fill="#990099"/>
<rect x="862.60" y="363" width="3.90" height="1" fill="#990099"/>
<rect x="871.30" y="363" width="3.10" height="1" fill="#990099"/>
<rect x="868" y="357.30" width="1" height="10.75" fill="#990099"/>
<rect x="872.60" y="352" width="3.90" height="1" fill="#990099"/>
<rect x="881.30" y="352" width="3.10" height="1" fill="#990099"/>
<rect x="878" y="346.50" width="1" height="10.75" fill="#990099"/>
<rect x="882.60" y="355" width="3.90" height="1" fill="#990099"/>
<rect x="891.30" y="355" width="3.10" height="1" fill="#990099"/>
<rect x="888" y="349.20" width="1" height="10.75" fill="#990099"/>
<rect x="892.60" y="346" width="3.90" height="1" fill="#990099"/>
<rect x="901.30" y="346" width="3.10" height="1" fill="#990099"/>
<rect x="898" y="340.60" width="1" height="10.75" fill="#990099"/>
<rect x="902.60" y="346" width="3.90" height="1" fill="#990099"/>
<rect x="911.30" y="346" width="3.10" height="1" fill="#990099"/>
<rect x="908" y="340.60" width="1" height="10.75" fill="#990099"/>
<rect x="913.60" y="339" width="3.90" height="1" fill="#990099"/>
<rect x="922.30" y="339" width="3.10" height="1" fill="#990099"/>
<rect x="919" y="333.40" width="1" height="10.75" fill="#990099"/>
<rect x="923.60" y="322" width="3.90" height="1" fill="#990099"/>
<rect x="932.30" y="322" width="3.10" height="1" fill="#990099"/>
<rect x="929" y="317.00" width="1" height="10.75" fill="#990099"/>
<rect x="933.60" y="326" width="3.90" height="1" fill="#990099"/>
<rect x="942.30" y="326" width="3.10" height="1" fill="#990099"/>
<rect x="939" y="320.90" width="1" height="10.75" fill="#990099"/>
<rect x="943.60" y="317" width="3.90" height="1" fill="#990099"/>
<rect x="952.30" y="317" width="3.10" height="1" fill="#990099"/>
<rect x="949" y="312.00" width="1" height="10.75" fill="#990099"/>
<rect x="954.60" y="297" width="3.90" height="1" fill="#990099"/>
<rect x="963.30" y="297" width="3.10" height="1" fill="#990099"/>
<rect x="960" y="292.00" width="1" height="10.75" fill="#990099"/>
<rect x="964.60" y="284" width="3.90" height="1" fill="#990099"/>
<rect x="973.30" y="284" width="3.10" height="1" fill="#990099"/>
<rect x="970" y="278.70" width="1" height="10.75" fill="#990099"/>
<rect x="974.60" y="273" width="3.90" height="1" fill="#990099"/>
<rect x="983.30" y="273" width="3.10" height="1" fill="#990099"/>
<rect x="980" y="267.80" width="1" height="10.75" fill="#990099"/>
<rect x="984.60" y="241" width="3.90" height="1" fill="#990099"/>
<rect x="993.30" y="241" width="3.10" height="1" fill="#990099"/>
<rect x="990" y="235.80" width="1" height="10.75" fill="#990099"/>
<rect x="994.60" y="264" width="3.90" height="1" fill="#990099"/>
<rect x="1003.30" y="264" width="3.10" height="1" fill="#990099"/>
<rect x="1000" y="258.80" width="1" height="10.75" fill="#990099"/>
<rect x="1005.60" y="265" width="3.90" height="1" fill="#990099"/>
<rect x="1014.30" y="265" width="3.10" height="1" fill="#990099"/>
<rect x="1011" y="259.70" width="1" height="10.75" fill="#990099"/>
<rect x="1015.60" y="277" width="3.90" height="1" fill="#990099"/>
<rect x="1024.30" y="277" width="3.10" height="1" fill="#990099"/>
<rect x="1021" y="271.90" width="1" height="10.75" fill="#990099"/>
<rect x="1025.60" y="290" width="3.90" height="1" fill="#990099"/>
<rect x="1034.30" y="290" width="3.10" height="1" fill="#990099"/>
<rect x="1031" y="284.50" width="1" height="11.82" fill="#990099"/>
<rect x="1035.60" y="299" width="3.90" height="1" fill="#990099"/>
<rect x="1044.30" y="299" width="3.10" height="1" fill="#990099"/>
<rect x="1041" y="292.70" width="1" height="11.82" fill="#990099"/>
<rect x="1045.60" y="317" width="3.90" height="1" fill="#990099"/>
<rect x="1054.30" y="317" width="3.10" height="1" fill="#990099"/>
<rect x="1051" y="310.80" width="1" height="11.82" fill="#990099"/>
<rect x="1056.60" y="331" width="3.90" height="1" fill="#990099"/>
<rect x="1065.30" y="331" width="3.10" height="1" fill="#990099"/>
<rect x="1062" y="325.20" width="1" height="11.82" fill="#990099"/>
<rect x="1066.60" y="370" width="3.90" height="1" fill="#990099"/>
<rect x="1075.30" y="370" width="3.10" height="1" fill="#990099"/>
<rect x="1072" y="363.80" width="1" height="11.82" fill="#990099"/>
<rect x="1076.60" y="355" width="3.90" height="1" fill="#990099"/>
<rect x="1085.30" y="355" width="3.10" height="1" fill="#990099"/>
<rect x="1082" y="349.30" width="1" height="11.82" fill="#990099"/>
<rect x="1086.60" y="352" width="3.90" height="1" fill="#990099"/>
<rect x="1095.30" y="352" width="3.10" height="1" fill="#990099"/>
<rect x="1092" y="346.20" width="1" height="11.82" fill="#990099"/>
<rect x="1097.60" y="350" width="3.90" height="1" fill="#990099"/>
<rect x="1106.30" y="350" width="3.10" height="1" fill="#990099"/>
<rect x="1103" y="343.70" width="1" height="11.82" fill="#990099"/>
<rect x="1107.60" y="390" width="3.90" height="1" fill="#990099"/>
<rect x="1116.30" y="390" width="3.10" height="1" fill="#990099"/>
<rect x="1113" y="383.80" width="1" height="11.82" fill="#990099"/>
<rect x="1117.60" y="425" width="3.90" height="1" fill="#990099"/>
<rect x="1126.30" y="425" width="3.10" height="1" fill="#990099"/>
<rect x="1123" y="418.70" width="1" height="11.82" fill="#990099"/>
<rect x="1127.60" y="456" width="3.90" height="1" fill="#990099"/>
<rect x="1136.30" y="456" width="3.10" height="1" fill="#990099"/>
<rect x="1133" y="450.50" width="1" height="11.82" fill="#990099"/>
<rect x="1137.60" y="397" width="3.90" height="1" fill="#990099"/>
<rect x="1146.30" y="397" width="3.10" height="1" fill="#990099"/>
<rect x="1143" y="391.60" width="1" height="11.82" fill="#990099"/>
<rect x="128.00" y="641.60" width="6" height="6" fill="#990099"/>
<rect x="138.00" y="642.60" width="6" height="6" fill="#990099"/>
<rect x="149.00" y="630.80" width="6" height="6" fill="#990099"/>
<rect x="159.00" y="544.00" width="6" height="6" fill="#990099"/>
<rect x="169.00" y="526.40" width="6" height="6" fill="#990099"/>
<rect x="179.00" y="453.10" width="6" height="6" fill="#990099"/>
<rect x="189.00" y="391.80" width="6" height="6" fill="#990099"/>
<rect x="200.00" y="345.50" width="6" height="6" fill="#990099"/>
<rect x="210.00" y="286.20" width="6" height="6" fill="#990099"/>
<rect x="220.00" y="254.80" width="6" height="6" fill="#990099"/>
<rect x="230.00" y="255.40" width="6" height="6" fill="#990099"/>
<rect x="240.00" y="262.00" width="6" height="6" fill="#990099"/>
<rect x="251.00" y="263.30" width="6" height="6" fill="#990099"/>
<rect x="261.00" y="251.80" width="6" height="6" fill="#990099"/>
<rect x="271.00" y="232.10" width="6" height="6" fill="#990099"/>
<rect x="281.00" y="203.80" width="6" height="6" fill="#990099"/>
<rect x="292.00" y="179.20" width="6" height="6" fill="#990099"/>
<rect x="302.00" y="168.30" width="6" height="6" fill="#990099"/>
<rect x="312.00" y="167.10" width="6" height="6" fill="#990099"/>
<rect x="322.00" y="172.50" width="6" height="6" fill="#990099"/>
<rect x="332.00" y="180.60" width="6" height="6" fill="#990099"/>
<rect x="343.00" y="186.70" width="6" height="6" fill="#990099"/>
<rect x="353.00" y="191.80" width="6" height="6" fill="#990099"/>
<rect x="363.00" y="197.00" width="6" height="6" fill="#990099"/>
<rect x="373.00" y="205.80" width="6" height="6" fill="#990099"/>
<rect x="383.00" y="204.00" width="6" height="6" fill="#990099"/>
<rect x="394.00" y="207.60" width="6" height="6" fill="#990099"/>
<rect x="404.00" y="211.50" width="6" height="6" fill="#990099"/>
<rect x="414.00" y="210.60" width="6" height="6" fill="#990099"/>
<rect x="424.00" y="211.90" width="6" height="6" fill="#990099"/>
<rect x="435.00" y="211.90" width="6" height="6" fill="#990099"/>
<rect x="445.00" y="212.00" width="6" height="6" fill="#990099"/>
<rect x="455.00" y="215.90" width="6" height="6" fill="#990099"/>
<rect x="465.00" y="216.70" width="6" height="6" fill="#990099"/>
<rect x="475.00" y="215.90" width="6" height="6" fill="#990099"/>
<rect x="486.00" y="213.70" width="6" height="6" fill="#990099"/>
<rect x="496.00" y="215.90" width="6" height="6" fill="#990099"/>
<rect x="506.00" y="215.90" width="6" height="6" fill="#990099"/>
<rect x="516.00" y="218.90" width="6" height="6" fill="#990099"/>
<rect x="526.00" y="218.90" width="6" height="6" fill="#990099"/>
<rect x="537.00" y="220.00" width="6" height="6" fill="#990099"/>
<rect x="547.00" y="224.90" width="6" height="6" fill="#990099"/>
<rect x="557.00" y="230.60" width="6" height="6" fill="#990099"/>
<rect x="567.00" y="231.00" width="6" height="6" fill="#990099"/>
<rect x="578.00" y="234.00" width="6" height="6" fill="#990099"/>
<rect x="588.00" y="239.00" width="6" height="6" fill="#990099"/>
<rect x="598.00" y="252.40" width="6" height="6" fill="#990099"/>
<rect x="608.00" y="252.10" width="6" height="6" fill="#990099"/>
<rect x="618.00" y="260.10" width="6" height="6" fill="#990099"/>
<rect x="629.00" y="275.70" width="6" height="6" fill="#990099"/>
<rect x="639.00" y="288.00" width="6" height="6" fill="#990099"/>
<rect x="649.00" y="299.90" width="6" height="6" fill="#990099"/>
<rect x="659.00" y="317.00" width="6" height="6" fill="#990099"/>
<rect x="670.00" y="319.50" width="6" height="6" fill="#990099"/>
<rect x="680.00" y="332.60" width="6" height="6" fill="#990099"/>
<rect x="690.00" y="354.90" width="6" height="6" fill="#990099"/>
<rect x="700.00" y="354.50" width="6" height="6" fill="#990099"/>
<rect x="710.00" y="357.00" width="6" height="6" fill="#990099"/>
<rect x="721.00" y="360.40" width="6" height="6" fill="#990099"/>
<rect x="731.00" y="370.30" width="6" height="6" fill="#990099"/>
<rect x="741.00" y="362.40" width="6" height="6" fill="#990099"/>
<rect x="751.00" y="364.50" width="6" height="6" fill="#990099"/>
<rect x="761.00" y="365.80" width="6" height="6" fill="#990099"/>
<rect x="772.00" y="367.60" width="6" height="6" fill="#990099"/>
<rect x="782.00" y="379.80" width="6" height="6" fill="#990099"/>
<rect x="792.00" y="374.90" width="6" height="6" fill="#990099"/>
<rect x="802.00" y="374.90" width="6" height="6" fill="#990099"/>
<rect x="813.00" y="380.30" width="6" height="6" fill="#990099"/>
<rect x="823.00" y="376.20" width="6" height="6" fill="#990099"/>
<rect x="833.00" y="368.10" width="6" height="6" fill="#990099"/>
<rect x="843.00" y="353.40" width="6" height="6" fill="#990099"/>
<rect x="853.00" y="369.70" width="6" height="6" fill="#990099"/>
<rect x="864.00" y="359.30" width="6" height="6" fill="#990099"/>
<rect x="874.00" y="348.50" width="6" height="6" fill="#990099"/>
<rect x="884.00" y="351.20" width="6" height="6" fill="#990099"/>
<rect x="894.00" y="342.60" width="6" height="6" fill="#990099"/>
<rect x="904.00" y="342.60" width="6" height="6" fill="#990099"/>
<rect x="915.00" y="335.40" width="6" height="6" fill="#990099"/>
<rect x="925.00" y="319.00" width="6" height="6" fill="#990099"/>
<rect x="935.00" y="322.90" width="6" height="6" fill="#990099"/>
<rect x="945.00" y="314.00" width="6" height="6" fill="#990099"/>
<rect x="956.00" y="294.00" width="6" height="6" fill="#990099"/>
<rect x="966.00" y="280.70" width="6" height="6" fill="#990099"/>
<rect x="976.00" y="269.80" width="6" height="6" fill="#990099"/>
<rect x="986.00" y="237.80" width="6" height="6" fill="#990099"/>
<rect x="996.00" y="260.80" width="6" height="6" fill="#990099"/>
<rect x="1007.00" y="261.70" width="6" height="6" fill="#990099"/>
<rect x="1017.00" y="273.90" width="6" height="6" fill="#990099"/>
<rect x="1027.00" y="287.00" width="6" height="6" fill="#990099"/>
<rect x="1037.00" y="295.20" width="6" height="6" fill="#990099"/>
<rect x="1047.00" y="313.30" width="6" height="6" fill="#990099"/>
<rect x="1058.00" y="327.70" width="6" height="6" fill="#990099"/>
<rect x="1068.00" y="366.30" width="6" height="6" fill="#990099"/>
<rect x="1078.00" y="351.80" width="6" height="6" fill="#990099"/>
<rect x="1088.00" y="348.70" width="6" height="6" fill="#990099"/>
<rect x="1099.00" y="346.20" width="6" height="6" fill="#990099"/>
<rect x="1109.00" y="386.30" width="6" height="6" fill="#990099"/>
<rect x="1119.00" y="421.20" width="6" height="6" fill="#990099"/>
<rect x="1129.00" y="453.00" width="6" height="6" fill="#990099"/>
<rect x="1139.00" y="394.10" width="6" height="6" fill="#990099"/>
<rect x="126.60" y="677" width="3.90" height="1" fill="#0000ff"/>
<rect x="135.30" y="677" width="3.10" height="1" fill="#0000ff"/>
<rect x="132" y="640.00" width="1" height="106.50" fill="#0000ff"/>
<rect x="136.60" y="654" width="3.90" height="1" fill="#0000ff"/>
<rect x="145.30" y="654" width="3.10" height="1" fill="#0000ff"/>
<rect x="142" y="620.00" width="1" height="89.40" fill="#0000ff"/>
<rect x="147.60" y="582" width="3.90" height="1" fill="#0000ff"/>
<rect x="156.30" y="582" width="3.10" height="1" fill="#0000ff"/>
<rect x="153" y="560.00" width="1" height="53.00" fill="#0000ff"/>
<rect x="157.60" y="540" width="3.90" height="1" fill="#0000ff"/>
<rect x="166.30" y="540" width="3.10" height="1" fill="#0000ff"/>
<rect x="163" y="522.00" width="1" height="41.00" fill="#0000ff"/>
<rect x="167.60" y="480" width="3.90" height="1" fill="#0000ff"/>
<rect x="176.30" y="480" width="3.10" height="1" fill="#0000ff"/>
<rect x="173" y="470.00" width="1" height="21.00" fill="#0000ff"/>
<rect x="177.60" y="413" width="3.90" height="1" fill="#0000ff"/>
<rect x="186.30" y="413" width="3.10" height="1" fill="#0000ff"/>
<rect x="183" y="405.00" width="1" height="17.40" fill="#0000ff"/>
<rect x="187.60" y="363" width="3.90" height="1" fill="#0000ff"/>
<rect x="196.30" y="363" width="3.10" height="1" fill="#0000ff"/>
<rect x="193" y="360.10" width="1" height="6.88" fill="#0000ff"/>
<rect x="198.60" y="326" width="3.90" height="1" fill="#0000ff"/>
<rect x="207.30" y="326" width="3.10" height="1" fill="#0000ff"/>
<rect x="204" y="323.30" width="1" height="6.88" fill="#0000ff"/>
<rect x="208.60" y="264" width="3.90" height="1" fill="#0000ff"/>
<rect x="217.30" y="264" width="3.10" height="1" fill="#0000ff"/>
<rect x="214" y="261.30" width="1" height="6.88" fill="#0000ff"/>
<rect x="218.60" y="252" width="3.90" height="1" fill="#0000ff"/>
<rect x="227.30" y="252" width="3.10" height="1" fill="#0000ff"/>
<rect x="224" y="249.20" width="1" height="6.88" fill="#0000ff"/>
<rect x="228.60" y="262" width="3.90" height="1" fill="#0000ff"/>
<rect x="237.30" y="262" width="3.10" height="1" fill="#0000ff"/>
<rect x="234" y="258.80" width="1" height="6.88" fill="#0000ff"/>
<rect x="238.60" y="274" width="3.90" height="1" fill="#0000ff"/>
<rect x="247.30" y="274" width="3.10" height="1" fill="#0000ff"/>
<rect x="244" y="271.30" width="1" height="6.88" fill="#0000ff"/>
<rect x="249.60" y="263" width="3.90" height="1" fill="#0000ff"/>
<rect x="258.30" y="263" width="3.10" height="1" fill="#0000ff"/>
<rect x="255" y="260.10" width="1" height="6.88" fill="#0000ff"/>
<rect x="259.60" y="252" width="3.90" height="1" fill="#0000ff"/>
<rect x="268.30" y="252" width="3.10" height="1" fill="#0000ff"/>
<rect x="265" y="249.20" width="1" height="6.88" fill="#0000ff"/>
<rect x="269.60" y="229" width="3.90" height="1" fill="#0000ff"/>
<rect x="278.30" y="229" width="3.10" height="1" fill="#0000ff"/>
<rect x="275" y="226.10" width="1" height="6.88" fill="#0000ff"/>
<rect x="279.60" y="207" width="3.90" height="1" fill="#0000ff"/>
<rect x="288.30" y="207" width="3.10" height="1" fill="#0000ff"/>
<rect x="285" y="204.30" width="1" height="6.88" fill="#0000ff"/>
<rect x="290.60" y="185" width="3.90" height="1" fill="#0000ff"/>
<rect x="299.30" y="185" width="3.10" height="1" fill="#0000ff"/>
<rect x="296" y="182.00" width="1" height="6.88" fill="#0000ff"/>
<rect x="300.60" y="173" width="3.90" height="1" fill="#0000ff"/>
<rect x="309.30" y="173" width="3.10" height="1" fill="#0000ff"/>
<rect x="306" y="169.90" width="1" height="6.88" fill="#0000ff"/>
<rect x="310.60" y="175" width="3.90" height="1" fill="#0000ff"/>
<rect x="319.30" y="175" width="3.10" height="1" fill="#0000ff"/>
<rect x="316" y="172.30" width="1" height="6.88" fill="#0000ff"/>
<rect x="320.60" y="176" width="3.90" height="1" fill="#0000ff"/>
<rect x="329.30" y="176" width="3.10" height="1" fill="#0000ff"/>
<rect x="326" y="172.90" width="1" height="6.88" fill="#0000ff"/>
<rect x="330.60" y="186" width="3.90" height="1" fill="#0000ff"/>
<rect x="339.30" y="186" width="3.10" height="1" fill="#0000ff"/>
<rect x="336" y="183.10" width="1" height="6.88" fill="#0000ff"/>
<rect x="341.60" y="192" width="3.90" height="1" fill="#0000ff"/>
<rect x="350.30" y="192" width="3.10" height="1" fill="#0000ff"/>
<rect x="347" y="189.10" width="1" height="6.88" fill="#0000ff"/>
<rect x="351.60" y="198" width="3.90" height="1" fill="#0000ff"/>
<rect x="360.30" y="198" width="3.10" height="1" fill="#0000ff"/>
<rect x="357" y="195.10" width="1" height="6.88" fill="#0000ff"/>
<rect x="361.60" y="202" width="3.90" height="1" fill="#0000ff"/>
<rect x="370.30" y="202" width="3.10" height="1" fill="#0000ff"/>
<rect x="367" y="199.20" width="1" height="6.88" fill="#0000ff"/>
<rect x="371.60" y="215" width="3.90" height="1" fill="#0000ff"/>
<rect x="380.30" y="215" width="3.10" height="1" fill="#0000ff"/>
<rect x="377" y="212.10" width="1" height="6.88" fill="#0000ff"/>
<rect x="381.60" y="219" width="3.90" height="1" fill="#0000ff"/>
<rect x="390.30" y="219" width="3.10" height="1" fill="#0000ff"/>
<rect x="387" y="216.00" width="1" height="6.88" fill="#0000ff"/>
<rect x="392.60" y="222" width="3.90" height="1" fill="#0000ff"/>
<rect x="401.30" y="222" width="3.10" height="1" fill="#0000ff"/>
<rect x="398" y="219.00" width="1" height="6.88" fill="#0000ff"/>
<rect x="402.60" y="225" width="3.90" height="1" fill="#0000ff"/>
<rect x="411.30" y="225" width="3.10" height="1" fill="#0000ff"/>
<rect x="408" y="222.10" width="1" height="6.88" fill="#0000ff"/>
<rect x="412.60" y="230" width="3.90" height="1" fill="#0000ff"/>
<rect x="421.30" y="230" width="3.10" height="1" fill="#0000ff"/>
<rect x="418" y="227.20" width="1" height="6.88" fill="#0000ff"/>
<rect x="422.60" y="238" width="3.90" height="1" fill="#0000ff"/>
<rect x="431.30" y="238" width="3.10" height="1" fill="#0000ff"/>
<rect x="428" y="235.40" width="1" height="6.88" fill="#0000ff"/>
<rect x="433.60" y="235" width="3.90" height="1" fill="#0000ff"/>
<rect x="442.30" y="235" width="3.10" height="1" fill="#0000ff"/>
<rect x="439" y="232.00" width="1" height="6.88" fill="#0000ff"/>
<rect x="443.60" y="236" width="3.90" height="1" fill="#0000ff"/>
<rect x="452.30" y="236" width="3.10" height="1" fill="#0000ff"/>
<rect x="449" y="233.40" width="1" height="6.88" fill="#0000ff"/>
<rect x="453.60" y="234" width="3.90" height="1" fill="#0000ff"/>
<rect x="462.30" y="234" width="3.10" height="1" fill="#0000ff"/>
<rect x="459" y="231.20" width="1" height="6.88" fill="#0000ff"/>
<rect x="463.60" y="236" width="3.90" height="1" fill="#0000ff"/>
<rect x="472.30" y="236" width="3.10" height="1" fill="#0000ff"/>
<rect x="469" y="233.40" width="1" height="6.88" fill="#0000ff"/>
<rect x="473.60" y="242" width="3.90" height="1" fill="#0000ff"/>
<rect x="482.30" y="242" width="3.10" height="1" fill="#0000ff"/>
<rect x="479" y="239.40" width="1" height="6.88" fill="#0000ff"/>
<rect x="484.60" y="235" width="3.90" height="1" fill="#0000ff"/>
<rect x="493.30" y="235" width="3.10" height="1" fill="#0000ff"/>
<rect x="490" y="232.10" width="1" height="6.88" fill="#0000ff"/>
<rect x="494.60" y="237" width="3.90" height="1" fill="#0000ff"/>
<rect x="503.30" y="237" width="3.10" height="1" fill="#0000ff"/>
<rect x="500" y="234.20" width="1" height="6.88" fill="#0000ff"/>
<rect x="504.60" y="242" width="3.90" height="1" fill="#0000ff"/>
<rect x="513.30" y="242" width="3.10" height="1" fill="#0000ff"/>
<rect x="510" y="239.00" width="1" height="6.88" fill="#0000ff"/>
<rect x="514.60" y="239" width="3.90" height="1" fill="#0000ff"/>
<rect x="523.30" y="239" width="3.10" height="1" fill="#0000ff"/>
<rect x="520" y="236.40" width="1" height="6.88" fill="#0000ff"/>
<rect x="524.60" y="238" width="3.90" height="1" fill="#0000ff"/>
<rect x="533.30" y="238" width="3.10" height="1" fill="#0000ff"/>
<rect x="530" y="235.10" width="1" height="6.88" fill="#0000ff"/>
<rect x="535.60" y="238" width="3.90" height="1" fill="#0000ff"/>
<rect x="544.30" y="238" width="3.10" height="1" fill="#0000ff"/>
<rect x="541" y="235.10" width="1" height="6.88" fill="#0000ff"/>
<rect x="545.60" y="241" width="3.90" height="1" fill="#0000ff"/>
<rect x="554.30" y="241" width="3.10" height="1" fill="#0000ff"/>
<rect x="551" y="238.10" width="1" height="6.88" fill="#0000ff"/>
<rect x="555.60" y="241" width="3.90" height="1" fill="#0000ff"/>
<rect x="564.30" y="241" width="3.10" height="1" fill="#0000ff"/>
<rect x="561" y="238.30" width="1" height="6.88" fill="#0000ff"/>
<rect x="565.60" y="251" width="3.90" height="1" fill="#0000ff"/>
<rect x="574.30" y="251" width="3.10" height="1" fill="#0000ff"/>
<rect x="571" y="248.10" width="1" height="6.88" fill="#0000ff"/>
<rect x="576.60" y="255" width="3.90" height="1" fill="#0000ff"/>
<rect x="585.30" y="255" width="3.10" height="1" fill="#0000ff"/>
<rect x="582" y="252.00" width="1" height="6.88" fill="#0000ff"/>
<rect x="586.60" y="256" width="3.90" height="1" fill="#0000ff"/>
<rect x="595.30" y="256" width="3.10" height="1" fill="#0000ff"/>
<rect x="592" y="253.00" width="1" height="6.88" fill="#0000ff"/>
<rect x="596.60" y="260" width="3.90" height="1" fill="#0000ff"/>
<rect x="605.30" y="260" width="3.10" height="1" fill="#0000ff"/>
<rect x="602" y="256.60" width="1" height="8.60" fill="#0000ff"/>
<rect x="606.60" y="261" width="3.90" height="1" fill="#0000ff"/>
<rect x="615.30" y="261" width="3.10" height="1" fill="#0000ff"/>
<rect x="612" y="257.40" width="1" height="8.60" fill="#0000ff"/>
<rect x="616.60" y="274" width="3.90" height="1" fill="#0000ff"/>
<rect x="625.30" y="274" width="3.10" height="1" fill="#0000ff"/>
<rect x="622" y="270.00" width="1" height="8.60" fill="#0000ff"/>
<rect x="627.60" y="284" width="3.90" height="1" fill="#0000ff"/>
<rect x="636.30" y="284" width="3.10" height="1" fill="#0000ff"/>
<rect x="633" y="280.20" width="1" height="8.60" fill="#0000ff"/>
<rect x="637.60" y="295" width="3.90" height="1" fill="#0000ff"/>
<rect x="646.30" y="295" width="3.10" height="1" fill="#0000ff"/>
<rect x="643" y="291.20" width="1" height="8.60" fill="#0000ff"/>
<rect x="647.60" y="314" width="3.90" height="1" fill="#0000ff"/>
<rect x="656.30" y="314" width="3.10" height="1" fill="#0000ff"/>
<rect x="653" y="310.20" width="1" height="8.60" fill="#0000ff"/>
<rect x="657.60" y="314" width="3.90" height="1" fill="#0000ff"/>
<rect x="666.30" y="314" width="3.10" height="1" fill="#0000ff"/>
<rect x="663" y="310.20" width="1" height="8.60" fill="#0000ff"/>
<rect x="668.60" y="336" width="3.90" height="1" fill="#0000ff"/>
<rect x="677.30" y="336" width="3.10" height="1" fill="#0000ff"/>
<rect x="674" y="332.30" width="1" height="8.60" fill="#0000ff"/>
<rect x="678.60" y="342" width="3.90" height="1" fill="#0000ff"/>
<rect x="687.30" y="342" width="3.10" height="1" fill="#0000ff"/>
<rect x="684" y="338.00" width="1" height="8.60" fill="#0000ff"/>
<rect x="688.60" y="360" width="3.90" height="1" fill="#0000ff"/>
<rect x="697.30" y="360" width="3.10" height="1" fill="#0000ff"/>
<rect x="694" y="355.20" width="1" height="10.75" fill="#0000ff"/>
<rect x="698.60" y="361" width="3.90" height="1" fill="#0000ff"/>
<rect x="707.30" y="361" width="3.10" height="1" fill="#0000ff"/>
<rect x="704" y="356.60" width="1" height="10.75" fill="#0000ff"/>
<rect x="708.60" y="360" width="3.90" height="1" fill="#0000ff"/>
<rect x="717.30" y="360" width="3.10" height="1" fill="#0000ff"/>
<rect x="714" y="355.60" width="1" height="10.75" fill="#0000ff"/>
<rect x="719.60" y="362" width="3.90" height="1" fill="#0000ff"/>
<rect x="728.30" y="362" width="3.10" height="1" fill="#0000ff"/>
<rect x="725" y="357.50" width="1" height="10.75" fill="#0000ff"/>
<rect x="729.60" y="376" width="3.90" height="1" fill="#0000ff"/>
<rect x="738.30" y="376" width="3.10" height="1" fill="#0000ff"/>
<rect x="735" y="371.90" width="1" height="10.75" fill="#0000ff"/>
<rect x="739.60" y="375" width="3.90" height="1" fill="#0000ff"/>
<rect x="748.30" y="375" width="3.10" height="1" fill="#0000ff"/>
<rect x="745" y="370.40" width="1" height="10.75" fill="#0000ff"/>
<rect x="749.60" y="374" width="3.90" height="1" fill="#0000ff"/>
<rect x="758.30" y="374" width="3.10" height="1" fill="#0000ff"/>
<rect x="755" y="369.30" width="1" height="10.75" fill="#0000ff"/>
<rect x="759.60" y="381" width="3.90" height="1" fill="#0000ff"/>
<rect x="768.30" y="381" width="3.10" height="1" fill="#0000ff"/>
<rect x="765" y="376.50" width="1" height="10.75" fill="#0000ff"/>
<rect x="770.60" y="376" width="3.90" height="1" fill="#0000ff"/>
<rect x="779.30" y="376" width="3.10" height="1" fill="#0000ff"/>
<rect x="776" y="371.10" width="1" height="10.75" fill="#0000ff"/>
<rect x="780.60" y="365" width="3.90" height="1" fill="#0000ff"/>
<rect x="789.30" y="365" width="3.10" height="1" fill="#0000ff"/>
<rect x="786" y="360.30" width="1" height="10.75" fill="#0000ff"/>
<rect x="790.60" y="372" width="3.90" height="1" fill="#0000ff"/>
<rect x="799.30" y="372" width="3.10" height="1" fill="#0000ff"/>
<rect x="796" y="367.00" width="1" height="10.75" fill="#0000ff"/>
<rect x="800.60" y="381" width="3.90" height="1" fill="#0000ff"/>
<rect x="809.30" y="381" width="3.10" height="1" fill="#0000ff"/>
<rect x="806" y="376.50" width="1" height="10.75" fill="#0000ff"/>
<rect x="811.60" y="373" width="3.90" height="1" fill="#0000ff"/>
<rect x="820.30" y="373" width="3.10" height="1" fill="#0000ff"/>
<rect x="817" y="368.40" width="1" height="10.75" fill="#0000ff"/>
<rect x="821.60" y="370" width="3.90" height="1" fill="#0000ff"/>
<rect x="830.30" y="370" width="3.10" height="1" fill="#0000ff"/>
<rect x="827" y="365.60" width="1" height="10.75" fill="#0000ff"/>
<rect x="831.60" y="366" width="3.90" height="1" fill="#0000ff"/>
<rect x="840.30" y="366" width="3.10" height="1" fill="#0000ff"/>
<rect x="837" y="361.50" width="1" height="10.75" fill="#0000ff"/>
<rect x="841.60" y="359" width="3.90" height="1" fill="#0000ff"/>
<rect x="850.30" y="359" width="3.10" height="1" fill="#0000ff"/>
<rect x="847" y="354.10" width="1" height="10.75" fill="#0000ff"/>
<rect x="851.60" y="357" width="3.90" height="1" fill="#0000ff"/>
<rect x="860.30" y="357" width="3.10" height="1" fill="#0000ff"/>
<rect x="857" y="352.40" width="1" height="10.75" fill="#0000ff"/>
<rect x="862.60" y="359" width="3.90" height="1" fill="#0000ff"/>
<rect x="871.30" y="359" width="3.10" height="1" fill="#0000ff"/>
<rect x="868" y="354.20" width="1" height="10.75" fill="#0000ff"/>
<rect x="872.60" y="359" width="3.90" height="1" fill="#0000ff"/>
<rect x="881.30" y="359" width="3.10" height="1" fill="#0000ff"/>
<rect x="878" y="354.20" width="1" height="10.75" fill="#0000ff"/>
<rect x="882.60" y="349" width="3.90" height="1" fill="#0000ff"/>
<rect x="891.30" y="349" width="3.10" height="1" fill="#0000ff"/>
<rect x="888" y="344.20" width="1" height="10.75" fill="#0000ff"/>
<rect x="892.60" y="336" width="3.90" height="1" fill="#0000ff"/>
<rect x="901.30" y="336" width="3.10" height="1" fill="#0000ff"/>
<rect x="898" y="331.60" width="1" height="10.75" fill="#0000ff"/>
<rect x="902.60" y="330" width="3.90" height="1" fill="#0000ff"/>
<rect x="911.30" y="330" width="3.10" height="1" fill="#0000ff"/>
<rect x="908" y="325.30" width="1" height="10.75" fill="#0000ff"/>
<rect x="913.60" y="319" width="3.90" height="1" fill="#0000ff"/>
<rect x="922.30" y="319" width="3.10" height="1" fill="#0000ff"/>
<rect x="919" y="314.40" width="1" height="10.75" fill="#0000ff"/>
<rect x="923.60" y="317" width="3.90" height="1" fill="#0000ff"/>
<rect x="932.30" y="317" width="3.10" height="1" fill="#0000ff"/>
<rect x="929" y="312.60" width="1" height="10.75" fill="#0000ff"/>
<rect x="933.60" y="318" width="3.90" height="1" fill="#0000ff"/>
<rect x="942.30" y="318" width="3.10" height="1" fill="#0000ff"/>
<rect x="939" y="313.20" width="1" height="10.75" fill="#0000ff"/>
<rect x="943.60" y="295" width="3.90" height="1" fill="#0000ff"/>
<rect x="952.30" y="295" width="3.10" height="1" fill="#0000ff"/>
<rect x="949" y="290.20" width="1" height="10.75" fill="#0000ff"/>
<rect x="954.60" y="288" width="3.90" height="1" fill="#0000ff"/>
<rect x="963.30" y="288" width="3.10" height="1" fill="#0000ff"/>
<rect x="960" y="283.40" width="1" height="10.75" fill="#0000ff"/>
<rect x="964.60" y="271" width="3.90" height="1" fill="#0000ff"/>
<rect x="973.30" y="271" width="3.10" height="1" fill="#0000ff"/>
<rect x="970" y="266.30" width="1" height="10.75" fill="#0000ff"/>
<rect x="974.60" y="251" width="3.90" height="1" fill="#0000ff"/>
<rect x="983.30" y="251" width="3.10" height="1" fill="#0000ff"/>
<rect x="980" y="246.40" width="1" height="10.75" fill="#0000ff"/>
<rect x="984.60" y="226" width="3.90" height="1" fill="#0000ff"/>
<rect x="993.30" y="226" width="3.10" height="1" fill="#0000ff"/>
<rect x="990" y="221.30" width="1" height="10.75" fill="#0000ff"/>
<rect x="994.60" y="236" width="3.90" height="1" fill="#0000ff"/>
<rect x="1003.30" y="236" width="3.10" height="1" fill="#0000ff"/>
<rect x="1000" y="231.30" width="1" height="10.75" fill="#0000ff"/>
<rect x="1005.60" y="240" width="3.90" height="1" fill="#0000ff"/>
<rect x="1014.30" y="240" width="3.10" height="1" fill="#0000ff"/>
<rect x="1011" y="235.30" width="1" height="10.75" fill="#0000ff"/>
<rect x="1015.60" y="242" width="3.90" height="1" fill="#0000ff"/>
<rect x="1024.30" y="242" width="3.10" height="1" fill="#0000ff"/>
<rect x="1021" y="237.10" width="1" height="10.75" fill="#0000ff"/>
<rect x="1025.60" y="251" width="3.90" height="1" fill="#0000ff"/>
<rect x="1034.30" y="251" width="3.10" height="1" fill="#0000ff"/>
<rect x="1031" y="245.80" width="1" height="11.82" fill="#0000ff"/>
<rect x="1035.60" y="259" width="3.90" height="1" fill="#0000ff"/>
<rect x="1044.30" y="259" width="3.10" height="1" fill="#0000ff"/>
<rect x="1041" y="253.90" width="1" height="11.82" fill="#0000ff"/>
<rect x="1045.60" y="270" width="3.90" height="1" fill="#0000ff"/>
<rect x="1054.30" y="270" width="3.10" height="1" fill="#0000ff"/>
<rect x="1051" y="264.90" width="1" height="11.82" fill="#0000ff"/>
<rect x="1056.60" y="283" width="3.90" height="1" fill="#0000ff"/>
<rect x="1065.30" y="283" width="3.10" height="1" fill="#0000ff"/>
<rect x="1062" y="277.90" width="1" height="11.82" fill="#0000ff"/>
<rect x="1066.60" y="321" width="3.90" height="1" fill="#0000ff"/>
<rect x="1075.30" y="321" width="3.10" height="1" fill="#0000ff"/>
<rect x="1072" y="315.70" width="1" height="11.82" fill="#0000ff"/>
<rect x="1076.60" y="320" width="3.90" height="1" fill="#0000ff"/>
<rect x="1085.30" y="320" width="3.10" height="1" fill="#0000ff"/>
<rect x="1082" y="314.70" width="1" height="11.82" fill="#0000ff"/>
<rect x="1086.60" y="309" width="3.90" height="1" fill="#0000ff"/>
<rect x="1095.30" y="309" width="3.10" height="1" fill="#0000ff"/>
<rect x="1092" y="303.70" width="1" height="11.82" fill="#0000ff"/>
<rect x="1097.60" y="298" width="3.90" height="1" fill="#0000ff"/>
<rect x="1106.30" y="298" width="3.10" height="1" fill="#0000ff"/>
<rect x="1103" y="292.70" width="1" height="11.82" fill="#0000ff"/>
<rect x="1107.60" y="310" width="3.90" height="1" fill="#0000ff"/>
<rect x="1116.30" y="310" width="3.10" height="1" fill="#0000ff"/>
<rect x="1113" y="304.70" width="1" height="11.82" fill="#0000ff"/>
<rect x="1117.60" y="340" width="3.90" height="1" fill="#0000ff"/>
<rect x="1126.30" y="340" width="3.10" height="1" fill="#0000ff"/>
<rect x="1123" y="334.70" width="1" height="11.82" fill="#0000ff"/>
<rect x="1127.60" y="407" width="3.90" height="1" fill="#0000ff"/>
<rect x="1136.30" y="407" width="3.10" height="1" fill="#0000ff"/>
<rect x="1133" y="401.80" width="1" height="11.82" fill="#0000ff"/>
<rect x="1137.60" y="345" width="3.90" height="1" fill="#0000ff"/>
<rect x="1146.30" y="345" width="3.10" height="1" fill="#0000ff"/>
<rect x="1143" y="339.70" width="1" height="11.82" fill="#0000ff"/>
<polygon points="136.20,677.60 134.79,679.89 132.50,681.30 130.21,679.89 128.80,677.60 130.21,675.31 132.50,673.90 134.79,675.31" fill="#0000ff" stroke="#0000ff" stroke-width="0.6" stroke-linejoin="round" shape-rendering="geometricPrecision"/>
<polygon points="146.20,654.20 144.79,656.49 142.50,657.90 140.21,656.49 138.80,654.20 140.21,651.91 142.50,650.50 144.79,651.91" fill="#0000ff" stroke="#0000ff" stroke-width="0.6" stroke-linejoin="round" shape-rendering="geometricPrecision"/>
<polygon points="157.20,582.40 155.79,584.69 153.50,586.10 151.21,584.69 149.80,582.40 151.21,580.11 153.50,578.70 155.79,580.11" fill="#0000ff" stroke="#0000ff" stroke-width="0.6" stroke-linejoin="round" shape-rendering="geometricPrecision"/>
<polygon points="167.20,540.20 165.79,542.49 163.50,543.90 161.21,542.49 159.80,540.20 161.21,537.91 163.50,536.50 165.79,537.91" fill="#0000ff" stroke="#0000ff" stroke-width="0.6" stroke-linejoin="round" shape-rendering="geometricPrecision"/>
<polygon points="177.20,480.20 175.79,482.49 173.50,483.90 171.21,482.49 169.80,480.20 171.21,477.91 173.50,476.50 175.79,477.91" fill="#0000ff" stroke="#0000ff" stroke-width="0.6" stroke-linejoin="round" shape-rendering="geometricPrecision"/>
<polygon points="187.20,413.40 185.79,415.69 183.50,417.10 181.21,415.69 179.80,413.40 181.21,411.11 183.50,409.70 185.79,411.11" fill="#0000ff" stroke="#0000ff" stroke-width="0.6" stroke-linejoin="round" shape-rendering="geometricPrecision"/>
<polygon points="197.20,363.30 195.79,365.59 193.50,367.00 191.21,365.59 189.80,363.30 191.21,361.01 193.50,359.60 195.79,361.01" fill="#0000ff" stroke="#0000ff" stroke-width="0.6" stroke-linejoin="round" shape-rendering="geometricPrecision"/>
<polygon points="208.20,326.50 206.79,328.79 204.50,330.20 202.21,328.79 200.80,326.50 202.21,324.21 204.50,322.80 206.79,324.21" fill="#0000ff" stroke="#0000ff" stroke-width="0.6" stroke-linejoin="round" shape-rendering="geometricPrecision"/>
<polygon points="218.20,264.50 216.79,266.79 214.50,268.20 212.21,266.79 210.80,264.50 212.21,262.21 214.50,260.80 216.79,262.21" fill="#0000ff" stroke="#0000ff" stroke-width="0.6" stroke-linejoin="round" shape-rendering="geometricPrecision"/>
<polygon points="228.20,252.40 226.79,254.69 224.50,256.10 222.21,254.69 220.80,252.40 222.21,250.11 224.50,248.70 226.79,250.11" fill="#0000ff" stroke="#0000ff" stroke-width="0.6" stroke-linejoin="round" shape-rendering="geometricPrecision"/>
<polygon points="238.20,262.00 236.79,264.29 234.50,265.70 232.21,264.29 230.80,262.00 232.21,259.71 234.50,258.30 236.79,259.71" fill="#0000ff" stroke="#0000ff" stroke-width="0.6" stroke-linejoin="round" shape-rendering="geometricPrecision"/>
<polygon points="248.20,274.50 246.79,276.79 244.50,278.20 242.21,276.79 240.80,274.50 242.21,272.21 244.50,270.80 246.79,272.21" fill="#0000ff" stroke="#0000ff" stroke-width="0.6" stroke-linejoin="round" shape-rendering="geometricPrecision"/>
<polygon points="259.20,263.30 257.79,265.59 255.50,267.00 253.21,265.59 251.80,263.30 253.21,261.01 255.50,259.60 257.79,261.01" fill="#0000ff" stroke="#0000ff" stroke-width="0.6" stroke-linejoin="round" shape-rendering="geometricPrecision"/>
<polygon points="269.20,252.40 267.79,254.69 265.50,256.10 263.21,254.69 261.80,252.40 263.21,250.11 265.50,248.70 267.79,250.11" fill="#0000ff" stroke="#0000ff" stroke-width="0.6" stroke-linejoin="round" shape-rendering="geometricPrecision"/>
<polygon points="279.20,229.30 277.79,231.59 275.50,233.00 273.21,231.59 271.80,229.30 273.21,227.01 275.50,225.60 277.79,227.01" fill="#0000ff" stroke="#0000ff" stroke-width="0.6" stroke-linejoin="round" shape-rendering="geometricPrecision"/>
<polygon points="289.20,207.50 287.79,209.79 285.50,211.20 283.21,209.79 281.80,207.50 283.21,205.21 285.50,203.80 287.79,205.21" fill="#0000ff" stroke="#0000ff" stroke-width="0.6" stroke-linejoin="round" shape-rendering="geometricPrecision"/>
<polygon points="300.20,185.20 298.79,187.49 296.50,188.90 294.21,187.49 292.80,185.20 294.21,182.91 296.50,181.50 298.79,182.91" fill="#0000ff" stroke="#0000ff" stroke-width="0.6" stroke-linejoin="round" shape-rendering="geometricPrecision"/>
<polygon points="310.20,173.10 308.79,175.39 306.50,176.80 304.21,175.39 302.80,173.10 304.21,170.81 306.50,169.40 308.79,170.81" fill="#0000ff" stroke="#0000ff" stroke-width="0.6" stroke-linejoin="round" shape-rendering="geometricPrecision"/>
<polygon points="320.20,175.50 318.79,177.79 316.50,179.20 314.21,177.79 312.80,175.50 314.21,173.21 316.50,171.80 318.79,173.21" fill="#0000ff" stroke="#0000ff" stroke-width="0.6" stroke-linejoin="round" shape-rendering="geometricPrecision"/>
<polygon points="330.20,176.10 328.79,178.39 326.50,179.80 324.21,178.39 322.80,176.10 324.21,173.81 326.50,172.40 328.79,173.81" fill="#0000ff" stroke="#0000ff" stroke-width="0.6" stroke-linejoin="round" shape-rendering="geometricPrecision"/>
<polygon points="340.20,186.30 338.79,188.59 336.50,190.00 334.21,188.59 332.80,186.30 334.21,184.01 336.50,182.60 338.79,184.01" fill="#0000ff" stroke="#0000ff" stroke-width="0.6" stroke-linejoin="round" shape-rendering="geometricPrecision"/>
<polygon points="351.20,192.30 349.79,194.59 347.50,196.00 345.21,194.59 343.80,192.30 345.21,190.01 347.50,188.60 349.79,190.01" fill="#0000ff" stroke="#0000ff" stroke-width="0.6" stroke-linejoin="round" shape-rendering="geometricPrecision"/>
<polygon points="361.20,198.30 359.79,200.59 357.50,202.00 355.21,200.59 353.80,198.30 355.21,196.01 357.50,194.60 359.79,196.01" fill="#0000ff" stroke="#0000ff" stroke-width="0.6" stroke-linejoin="round" shape-rendering="geometricPrecision"/>
<polygon points="371.20,202.40 369.79,204.69 367.50,206.10 365.21,204.69 363.80,202.40 365.21,200.11 367.50,198.70 369.79,200.11" fill="#0000ff" stroke="#0000ff" stroke-width="0.6" stroke-linejoin="round" shape-rendering="geometricPrecision"/>
<polygon points="381.20,215.30 379.79,217.59 377.50,219.00 375.21,217.59 373.80,215.30 375.21,213.01 377.50,211.60 379.79,213.01" fill="#0000ff" stroke="#0000ff" stroke-width="0.6" stroke-linejoin="round" shape-rendering="geometricPrecision"/>
<polygon points="391.20,219.20 389.79,221.49 387.50,222.90 385.21,221.49 383.80,219.20 385.21,216.91 387.50,215.50 389.79,216.91" fill="#0000ff" stroke="#0000ff" stroke-width="0.6" stroke-linejoin="round" shape-rendering="geometricPrecision"/>
<polygon points="402.20,222.20 400.79,224.49 398.50,225.90 396.21,224.49 394.80,222.20 396.21,219.91 398.50,218.50 400.79,219.91" fill="#0000ff" stroke="#0000ff" stroke-width="0.6" stroke-linejoin="round" shape-rendering="geometricPrecision"/>
<polygon points="412.20,225.30 410.79,227.59 408.50,229.00 406.21,227.59 404.80,225.30 406.21,223.01 408.50,221.60 410.79,223.01" fill="#0000ff" stroke="#0000ff" stroke-width="0.6" stroke-linejoin="round" shape-rendering="geometricPrecision"/>
<polygon points="422.20,230.40 420.79,232.69 418.50,234.10 416.21,232.69 414.80,230.40 416.21,228.11 418.50,226.70 420.79,228.11" fill="#0000ff" stroke="#0000ff" stroke-width="0.6" stroke-linejoin="round" shape-rendering="geometricPrecision"/>
<polygon points="432.20,238.60 430.79,240.89 428.50,242.30 426.21,240.89 424.80,238.60 426.21,236.31 428.50,234.90 430.79,236.31" fill="#0000ff" stroke="#0000ff" stroke-width="0.6" stroke-linejoin="round" shape-rendering="geometricPrecision"/>
<polygon points="443.20,235.20 441.79,237.49 439.50,238.90 437.21,237.49 435.80,235.20 437.21,232.91 439.50,231.50 441.79,232.91" fill="#0000ff" stroke="#0000ff" stroke-width="0.6" stroke-linejoin="round" shape-rendering="geometricPrecision"/>
<polygon points="453.20,236.60 451.79,238.89 449.50,240.30 447.21,238.89 445.80,236.60 447.21,234.31 449.50,232.90 451.79,234.31" fill="#0000ff" stroke="#0000ff" stroke-width="0.6" stroke-linejoin="round" shape-rendering="geometricPrecision"/>
<polygon points="463.20,234.40 461.79,236.69 459.50,238.10 457.21,236.69 455.80,234.40 457.21,232.11 459.50,230.70 461.79,232.11" fill="#0000ff" stroke="#0000ff" stroke-width="0.6" stroke-linejoin="round" shape-rendering="geometricPrecision"/>
<polygon points="473.20,236.60 471.79,238.89 469.50,240.30 467.21,238.89 465.80,236.60 467.21,234.31 469.50,232.90 471.79,234.31" fill="#0000ff" stroke="#0000ff" stroke-width="0.6" stroke-linejoin="round" shape-rendering="geometricPrecision"/>
<polygon points="483.20,242.60 481.79,244.89 479.50,246.30 477.21,244.89 475.80,242.60 477.21,240.31 479.50,238.90 481.79,240.31" fill="#0000ff" stroke="#0000ff" stroke-width="0.6" stroke-linejoin="round" shape-rendering="geometricPrecision"/>
<polygon points="494.20,235.30 492.79,237.59 490.50,239.00 488.21,237.59 486.80,235.30 488.21,233.01 490.50,231.60 492.79,233.01" fill="#0000ff" stroke="#0000ff" stroke-width="0.6" stroke-linejoin="round" shape-rendering="geometricPrecision"/>
<polygon points="504.20,237.40 502.79,239.69 500.50,241.10 498.21,239.69 496.80,237.40 498.21,235.11 500.50,233.70 502.79,235.11" fill="#0000ff" stroke="#0000ff" stroke-width="0.6" stroke-linejoin="round" shape-rendering="geometricPrecision"/>
<polygon points="514.20,242.20 512.79,244.49 510.50,245.90 508.21,244.49 506.80,242.20 508.21,239.91 510.50,238.50 512.79,239.91" fill="#0000ff" stroke="#0000ff" stroke-width="0.6" stroke-linejoin="round" shape-rendering="geometricPrecision"/>
<polygon points="524.20,239.60 522.79,241.89 520.50,243.30 518.21,241.89 516.80,239.60 518.21,237.31 520.50,235.90 522.79,237.31" fill="#0000ff" stroke="#0000ff" stroke-width="0.6" stroke-linejoin="round" shape-rendering="geometricPrecision"/>
<polygon points="534.20,238.30 532.79,240.59 530.50,242.00 528.21,240.59 526.80,238.30 528.21,236.01 530.50,234.60 532.79,236.01" fill="#0000ff" stroke="#0000ff" stroke-width="0.6" stroke-linejoin="round" shape-rendering="geometricPrecision"/>
<polygon points="545.20,238.30 543.79,240.59 541.50,242.00 539.21,240.59 537.80,238.30 539.21,236.01 541.50,234.60 543.79,236.01" fill="#0000ff" stroke="#0000ff" stroke-width="0.6" stroke-linejoin="round" shape-rendering="geometricPrecision"/>
<polygon points="555.20,241.30 553.79,243.59 551.50,245.00 549.21,243.59 547.80,241.30 549.21,239.01 551.50,237.60 553.79,239.01" fill="#0000ff" stroke="#0000ff" stroke-width="0.6" stroke-linejoin="round" shape-rendering="geometricPrecision"/>
<polygon points="565.20,241.50 563.79,243.79 561.50,245.20 559.21,243.79 557.80,241.50 559.21,239.21 561.50,237.80 563.79,239.21" fill="#0000ff" stroke="#0000ff" stroke-width="0.6" stroke-linejoin="round" shape-rendering="geometricPrecision"/>
<polygon points="575.20,251.30 573.79,253.59 571.50,255.00 569.21,253.59 567.80,251.30 569.21,249.01 571.50,247.60 573.79,249.01" fill="#0000ff" stroke="#0000ff" stroke-width="0.6" stroke-linejoin="round" shape-rendering="geometricPrecision"/>
<polygon points="586.20,255.20 584.79,257.49 582.50,258.90 580.21,257.49 578.80,255.20 580.21,252.91 582.50,251.50 584.79,252.91" fill="#0000ff" stroke="#0000ff" stroke-width="0.6" stroke-linejoin="round" shape-rendering="geometricPrecision"/>
<polygon points="596.20,256.20 594.79,258.49 592.50,259.90 590.21,258.49 588.80,256.20 590.21,253.91 592.50,252.50 594.79,253.91" fill="#0000ff" stroke="#0000ff" stroke-width="0.6" stroke-linejoin="round" shape-rendering="geometricPrecision"/>
<polygon points="606.20,260.60 604.79,262.89 602.50,264.30 600.21,262.89 598.80,260.60 600.21,258.31 602.50,256.90 604.79,258.31" fill="#0000ff" stroke="#0000ff" stroke-width="0.6" stroke-linejoin="round" shape-rendering="geometricPrecision"/>
<polygon points="616.20,261.40 614.79,263.69 612.50,265.10 610.21,263.69 608.80,261.40 610.21,259.11 612.50,257.70 614.79,259.11" fill="#0000ff" stroke="#0000ff" stroke-width="0.6" stroke-linejoin="round" shape-rendering="geometricPrecision"/>
<polygon points="626.20,274.00 624.79,276.29 622.50,277.70 620.21,276.29 618.80,274.00 620.21,271.71 622.50,270.30 624.79,271.71" fill="#0000ff" stroke="#0000ff" stroke-width="0.6" stroke-linejoin="round" shape-rendering="geometricPrecision"/>
<polygon points="637.20,284.20 635.79,286.49 633.50,287.90 631.21,286.49 629.80,284.20 631.21,281.91 633.50,280.50 635.79,281.91" fill="#0000ff" stroke="#0000ff" stroke-width="0.6" stroke-linejoin="round" shape-rendering="geometricPrecision"/>
<polygon points="647.20,295.20 645.79,297.49 643.50,298.90 641.21,297.49 639.80,295.20 641.21,292.91 643.50,291.50 645.79,292.91" fill="#0000ff" stroke="#0000ff" stroke-width="0.6" stroke-linejoin="round" shape-rendering="geometricPrecision"/>
<polygon points="657.20,314.20 655.79,316.49 653.50,317.90 651.21,316.49 649.80,314.20 651.21,311.91 653.50,310.50 655.79,311.91" fill="#0000ff" stroke="#0000ff" stroke-width="0.6" stroke-linejoin="round" shape-rendering="geometricPrecision"/>
<polygon points="667.20,314.20 665.79,316.49 663.50,317.90 661.21,316.49 659.80,314.20 661.21,311.91 663.50,310.50 665.79,311.91" fill="#0000ff" stroke="#0000ff" stroke-width="0.6" stroke-linejoin="round" shape-rendering="geometricPrecision"/>
<polygon points="678.20,336.30 676.79,338.59 674.50,340.00 672.21,338.59 670.80,336.30 672.21,334.01 674.50,332.60 676.79,334.01" fill="#0000ff" stroke="#0000ff" stroke-width="0.6" stroke-linejoin="round" shape-rendering="geometricPrecision"/>
<polygon points="688.20,342.00 686.79,344.29 684.50,345.70 682.21,344.29 680.80,342.00 682.21,339.71 684.50,338.30 686.79,339.71" fill="#0000ff" stroke="#0000ff" stroke-width="0.6" stroke-linejoin="round" shape-rendering="geometricPrecision"/>
<polygon points="698.20,360.20 696.79,362.49 694.50,363.90 692.21,362.49 690.80,360.20 692.21,357.91 694.50,356.50 696.79,357.91" fill="#0000ff" stroke="#0000ff" stroke-width="0.6" stroke-linejoin="round" shape-rendering="geometricPrecision"/>
<polygon points="708.20,361.60 706.79,363.89 704.50,365.30 702.21,363.89 700.80,361.60 702.21,359.31 704.50,357.90 706.79,359.31" fill="#0000ff" stroke="#0000ff" stroke-width="0.6" stroke-linejoin="round" shape-rendering="geometricPrecision"/>
<polygon points="718.20,360.60 716.79,362.89 714.50,364.30 712.21,362.89 710.80,360.60 712.21,358.31 714.50,356.90 716.79,358.31" fill="#0000ff" stroke="#0000ff" stroke-width="0.6" stroke-linejoin="round" shape-rendering="geometricPrecision"/>
<polygon points="729.20,362.50 727.79,364.79 725.50,366.20 723.21,364.79 721.80,362.50 723.21,360.21 725.50,358.80 727.79,360.21" fill="#0000ff" stroke="#0000ff" stroke-width="0.6" stroke-linejoin="round" shape-rendering="geometricPrecision"/>
<polygon points="739.20,376.90 737.79,379.19 735.50,380.60 733.21,379.19 731.80,376.90 733.21,374.61 735.50,373.20 737.79,374.61" fill="#0000ff" stroke="#0000ff" stroke-width="0.6" stroke-linejoin="round" shape-rendering="geometricPrecision"/>
<polygon points="749.20,375.40 747.79,377.69 745.50,379.10 743.21,377.69 741.80,375.40 743.21,373.11 745.50,371.70 747.79,373.11" fill="#0000ff" stroke="#0000ff" stroke-width="0.6" stroke-linejoin="round" shape-rendering="geometricPrecision"/>
<polygon points="759.20,374.30 757.79,376.59 755.50,378.00 753.21,376.59 751.80,374.30 753.21,372.01 755.50,370.60 757.79,372.01" fill="#0000ff" stroke="#0000ff" stroke-width="0.6" stroke-linejoin="round" shape-rendering="geometricPrecision"/>
<polygon points="769.20,381.50 767.79,383.79 765.50,385.20 763.21,383.79 761.80,381.50 763.21,379.21 765.50,377.80 767.79,379.21" fill="#0000ff" stroke="#0000ff" stroke-width="0.6" stroke-linejoin="round" shape-rendering="geometricPrecision"/>
<polygon points="780.20,376.10 778.79,378.39 776.50,379.80 774.21,378.39 772.80,376.10 774.21,373.81 776.50,372.40 778.79,373.81" fill="#0000ff" stroke="#0000ff" stroke-width="0.6" stroke-linejoin="round" shape-rendering="geometricPrecision"/>
<polygon points="790.20,365.30 788.79,367.59 786.50,369.00 784.21,367.59 782.80,365.30 784.21,363.01 786.50,361.60 788.79,363.01" fill="#0000ff" stroke="#0000ff" stroke-width="0.6" stroke-linejoin="round" shape-rendering="geometricPrecision"/>
<polygon points="800.20,372.00 798.79,374.29 796.50,375.70 794.21,374.29 792.80,372.00 794.21,369.71 796.50,368.30 798.79,369.71" fill="#0000ff" stroke="#0000ff" stroke-width="0.6" stroke-linejoin="round" shape-rendering="geometricPrecision"/>
<polygon points="810.20,381.50 808.79,383.79 806.50,385.20 804.21,383.79 802.80,381.50 804.21,379.21 806.50,377.80 808.79,379.21" fill="#0000ff" stroke="#0000ff" stroke-width="0.6" stroke-linejoin="round" shape-rendering="geometricPrecision"/>
<polygon points="821.20,373.40 819.79,375.69 817.50,377.10 815.21,375.69 813.80,373.40 815.21,371.11 817.50,369.70 819.79,371.11" fill="#0000ff" stroke="#0000ff" stroke-width="0.6" stroke-linejoin="round" shape-rendering="geometricPrecision"/>
<polygon points="831.20,370.60 829.79,372.89 827.50,374.30 825.21,372.89 823.80,370.60 825.21,368.31 827.50,366.90 829.79,368.31" fill="#0000ff" stroke="#0000ff" stroke-width="0.6" stroke-linejoin="round" shape-rendering="geometricPrecision"/>
<polygon points="841.20,366.50 839.79,368.79 837.50,370.20 835.21,368.79 833.80,366.50 835.21,364.21 837.50,362.80 839.79,364.21" fill="#0000ff" stroke="#0000ff" stroke-width="0.6" stroke-linejoin="round" shape-rendering="geometricPrecision"/>
<polygon points="851.20,359.10 849.79,361.39 847.50,362.80 845.21,361.39 843.80,359.10 845.21,356.81 847.50,355.40 849.79,356.81" fill="#0000ff" stroke="#0000ff" stroke-width="0.6" stroke-linejoin="round" shape-rendering="geometricPrecision"/>
<polygon points="861.20,357.40 859.79,359.69 857.50,361.10 855.21,359.69 853.80,357.40 855.21,355.11 857.50,353.70 859.79,355.11" fill="#0000ff" stroke="#0000ff" stroke-width="0.6" stroke-linejoin="round" shape-rendering="geometricPrecision"/>
<polygon points="872.20,359.20 870.79,361.49 868.50,362.90 866.21,361.49 864.80,359.20 866.21,356.91 868.50,355.50 870.79,356.91" fill="#0000ff" stroke="#0000ff" stroke-width="0.6" stroke-linejoin="round" shape-rendering="geometricPrecision"/>
<polygon points="882.20,359.20 880.79,361.49 878.50,362.90 876.21,361.49 874.80,359.20 876.21,356.91 878.50,355.50 880.79,356.91" fill="#0000ff" stroke="#0000ff" stroke-width="0.6" stroke-linejoin="round" shape-rendering="geometricPrecision"/>
<polygon points="892.20,349.20 890.79,351.49 888.50,352.90 886.21,351.49 884.80,349.20 886.21,346.91 888.50,345.50 890.79,346.91" fill="#0000ff" stroke="#0000ff" stroke-width="0.6" stroke-linejoin="round" shape-rendering="geometricPrecision"/>
<polygon points="902.20,336.60 900.79,338.89 898.50,340.30 896.21,338.89 894.80,336.60 896.21,334.31 898.50,332.90 900.79,334.31" fill="#0000ff" stroke="#0000ff" stroke-width="0.6" stroke-linejoin="round" shape-rendering="geometricPrecision"/>
<polygon points="912.20,330.30 910.79,332.59 908.50,334.00 906.21,332.59 904.80,330.30 906.21,328.01 908.50,326.60 910.79,328.01" fill="#0000ff" stroke="#0000ff" stroke-width="0.6" stroke-linejoin="round" shape-rendering="geometricPrecision"/>
<polygon points="923.20,319.40 921.79,321.69 919.50,323.10 917.21,321.69 915.80,319.40 917.21,317.11 919.50,315.70 921.79,317.11" fill="#0000ff" stroke="#0000ff" stroke-width="0.6" stroke-linejoin="round" shape-rendering="geometricPrecision"/>
<polygon points="933.20,317.60 931.79,319.89 929.50,321.30 927.21,319.89 925.80,317.60 927.21,315.31 929.50,313.90 931.79,315.31" fill="#0000ff" stroke="#0000ff" stroke-width="0.6" stroke-linejoin="round" shape-rendering="geometricPrecision"/>
<polygon points="943.20,318.20 941.79,320.49 939.50,321.90 937.21,320.49 935.80,318.20 937.21,315.91 939.50,314.50 941.79,315.91" fill="#0000ff" stroke="#0000ff" stroke-width="0.6" stroke-linejoin="round" shape-rendering="geometricPrecision"/>
<polygon points="953.20,295.20 951.79,297.49 949.50,298.90 947.21,297.49 945.80,295.20 947.21,292.91 949.50,291.50 951.79,292.91" fill="#0000ff" stroke="#0000ff" stroke-width="0.6" stroke-linejoin="round" shape-rendering="geometricPrecision"/>
<polygon points="964.20,288.40 962.79,290.69 960.50,292.10 958.21,290.69 956.80,288.40 958.21,286.11 960.50,284.70 962.79,286.11" fill="#0000ff" stroke="#0000ff" stroke-width="0.6" stroke-linejoin="round" shape-rendering="geometricPrecision"/>
<polygon points="974.20,271.30 972.79,273.59 970.50,275.00 968.21,273.59 966.80,271.30 968.21,269.01 970.50,267.60 972.79,269.01" fill="#0000ff" stroke="#0000ff" stroke-width="0.6" stroke-linejoin="round" shape-rendering="geometricPrecision"/>
<polygon points="984.20,251.40 982.79,253.69 980.50,255.10 978.21,253.69 976.80,251.40 978.21,249.11 980.50,247.70 982.79,249.11" fill="#0000ff" stroke="#0000ff" stroke-width="0.6" stroke-linejoin="round" shape-rendering="geometricPrecision"/>
<polygon points="994.20,226.30 992.79,228.59 990.50,230.00 988.21,228.59 986.80,226.30 988.21,224.01 990.50,222.60 992.79,224.01" fill="#0000ff" stroke="#0000ff" stroke-width="0.6" stroke-linejoin="round" shape-rendering="geometricPrecision"/>
<polygon points="1004.20,236.30 1002.79,238.59 1000.50,240.00 998.21,238.59 996.80,236.30 998.21,234.01 1000.50,232.60 1002.79,234.01" fill="#0000ff" stroke="#0000ff" stroke-width="0.6" stroke-linejoin="round" shape-rendering="geometricPrecision"/>
<polygon points="1015.20,240.30 1013.79,242.59 1011.50,244.00 1009.21,242.59 1007.80,240.30 1009.21,238.01 1011.50,236.60 1013.79,238.01" fill="#0000ff" stroke="#0000ff" stroke-width="0.6" stroke-linejoin="round" shape-rendering="geometricPrecision"/>
<polygon points="1025.20,242.10 1023.79,244.39 1021.50,245.80 1019.21,244.39 1017.80,242.10 1019.21,239.81 1021.50,238.40 1023.79,239.81" fill="#0000ff" stroke="#0000ff" stroke-width="0.6" stroke-linejoin="round" shape-rendering="geometricPrecision"/>
<polygon points="1035.20,251.30 1033.79,253.59 1031.50,255.00 1029.21,253.59 1027.80,251.30 1029.21,249.01 1031.50,247.60 1033.79,249.01" fill="#0000ff" stroke="#0000ff" stroke-width="0.6" stroke-linejoin="round" shape-rendering="geometricPrecision"/>
<polygon points="1045.20,259.40 1043.79,261.69 1041.50,263.10 1039.21,261.69 1037.80,259.40 1039.21,257.11 1041.50,255.70 1043.79,257.11" fill="#0000ff" stroke="#0000ff" stroke-width="0.6" stroke-linejoin="round" shape-rendering="geometricPrecision"/>
<polygon points="1055.20,270.40 1053.79,272.69 1051.50,274.10 1049.21,272.69 1047.80,270.40 1049.21,268.11 1051.50,266.70 1053.79,268.11" fill="#0000ff" stroke="#0000ff" stroke-width="0.6" stroke-linejoin="round" shape-rendering="geometricPrecision"/>
<polygon points="1066.20,283.40 1064.79,285.69 1062.50,287.10 1060.21,285.69 1058.80,283.40 1060.21,281.11 1062.50,279.70 1064.79,281.11" fill="#0000ff" stroke="#0000ff" stroke-width="0.6" stroke-linejoin="round" shape-rendering="geometricPrecision"/>
<polygon points="1076.20,321.20 1074.79,323.49 1072.50,324.90 1070.21,323.49 1068.80,321.20 1070.21,318.91 1072.50,317.50 1074.79,318.91" fill="#0000ff" stroke="#0000ff" stroke-width="0.6" stroke-linejoin="round" shape-rendering="geometricPrecision"/>
<polygon points="1086.20,320.20 1084.79,322.49 1082.50,323.90 1080.21,322.49 1078.80,320.20 1080.21,317.91 1082.50,316.50 1084.79,317.91" fill="#0000ff" stroke="#0000ff" stroke-width="0.6" stroke-linejoin="round" shape-rendering="geometricPrecision"/>
<polygon points="1096.20,309.20 1094.79,311.49 1092.50,312.90 1090.21,311.49 1088.80,309.20 1090.21,306.91 1092.50,305.50 1094.79,306.91" fill="#0000ff" stroke="#0000ff" stroke-width="0.6" stroke-linejoin="round" shape-rendering="geometricPrecision"/>
<polygon points="1107.20,298.20 1105.79,300.49 1103.50,301.90 1101.21,300.49 1099.80,298.20 1101.21,295.91 1103.50,294.50 1105.79,295.91" fill="#0000ff" stroke="#0000ff" stroke-width="0.6" stroke-linejoin="round" shape-rendering="geometricPrecision"/>
<polygon points="1117.20,310.20 1115.79,312.49 1113.50,313.90 1111.21,312.49 1109.80,310.20 1111.21,307.91 1113.50,306.50 1115.79,307.91" fill="#0000ff" stroke="#0000ff" stroke-width="0.6" stroke-linejoin="round" shape-rendering="geometricPrecision"/>
<polygon points="1127.20,340.20 1125.79,342.49 1123.50,343.90 1121.21,342.49 1119.80,340.20 1121.21,337.91 1123.50,336.50 1125.79,337.91" fill="#0000ff" stroke="#0000ff" stroke-width="0.6" stroke-linejoin="round" shape-rendering="geometricPrecision"/>
<polygon points="1137.20,407.30 1135.79,409.59 1133.50,411.00 1131.21,409.59 1129.80,407.30 1131.21,405.01 1133.50,403.60 1135.79,405.01" fill="#0000ff" stroke="#0000ff" stroke-width="0.6" stroke-linejoin="round" shape-rendering="geometricPrecision"/>
<polygon points="1147.20,345.20 1145.79,347.49 1143.50,348.90 1141.21,347.49 1139.80,345.20 1141.21,342.91 1143.50,341.50 1145.79,342.91" fill="#0000ff" stroke="#0000ff" stroke-width="0.6" stroke-linejoin="round" shape-rendering="geometricPrecision"/>
</g>
<g shape-rendering="crispEdges">
<rect x="598" y="104" width="88" height="149" fill="#000"/>
<rect x="593" y="99" width="90" height="151" fill="#000"/>
<rect x="594" y="100" width="88" height="149" fill="#fff"/>
<rect x="595" y="100" width="86" height="148" fill="#f2f2f2"/>
<polygon points="594.70,114.50 600.80,114.50 597.75,108.90" fill="#ff0000"/>
<polygon points="602.00,136.65 600.59,138.94 598.30,140.35 596.01,138.94 594.60,136.65 596.01,134.36 598.30,132.95 600.59,134.36" fill="#0000ff" stroke="#0000ff" stroke-width="0.6" stroke-linejoin="round" shape-rendering="geometricPrecision"/>
<polygon points="593.70,157.30 600.90,157.30 597.30,164.50" fill="#009900"/>
<rect x="595.00" y="182.05" width="6" height="6" fill="#990099"/>
<path d="M596.95,206.90h2.5v2.15h2.15v2.5h-2.15v2.15h-2.5v-2.15h-2.15v-2.5h2.15z" fill="#66cccc"/>
<polygon points="594.8,236.05 597.9,233.15 600.6,236.05 597.9,238.95" fill="#000000"/>
</g>
<text transform="translate(604.30,117.00) scale(1.0,1.08)" class="lg">Electron</text>
<text transform="translate(604.30,141.90) scale(1.0,1.08)" class="lg">Muon</text>
<text transform="translate(604.30,166.80) scale(1.0,1.08)" class="lg">Pion</text>
<text transform="translate(604.30,191.70) scale(1.0,1.08)" class="lg">Kaon</text>
<text transform="translate(604.30,216.60) scale(1.0,1.08)" class="lg">Proton</text>
<text transform="translate(604.30,241.50) scale(1.0,1.08)" class="lg">Ghost</text>
<text transform="translate(329.58,935.60) scale(1.0,1.08)" class="xl" text-anchor="middle">0.2</text>
<text transform="translate(531.86,935.60) scale(1.0,1.08)" class="xl" text-anchor="middle">0.4</text>
<text transform="translate(734.14,935.60) scale(1.0,1.08)" class="xl" text-anchor="middle">0.6</text>
<text transform="translate(936.42,935.60) scale(1.0,1.08)" class="xl" text-anchor="middle">0.8</text>
<polygon points="1142.70,915.00 1142.70,934.70 1138.70,934.70 1138.70,920.90 1133.80,920.90 1133.80,918.00 1135.40,917.80 1137.00,917.10 1138.10,916.00 1138.70,915.00" fill="#000"/>
<text transform="translate(101.00,281.70) scale(1.0,1.09)" class="yl" text-anchor="end">0</text>
<polygon points="80.80,261.00 80.80,280.70 76.80,280.70 76.80,266.90 71.90,266.90 71.90,264.00 73.50,263.80 75.10,263.10 76.20,262.00 76.80,261.00" fill="#000"/>
<text transform="translate(101.00,269.00) scale(1.0,1.06)" class="ys">-2</text>
<text transform="translate(101.00,464.60) scale(1.0,1.09)" class="yl" text-anchor="end">0</text>
<polygon points="80.80,443.90 80.80,463.60 76.80,463.60 76.80,449.80 71.90,449.80 71.90,446.90 73.50,446.70 75.10,446.00 76.20,444.90 76.80,443.90" fill="#000"/>
<text transform="translate(101.00,451.90) scale(1.0,1.06)" class="ys">-3</text>
<text transform="translate(101.00,647.50) scale(1.0,1.09)" class="yl" text-anchor="end">0</text>
<polygon points="80.80,626.80 80.80,646.50 76.80,646.50 76.80,632.70 71.90,632.70 71.90,629.80 73.50,629.60 75.10,628.90 76.20,627.80 76.80,626.80" fill="#000"/>
<text transform="translate(101.00,634.80) scale(1.0,1.06)" class="ys">-4</text>
<text transform="translate(101.00,830.40) scale(1.0,1.09)" class="yl" text-anchor="end">0</text>
<polygon points="80.80,809.70 80.80,829.40 76.80,829.40 76.80,815.60 71.90,815.60 71.90,812.70 73.50,812.50 75.10,811.80 76.20,810.70 76.80,809.70" fill="#000"/>
<text transform="translate(101.00,817.70) scale(1.0,1.06)" class="ys">-5</text>
<text transform="translate(1148.00,971.20) scale(0.985,1.07)" class="at" text-anchor="end">Downstream Proton TrackGhostProbability</text>
<text transform="translate(90.5,41.9) scale(1,1.1)" class="tt" textLength="1094.5" lengthAdjust="spacingAndGlyphs">TrackGhostProbability Ghost Downstream | All NaturalMix AllPhysTracksInEvent:AllPhysTracksInEvent ReweightRICH2 EvalWithPreSel | Train:HeavyNoGhosts-Eval:ProtonsGhosts | TMVA-NoPreSels-CombDLL-NoGECs | MLP Norm BP NCycles750 CE tanh SF1.2 CVTest15:1e-16 !UseReg</text>
</svg>
</body></html>
